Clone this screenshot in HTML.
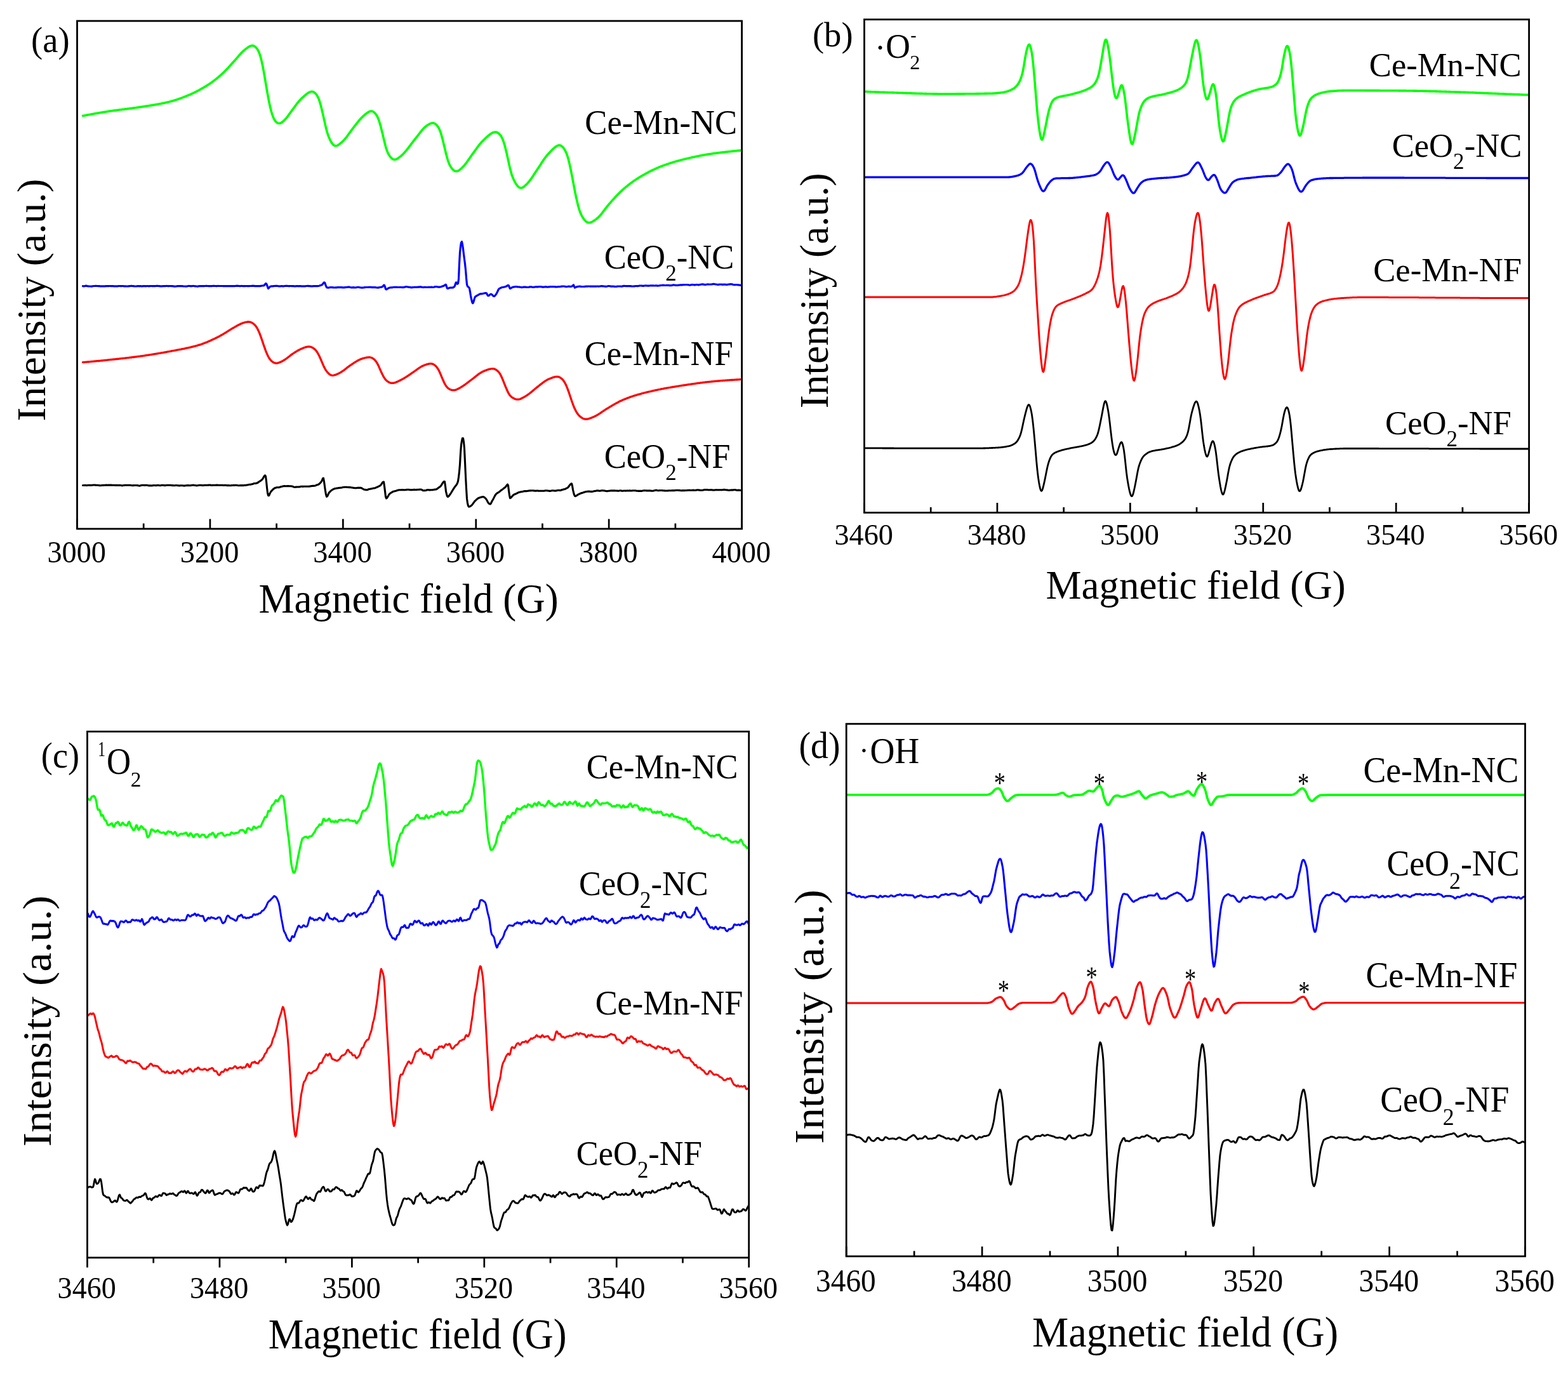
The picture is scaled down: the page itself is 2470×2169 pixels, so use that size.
<!DOCTYPE html>
<html lang="en"><head><meta charset="utf-8"><title>EPR spectra</title>
<style>html,body{margin:0;padding:0;background:#fff}body{width:2470px;height:2169px;overflow:hidden}</style>
</head><body>
<svg xmlns="http://www.w3.org/2000/svg" width="2470" height="2169" viewBox="0 0 2470 2169" style="display:block;font-family:'Liberation Serif', 'Times New Roman', Times, serif" fill="#000">
<rect width="2470" height="2169" fill="#fff"/>
<g><path d="M130.5,182.3 131.5,182.2 132.5,182.1 133.5,181.9 134.5,181.7 135.5,181.5 136.5,181.3 137.5,181.1 138.5,181.0 139.5,180.8 140.5,180.6 141.5,180.4 142.5,180.2 143.5,180.0 144.5,179.8 145.5,179.7 146.5,179.5 147.5,179.3 148.5,179.1 149.5,178.9 150.5,178.8 151.5,178.6 152.5,178.4 153.5,178.2 154.5,178.0 155.5,177.9 156.5,177.7 157.5,177.5 158.5,177.4 159.5,177.2 160.5,177.0 161.5,176.9 162.5,176.7 163.5,176.5 164.5,176.4 165.5,176.2 166.5,176.1 167.5,175.9 168.5,175.7 169.5,175.6 170.5,175.4 171.5,175.3 172.5,175.1 173.5,175.0 174.5,174.8 175.5,174.7 176.5,174.5 177.5,174.4 178.5,174.3 179.5,174.1 180.5,174.0 181.5,173.9 182.5,173.7 183.5,173.6 184.5,173.5 185.5,173.3 186.5,173.2 187.5,173.1 188.5,172.9 189.5,172.8 190.5,172.7 191.5,172.6 192.5,172.4 193.5,172.3 194.5,172.2 195.5,172.1 196.5,171.9 197.5,171.8 198.5,171.7 199.5,171.6 200.5,171.4 201.5,171.3 202.5,171.2 203.5,171.0 204.5,170.9 205.5,170.8 206.5,170.7 207.5,170.5 208.5,170.4 209.5,170.3 210.5,170.1 211.5,170.0 212.5,169.8 213.5,169.7 214.5,169.6 215.5,169.4 216.5,169.3 217.5,169.1 218.5,169.0 219.5,168.8 220.5,168.7 221.5,168.5 222.5,168.4 223.5,168.2 224.5,168.1 225.5,167.9 226.5,167.8 227.5,167.6 228.5,167.4 229.5,167.3 230.5,167.1 231.5,167.0 232.5,166.8 233.5,166.7 234.5,166.5 235.5,166.4 236.5,166.2 237.5,166.0 238.5,165.9 239.5,165.7 240.5,165.5 241.5,165.4 242.5,165.2 243.5,165.0 244.5,164.9 245.5,164.7 246.5,164.5 247.5,164.3 248.5,164.2 249.5,164.0 250.5,163.8 251.5,163.6 252.5,163.4 253.5,163.2 254.5,163.0 255.5,162.8 256.5,162.6 257.5,162.4 258.5,162.2 259.5,162.0 260.5,161.8 261.5,161.5 262.5,161.3 263.5,161.1 264.5,160.9 265.5,160.6 266.5,160.4 267.5,160.1 268.5,159.9 269.5,159.6 270.5,159.3 271.5,159.0 272.5,158.7 273.5,158.4 274.5,158.1 275.5,157.8 276.5,157.5 277.5,157.2 278.5,156.9 279.5,156.5 280.5,156.2 281.5,155.9 282.5,155.5 283.5,155.1 284.5,154.8 285.5,154.4 286.5,154.1 287.5,153.7 288.5,153.3 289.5,152.9 290.5,152.5 291.5,152.1 292.5,151.7 293.5,151.3 294.5,150.9 295.5,150.5 296.5,150.1 297.5,149.7 298.5,149.3 299.5,148.8 300.5,148.4 301.5,147.9 302.5,147.5 303.5,147.0 304.5,146.5 305.5,146.1 306.5,145.6 307.5,145.1 308.5,144.6 309.5,144.1 310.5,143.5 311.5,143.0 312.5,142.5 313.5,142.0 314.5,141.4 315.5,140.9 316.5,140.3 317.5,139.7 318.5,139.2 319.5,138.6 320.5,138.0 321.5,137.4 322.5,136.8 323.5,136.2 324.5,135.6 325.5,135.0 326.5,134.4 327.5,133.7 328.5,133.1 329.5,132.4 330.5,131.7 331.5,131.1 332.5,130.4 333.5,129.7 334.5,128.9 335.5,128.2 336.5,127.4 337.5,126.7 338.5,125.9 339.5,125.1 340.5,124.3 341.5,123.5 342.5,122.7 343.5,121.9 344.5,121.0 345.5,120.2 346.5,119.3 347.5,118.4 348.5,117.6 349.5,116.6 350.5,115.7 351.5,114.8 352.5,113.8 353.5,112.9 354.5,111.8 355.5,110.8 356.5,109.8 357.5,108.7 358.5,107.7 359.5,106.6 360.5,105.5 361.5,104.4 362.5,103.3 363.5,102.2 364.5,101.1 365.5,99.9 366.5,98.8 367.5,97.7 368.5,96.6 369.5,95.5 370.5,94.4 371.5,93.3 372.5,92.1 373.5,91.0 374.5,89.8 375.5,88.6 376.5,87.5 377.5,86.3 378.5,85.2 379.5,84.1 380.5,83.0 381.5,82.0 382.5,81.1 383.5,80.1 384.5,79.3 385.5,78.4 386.5,77.6 387.5,76.8 388.5,76.1 389.5,75.3 390.5,74.6 391.5,74.0 392.5,73.4 393.5,72.8 394.5,72.4 395.5,72.1 396.5,71.9 397.5,71.8 398.5,71.9 399.5,72.2 400.5,72.6 401.5,73.3 402.5,74.1 403.5,75.1 404.5,76.3 405.5,77.7 406.5,79.4 407.5,81.4 408.5,83.8 409.5,86.6 410.5,90.0 411.5,93.7 412.5,98.0 413.5,102.6 414.5,107.7 415.5,113.1 416.5,118.7 417.5,124.6 418.5,130.6 419.5,136.5 420.5,142.4 421.5,148.1 422.5,153.5 423.5,158.7 424.5,163.6 425.5,168.1 426.5,172.2 427.5,176.0 428.5,179.3 429.5,182.3 430.5,184.9 431.5,187.1 432.5,188.9 433.5,190.4 434.5,191.6 435.5,192.5 436.5,193.3 437.5,193.8 438.5,194.2 439.5,194.3 440.5,194.2 441.5,194.0 442.5,193.6 443.5,193.0 444.5,192.3 445.5,191.6 446.5,190.7 447.5,189.8 448.5,188.8 449.5,187.8 450.5,186.6 451.5,185.4 452.5,184.1 453.5,182.8 454.5,181.4 455.5,180.0 456.5,178.6 457.5,177.2 458.5,175.8 459.5,174.5 460.5,173.1 461.5,171.8 462.5,170.4 463.5,169.1 464.5,167.7 465.5,166.4 466.5,165.0 467.5,163.7 468.5,162.4 469.5,161.1 470.5,159.9 471.5,158.8 472.5,157.7 473.5,156.6 474.5,155.6 475.5,154.6 476.5,153.7 477.5,152.8 478.5,151.9 479.5,151.0 480.5,150.1 481.5,149.3 482.5,148.5 483.5,147.7 484.5,147.0 485.5,146.3 486.5,145.7 487.5,145.2 488.5,144.8 489.5,144.5 490.5,144.3 491.5,144.3 492.5,144.4 493.5,144.7 494.5,145.2 495.5,145.9 496.5,146.8 497.5,147.8 498.5,149.1 499.5,150.6 500.5,152.3 501.5,154.4 502.5,156.9 503.5,159.9 504.5,163.2 505.5,166.9 506.5,170.8 507.5,175.0 508.5,179.3 509.5,183.7 510.5,188.2 511.5,192.7 512.5,197.1 513.5,201.3 514.5,205.2 515.5,208.7 516.5,211.9 517.5,214.7 518.5,217.1 519.5,219.4 520.5,221.4 521.5,223.3 522.5,224.9 523.5,226.3 524.5,227.5 525.5,228.5 526.5,229.2 527.5,229.6 528.5,229.8 529.5,229.7 530.5,229.5 531.5,229.1 532.5,228.6 533.5,227.9 534.5,227.2 535.5,226.4 536.5,225.6 537.5,224.7 538.5,223.8 539.5,222.9 540.5,221.9 541.5,220.9 542.5,219.8 543.5,218.7 544.5,217.5 545.5,216.3 546.5,215.0 547.5,213.7 548.5,212.3 549.5,210.9 550.5,209.5 551.5,208.1 552.5,206.7 553.5,205.4 554.5,204.0 555.5,202.7 556.5,201.3 557.5,200.0 558.5,198.8 559.5,197.5 560.5,196.2 561.5,194.9 562.5,193.7 563.5,192.4 564.5,191.2 565.5,189.9 566.5,188.8 567.5,187.6 568.5,186.5 569.5,185.5 570.5,184.5 571.5,183.5 572.5,182.6 573.5,181.7 574.5,180.9 575.5,180.0 576.5,179.2 577.5,178.5 578.5,177.7 579.5,177.1 580.5,176.5 581.5,175.9 582.5,175.5 583.5,175.2 584.5,175.1 585.5,175.1 586.5,175.3 587.5,175.7 588.5,176.3 589.5,177.1 590.5,178.1 591.5,179.2 592.5,180.6 593.5,182.1 594.5,184.0 595.5,186.1 596.5,188.7 597.5,191.6 598.5,194.9 599.5,198.5 600.5,202.3 601.5,206.3 602.5,210.4 603.5,214.6 604.5,218.8 605.5,223.0 606.5,227.0 607.5,230.8 608.5,234.2 609.5,237.1 610.5,239.7 611.5,241.8 612.5,243.6 613.5,245.2 614.5,246.6 615.5,247.8 616.5,248.9 617.5,249.8 618.5,250.5 619.5,251.0 620.5,251.3 621.5,251.4 622.5,251.3 623.5,251.1 624.5,250.7 625.5,250.2 626.5,249.6 627.5,248.9 628.5,248.2 629.5,247.4 630.5,246.6 631.5,245.8 632.5,244.9 633.5,244.0 634.5,243.0 635.5,242.0 636.5,241.0 637.5,239.9 638.5,238.7 639.5,237.6 640.5,236.3 641.5,235.1 642.5,233.8 643.5,232.5 644.5,231.2 645.5,229.9 646.5,228.6 647.5,227.2 648.5,225.9 649.5,224.6 650.5,223.3 651.5,221.9 652.5,220.7 653.5,219.4 654.5,218.1 655.5,216.9 656.5,215.6 657.5,214.3 658.5,213.1 659.5,211.8 660.5,210.5 661.5,209.2 662.5,207.9 663.5,206.7 664.5,205.4 665.5,204.2 666.5,203.1 667.5,202.1 668.5,201.1 669.5,200.2 670.5,199.3 671.5,198.5 672.5,197.8 673.5,197.1 674.5,196.5 675.5,195.9 676.5,195.3 677.5,194.8 678.5,194.4 679.5,194.1 680.5,193.8 681.5,193.8 682.5,193.8 683.5,194.0 684.5,194.5 685.5,195.0 686.5,195.8 687.5,196.7 688.5,197.8 689.5,199.1 690.5,200.6 691.5,202.4 692.5,204.5 693.5,207.0 694.5,209.9 695.5,213.3 696.5,216.9 697.5,220.9 698.5,224.9 699.5,229.1 700.5,233.2 701.5,237.4 702.5,241.5 703.5,245.4 704.5,249.1 705.5,252.5 706.5,255.4 707.5,257.9 708.5,260.1 709.5,261.9 710.5,263.5 711.5,264.9 712.5,266.1 713.5,267.2 714.5,268.1 715.5,268.8 716.5,269.4 717.5,269.7 718.5,269.8 719.5,269.8 720.5,269.5 721.5,269.1 722.5,268.6 723.5,267.9 724.5,267.2 725.5,266.4 726.5,265.5 727.5,264.6 728.5,263.6 729.5,262.6 730.5,261.5 731.5,260.4 732.5,259.2 733.5,257.9 734.5,256.6 735.5,255.2 736.5,253.8 737.5,252.3 738.5,250.9 739.5,249.4 740.5,248.0 741.5,246.6 742.5,245.2 743.5,243.8 744.5,242.4 745.5,241.0 746.5,239.6 747.5,238.3 748.5,236.9 749.5,235.5 750.5,234.1 751.5,232.7 752.5,231.3 753.5,230.0 754.5,228.7 755.5,227.4 756.5,226.2 757.5,225.1 758.5,223.9 759.5,222.9 760.5,221.8 761.5,220.9 762.5,219.9 763.5,218.9 764.5,218.0 765.5,217.1 766.5,216.1 767.5,215.2 768.5,214.3 769.5,213.5 770.5,212.7 771.5,211.9 772.5,211.1 773.5,210.5 774.5,209.8 775.5,209.3 776.5,208.8 777.5,208.5 778.5,208.2 779.5,208.0 780.5,208.0 781.5,208.1 782.5,208.3 783.5,208.8 784.5,209.3 785.5,210.1 786.5,211.0 787.5,212.1 788.5,213.3 789.5,214.8 790.5,216.6 791.5,218.6 792.5,221.1 793.5,223.9 794.5,227.2 795.5,230.8 796.5,234.7 797.5,238.8 798.5,243.1 799.5,247.6 800.5,252.2 801.5,256.8 802.5,261.4 803.5,265.6 804.5,269.6 805.5,273.1 806.5,276.2 807.5,278.9 808.5,281.3 809.5,283.5 810.5,285.5 811.5,287.4 812.5,289.1 813.5,290.7 814.5,292.0 815.5,293.2 816.5,294.2 817.5,295.0 818.5,295.6 819.5,295.9 820.5,296.0 821.5,295.9 822.5,295.7 823.5,295.2 824.5,294.6 825.5,293.9 826.5,293.0 827.5,292.1 828.5,291.2 829.5,290.2 830.5,289.2 831.5,288.1 832.5,286.9 833.5,285.8 834.5,284.5 835.5,283.2 836.5,281.8 837.5,280.4 838.5,278.9 839.5,277.4 840.5,275.9 841.5,274.3 842.5,272.8 843.5,271.3 844.5,269.8 845.5,268.3 846.5,266.8 847.5,265.3 848.5,263.7 849.5,262.2 850.5,260.7 851.5,259.2 852.5,257.6 853.5,256.1 854.5,254.6 855.5,253.1 856.5,251.6 857.5,250.1 858.5,248.8 859.5,247.4 860.5,246.1 861.5,244.9 862.5,243.7 863.5,242.6 864.5,241.5 865.5,240.4 866.5,239.4 867.5,238.3 868.5,237.3 869.5,236.2 870.5,235.2 871.5,234.3 872.5,233.4 873.5,232.5 874.5,231.7 875.5,231.0 876.5,230.3 877.5,229.8 878.5,229.3 879.5,229.0 880.5,228.9 881.5,228.8 882.5,229.0 883.5,229.4 884.5,230.0 885.5,230.8 886.5,231.7 887.5,232.9 888.5,234.3 889.5,235.8 890.5,237.6 891.5,239.6 892.5,242.0 893.5,244.8 894.5,248.0 895.5,251.6 896.5,255.6 897.5,259.9 898.5,264.5 899.5,269.3 900.5,274.3 901.5,279.5 902.5,284.8 903.5,290.1 904.5,295.4 905.5,300.6 906.5,305.6 907.5,310.4 908.5,314.9 909.5,319.2 910.5,323.2 911.5,326.9 912.5,330.2 913.5,333.2 914.5,335.8 915.5,338.0 916.5,340.0 917.5,341.8 918.5,343.4 919.5,344.8 920.5,346.1 921.5,347.3 922.5,348.3 923.5,349.1 924.5,349.8 925.5,350.3 926.5,350.6 927.5,350.7 928.5,350.7 929.5,350.6 930.5,350.3 931.5,350.0 932.5,349.5 933.5,349.0 934.5,348.4 935.5,347.7 936.5,347.1 937.5,346.3 938.5,345.6 939.5,344.8 940.5,344.0 941.5,343.2 942.5,342.3 943.5,341.3 944.5,340.3 945.5,339.2 946.5,338.0 947.5,336.8 948.5,335.5 949.5,334.2 950.5,332.9 951.5,331.6 952.5,330.2 953.5,328.9 954.5,327.6 955.5,326.3 956.5,325.0 957.5,323.8 958.5,322.6 959.5,321.4 960.5,320.3 961.5,319.1 962.5,318.0 963.5,316.9 964.5,315.7 965.5,314.6 966.5,313.5 967.5,312.4 968.5,311.3 969.5,310.2 970.5,309.1 971.5,308.1 972.5,307.0 973.5,306.0 974.5,305.0 975.5,304.0 976.5,303.0 977.5,302.0 978.5,301.1 979.5,300.2 980.5,299.2 981.5,298.4 982.5,297.5 983.5,296.6 984.5,295.8 985.5,294.9 986.5,294.1 987.5,293.3 988.5,292.5 989.5,291.7 990.5,290.9 991.5,290.1 992.5,289.3 993.5,288.6 994.5,287.8 995.5,287.1 996.5,286.4 997.5,285.6 998.5,284.9 999.5,284.2 1000.5,283.6 1001.5,282.9 1002.5,282.2 1003.5,281.6 1004.5,281.0 1005.5,280.3 1006.5,279.7 1007.5,279.1 1008.5,278.5 1009.5,277.9 1010.5,277.3 1011.5,276.7 1012.5,276.2 1013.5,275.6 1014.5,275.0 1015.5,274.5 1016.5,273.9 1017.5,273.4 1018.5,272.8 1019.5,272.3 1020.5,271.7 1021.5,271.2 1022.5,270.7 1023.5,270.2 1024.5,269.7 1025.5,269.2 1026.5,268.7 1027.5,268.2 1028.5,267.7 1029.5,267.2 1030.5,266.8 1031.5,266.3 1032.5,265.8 1033.5,265.4 1034.5,264.9 1035.5,264.5 1036.5,264.1 1037.5,263.7 1038.5,263.2 1039.5,262.8 1040.5,262.4 1041.5,262.0 1042.5,261.6 1043.5,261.3 1044.5,260.9 1045.5,260.5 1046.5,260.2 1047.5,259.8 1048.5,259.4 1049.5,259.1 1050.5,258.8 1051.5,258.4 1052.5,258.1 1053.5,257.7 1054.5,257.4 1055.5,257.1 1056.5,256.8 1057.5,256.5 1058.5,256.1 1059.5,255.8 1060.5,255.5 1061.5,255.2 1062.5,254.9 1063.5,254.6 1064.5,254.3 1065.5,254.1 1066.5,253.8 1067.5,253.5 1068.5,253.2 1069.5,252.9 1070.5,252.7 1071.5,252.4 1072.5,252.1 1073.5,251.9 1074.5,251.6 1075.5,251.4 1076.5,251.1 1077.5,250.9 1078.5,250.6 1079.5,250.4 1080.5,250.1 1081.5,249.9 1082.5,249.6 1083.5,249.4 1084.5,249.2 1085.5,248.9 1086.5,248.7 1087.5,248.5 1088.5,248.3 1089.5,248.0 1090.5,247.8 1091.5,247.6 1092.5,247.4 1093.5,247.2 1094.5,246.9 1095.5,246.7 1096.5,246.5 1097.5,246.3 1098.5,246.1 1099.5,245.9 1100.5,245.7 1101.5,245.5 1102.5,245.3 1103.5,245.1 1104.5,244.9 1105.5,244.7 1106.5,244.5 1107.5,244.4 1108.5,244.2 1109.5,244.0 1110.5,243.8 1111.5,243.6 1112.5,243.5 1113.5,243.3 1114.5,243.1 1115.5,243.0 1116.5,242.8 1117.5,242.7 1118.5,242.5 1119.5,242.4 1120.5,242.2 1121.5,242.1 1122.5,241.9 1123.5,241.8 1124.5,241.6 1125.5,241.5 1126.5,241.4 1127.5,241.2 1128.5,241.1 1129.5,241.0 1130.5,240.9 1131.5,240.7 1132.5,240.6 1133.5,240.5 1134.5,240.4 1135.5,240.3 1136.5,240.1 1137.5,240.0 1138.5,239.9 1139.5,239.8 1140.5,239.7 1141.5,239.6 1142.5,239.4 1143.5,239.3 1144.5,239.2 1145.5,239.1 1146.5,239.0 1147.5,238.9 1148.5,238.8 1149.5,238.7 1150.5,238.6 1151.5,238.4 1152.5,238.3 1153.5,238.2 1154.5,238.1 1155.5,238.0 1156.5,237.9 1157.5,237.8 1158.5,237.7 1159.5,237.6 1160.5,237.5 1161.5,237.4 1162.5,237.3 1163.5,237.2 1164.5,237.1 1165.5,237.1 1166.5,237.0 1167.5,236.9 1168.0,236.9" fill="none" stroke="#00ff00" stroke-width="3.6" stroke-linejoin="round" stroke-linecap="round"/>
<path d="M130.5,450.7 131.5,450.8 132.5,450.8 133.5,450.6 134.5,450.3 135.5,450.2 136.5,450.3 137.5,450.6 138.5,450.8 139.5,450.9 140.5,451.0 141.5,451.0 142.5,451.0 143.5,451.1 144.5,451.1 145.5,450.9 146.5,450.7 147.5,450.5 148.5,450.5 149.5,450.5 150.5,450.4 151.5,450.4 152.5,450.5 153.5,450.5 154.5,450.6 155.5,450.7 156.5,450.7 157.5,450.8 158.5,450.9 159.5,450.9 160.5,450.9 161.5,450.8 162.5,450.8 163.5,450.8 164.5,450.8 165.5,450.8 166.5,450.7 167.5,450.6 168.5,450.6 169.5,450.6 170.5,450.6 171.5,450.6 172.5,450.5 173.5,450.5 174.5,450.6 175.5,450.6 176.5,450.7 177.5,450.7 178.5,450.7 179.5,450.8 180.5,450.8 181.5,450.8 182.5,450.8 183.5,450.8 184.5,450.9 185.5,450.8 186.5,450.6 187.5,450.5 188.5,450.5 189.5,450.6 190.5,450.7 191.5,450.6 192.5,450.5 193.5,450.5 194.5,450.7 195.5,450.8 196.5,450.8 197.5,450.8 198.5,450.9 199.5,451.0 200.5,451.0 201.5,450.9 202.5,450.8 203.5,450.7 204.5,450.6 205.5,450.5 206.5,450.4 207.5,450.4 208.5,450.5 209.5,450.6 210.5,450.7 211.5,450.8 212.5,451.0 213.5,451.0 214.5,451.0 215.5,450.8 216.5,450.7 217.5,450.7 218.5,450.7 219.5,450.8 220.5,450.7 221.5,450.7 222.5,450.8 223.5,450.8 224.5,450.8 225.5,450.7 226.5,450.7 227.5,450.7 228.5,450.7 229.5,450.8 230.5,450.7 231.5,450.5 232.5,450.5 233.5,450.7 234.5,450.8 235.5,450.7 236.5,450.6 237.5,450.5 238.5,450.5 239.5,450.6 240.5,450.6 241.5,450.7 242.5,450.7 243.5,450.7 244.5,450.6 245.5,450.5 246.5,450.4 247.5,450.4 248.5,450.4 249.5,450.5 250.5,450.6 251.5,450.7 252.5,450.8 253.5,450.8 254.5,450.8 255.5,450.8 256.5,450.7 257.5,450.7 258.5,450.7 259.5,450.7 260.5,450.6 261.5,450.5 262.5,450.4 263.5,450.5 264.5,450.6 265.5,450.7 266.5,450.6 267.5,450.5 268.5,450.5 269.5,450.6 270.5,450.7 271.5,450.7 272.5,450.8 273.5,450.9 274.5,451.1 275.5,451.2 276.5,451.2 277.5,451.0 278.5,450.8 279.5,450.7 280.5,450.7 281.5,450.7 282.5,450.7 283.5,450.6 284.5,450.6 285.5,450.6 286.5,450.6 287.5,450.7 288.5,450.9 289.5,451.0 290.5,451.0 291.5,451.0 292.5,451.1 293.5,451.1 294.5,451.0 295.5,450.7 296.5,450.5 297.5,450.4 298.5,450.5 299.5,450.6 300.5,450.7 301.5,450.8 302.5,450.6 303.5,450.5 304.5,450.4 305.5,450.5 306.5,450.7 307.5,450.8 308.5,450.9 309.5,451.0 310.5,451.1 311.5,451.1 312.5,450.9 313.5,450.7 314.5,450.6 315.5,450.6 316.5,450.7 317.5,450.7 318.5,450.7 319.5,450.7 320.5,450.6 321.5,450.6 322.5,450.5 323.5,450.5 324.5,450.4 325.5,450.4 326.5,450.5 327.5,450.5 328.5,450.6 329.5,450.7 330.5,450.7 331.5,450.7 332.5,450.7 333.5,450.6 334.5,450.5 335.5,450.4 336.5,450.4 337.5,450.4 338.5,450.5 339.5,450.5 340.5,450.6 341.5,450.6 342.5,450.5 343.5,450.4 344.5,450.5 345.5,450.5 346.5,450.5 347.5,450.5 348.5,450.5 349.5,450.5 350.5,450.5 351.5,450.6 352.5,450.6 353.5,450.6 354.5,450.6 355.5,450.6 356.5,450.5 357.5,450.6 358.5,450.6 359.5,450.7 360.5,450.7 361.5,450.7 362.5,450.6 363.5,450.6 364.5,450.6 365.5,450.6 366.5,450.6 367.5,450.6 368.5,450.6 369.5,450.6 370.5,450.5 371.5,450.4 372.5,450.3 373.5,450.2 374.5,450.3 375.5,450.4 376.5,450.5 377.5,450.6 378.5,450.6 379.5,450.5 380.5,450.4 381.5,450.5 382.5,450.6 383.5,450.7 384.5,450.7 385.5,450.6 386.5,450.6 387.5,450.5 388.5,450.5 389.5,450.6 390.5,450.6 391.5,450.6 392.5,450.6 393.5,450.5 394.5,450.5 395.5,450.5 396.5,450.4 397.5,450.3 398.5,450.2 399.5,450.3 400.5,450.4 401.5,450.6 402.5,450.7 403.5,450.7 404.5,450.7 405.5,450.6 406.5,450.7 407.5,450.7 408.5,450.7 409.5,450.6 410.5,450.4 411.5,450.3 412.5,450.1 413.5,450.0 414.5,449.9 415.5,449.8 416.5,449.3 417.5,447.9 418.5,446.5 419.5,446.7 420.5,448.9 421.5,451.8 422.5,454.5 423.5,453.8 424.5,452.5 425.5,451.4 426.5,451.0 427.5,450.9 428.5,450.8 429.5,450.8 430.5,450.7 431.5,450.6 432.5,450.5 433.5,450.4 434.5,450.4 435.5,450.4 436.5,450.4 437.5,450.5 438.5,450.7 439.5,450.9 440.5,450.9 441.5,450.9 442.5,450.7 443.5,450.7 444.5,450.7 445.5,450.8 446.5,450.8 447.5,450.7 448.5,450.5 449.5,450.4 450.5,450.4 451.5,450.4 452.5,450.4 453.5,450.5 454.5,450.6 455.5,450.6 456.5,450.6 457.5,450.5 458.5,450.5 459.5,450.6 460.5,450.5 461.5,450.6 462.5,450.7 463.5,450.8 464.5,450.8 465.5,450.8 466.5,450.7 467.5,450.6 468.5,450.6 469.5,450.7 470.5,450.8 471.5,450.7 472.5,450.7 473.5,450.7 474.5,450.8 475.5,450.8 476.5,450.8 477.5,450.8 478.5,450.8 479.5,450.9 480.5,450.8 481.5,450.7 482.5,450.5 483.5,450.5 484.5,450.4 485.5,450.4 486.5,450.6 487.5,450.7 488.5,450.7 489.5,450.8 490.5,450.8 491.5,450.9 492.5,450.8 493.5,450.7 494.5,450.6 495.5,450.6 496.5,450.6 497.5,450.7 498.5,450.7 499.5,450.7 500.5,450.6 501.5,450.5 502.5,450.3 503.5,450.0 504.5,449.6 505.5,449.3 506.5,449.0 507.5,448.5 508.5,447.4 509.5,445.9 510.5,444.9 511.5,445.2 512.5,447.7 513.5,450.4 514.5,452.6 515.5,452.9 516.5,453.1 517.5,453.1 518.5,453.0 519.5,452.8 520.5,452.6 521.5,452.6 522.5,452.6 523.5,452.7 524.5,452.8 525.5,452.9 526.5,453.0 527.5,453.0 528.5,452.9 529.5,452.9 530.5,452.8 531.5,452.7 532.5,452.7 533.5,452.7 534.5,452.7 535.5,452.7 536.5,452.6 537.5,452.6 538.5,452.7 539.5,452.8 540.5,452.8 541.5,452.9 542.5,452.8 543.5,452.7 544.5,452.6 545.5,452.5 546.5,452.4 547.5,452.3 548.5,452.2 549.5,452.1 550.5,452.2 551.5,452.5 552.5,452.7 553.5,452.9 554.5,452.9 555.5,452.8 556.5,452.7 557.5,452.8 558.5,452.9 559.5,453.0 560.5,452.9 561.5,452.7 562.5,452.5 563.5,452.4 564.5,452.4 565.5,452.5 566.5,452.7 567.5,452.9 568.5,453.0 569.5,453.1 570.5,453.1 571.5,453.1 572.5,453.0 573.5,452.8 574.5,452.7 575.5,452.6 576.5,452.5 577.5,452.5 578.5,452.5 579.5,452.5 580.5,452.4 581.5,452.3 582.5,452.3 583.5,452.3 584.5,452.4 585.5,452.6 586.5,452.6 587.5,452.6 588.5,452.6 589.5,452.5 590.5,452.6 591.5,452.7 592.5,452.9 593.5,453.0 594.5,453.1 595.5,453.1 596.5,452.9 597.5,452.8 598.5,452.5 599.5,452.4 600.5,452.3 601.5,452.0 602.5,451.5 603.5,450.6 604.5,449.1 605.5,449.3 606.5,451.8 607.5,455.2 608.5,455.9 609.5,455.5 610.5,454.8 611.5,454.1 612.5,453.6 613.5,453.3 614.5,453.0 615.5,452.9 616.5,452.9 617.5,452.8 618.5,452.7 619.5,452.5 620.5,452.4 621.5,452.4 622.5,452.3 623.5,452.3 624.5,452.3 625.5,452.4 626.5,452.5 627.5,452.5 628.5,452.5 629.5,452.5 630.5,452.4 631.5,452.5 632.5,452.5 633.5,452.7 634.5,452.7 635.5,452.6 636.5,452.4 637.5,452.2 638.5,451.9 639.5,451.7 640.5,451.7 641.5,451.9 642.5,452.0 643.5,452.2 644.5,452.3 645.5,452.4 646.5,452.6 647.5,452.8 648.5,452.8 649.5,452.7 650.5,452.6 651.5,452.5 652.5,452.4 653.5,452.4 654.5,452.4 655.5,452.4 656.5,452.4 657.5,452.3 658.5,452.2 659.5,452.2 660.5,452.1 661.5,451.9 662.5,451.9 663.5,452.1 664.5,452.3 665.5,452.5 666.5,452.6 667.5,452.5 668.5,452.4 669.5,452.3 670.5,452.4 671.5,452.5 672.5,452.5 673.5,452.5 674.5,452.4 675.5,452.3 676.5,452.4 677.5,452.3 678.5,452.3 679.5,452.2 680.5,452.3 681.5,452.5 682.5,452.5 683.5,452.3 684.5,451.9 685.5,451.6 686.5,451.5 687.5,451.6 688.5,451.8 689.5,452.0 690.5,452.1 691.5,452.2 692.5,452.1 693.5,452.0 694.5,451.8 695.5,451.5 696.5,451.1 697.5,450.7 698.5,450.4 699.5,450.0 700.5,449.2 701.5,448.4 702.5,448.4 703.5,451.4 704.5,454.3 705.5,454.5 706.5,454.1 707.5,453.7 708.5,453.3 709.5,453.1 710.5,453.0 711.5,453.1 712.5,453.1 713.5,453.0 714.5,452.5 715.5,451.8 716.5,450.2 717.5,446.8 718.5,444.8 719.5,445.8 720.5,447.2 721.5,446.4 722.5,439.8 723.5,416.4 724.5,397.9 725.5,388.1 726.5,382.1 727.5,380.6 728.5,385.3 729.5,392.0 730.5,400.4 731.5,408.1 732.5,415.8 733.5,425.1 734.5,437.7 735.5,448.0 736.5,451.0 737.5,451.9 738.5,452.5 739.5,454.3 740.5,459.6 741.5,466.1 742.5,470.9 743.5,475.1 744.5,477.7 745.5,476.9 746.5,473.5 747.5,469.8 748.5,467.6 749.5,466.8 750.5,466.2 751.5,465.6 752.5,465.0 753.5,464.5 754.5,463.9 755.5,463.3 756.5,462.9 757.5,462.8 758.5,462.8 759.5,462.7 760.5,462.5 761.5,462.2 762.5,462.0 763.5,461.8 764.5,461.7 765.5,461.6 766.5,462.0 767.5,463.9 768.5,465.8 769.5,466.0 770.5,465.3 771.5,464.3 772.5,463.6 773.5,463.3 774.5,463.7 775.5,464.7 776.5,465.7 777.5,466.5 778.5,466.7 779.5,466.0 780.5,464.8 781.5,463.3 782.5,461.8 783.5,459.8 784.5,457.5 785.5,455.6 786.5,454.7 787.5,454.1 788.5,453.6 789.5,453.1 790.5,452.8 791.5,452.5 792.5,452.4 793.5,452.2 794.5,452.0 795.5,451.8 796.5,451.4 797.5,451.0 798.5,450.5 799.5,449.7 800.5,449.3 801.5,450.1 802.5,452.6 803.5,454.4 804.5,454.1 805.5,453.5 806.5,452.8 807.5,452.4 808.5,452.1 809.5,452.0 810.5,451.8 811.5,451.7 812.5,451.5 813.5,451.6 814.5,451.8 815.5,451.9 816.5,452.0 817.5,452.0 818.5,452.1 819.5,452.3 820.5,452.5 821.5,452.6 822.5,452.6 823.5,452.5 824.5,452.2 825.5,452.1 826.5,452.1 827.5,452.1 828.5,452.3 829.5,452.4 830.5,452.5 831.5,452.5 832.5,452.4 833.5,452.2 834.5,451.9 835.5,451.8 836.5,451.8 837.5,452.0 838.5,452.2 839.5,452.4 840.5,452.4 841.5,452.2 842.5,452.0 843.5,451.9 844.5,451.8 845.5,451.9 846.5,451.9 847.5,451.8 848.5,451.7 849.5,451.7 850.5,451.6 851.5,451.6 852.5,451.7 853.5,451.9 854.5,452.1 855.5,452.2 856.5,452.1 857.5,452.0 858.5,451.8 859.5,451.7 860.5,451.8 861.5,452.0 862.5,452.1 863.5,452.0 864.5,451.9 865.5,451.8 866.5,451.7 867.5,451.7 868.5,451.7 869.5,451.7 870.5,451.7 871.5,451.7 872.5,451.7 873.5,451.7 874.5,451.8 875.5,451.9 876.5,452.0 877.5,451.9 878.5,451.7 879.5,451.7 880.5,451.7 881.5,451.7 882.5,451.5 883.5,451.3 884.5,451.2 885.5,451.1 886.5,451.0 887.5,451.0 888.5,451.0 889.5,451.2 890.5,451.4 891.5,451.6 892.5,451.6 893.5,451.5 894.5,451.3 895.5,451.2 896.5,451.2 897.5,451.3 898.5,451.4 899.5,451.3 900.5,451.1 901.5,450.7 902.5,449.5 903.5,448.8 904.5,451.2 905.5,453.2 906.5,452.6 907.5,452.1 908.5,451.8 909.5,451.7 910.5,451.4 911.5,451.2 912.5,451.0 913.5,451.1 914.5,451.3 915.5,451.4 916.5,451.5 917.5,451.5 918.5,451.5 919.5,451.5 920.5,451.4 921.5,451.3 922.5,451.2 923.5,451.2 924.5,451.2 925.5,451.1 926.5,451.0 927.5,451.0 928.5,451.0 929.5,451.1 930.5,451.1 931.5,451.1 932.5,451.1 933.5,451.1 934.5,451.2 935.5,451.2 936.5,451.2 937.5,451.2 938.5,451.2 939.5,451.1 940.5,451.0 941.5,451.0 942.5,451.1 943.5,451.1 944.5,451.0 945.5,450.9 946.5,450.7 947.5,450.7 948.5,450.7 949.5,450.8 950.5,450.9 951.5,451.0 952.5,451.1 953.5,451.2 954.5,451.3 955.5,451.2 956.5,451.0 957.5,450.7 958.5,450.5 959.5,450.5 960.5,450.7 961.5,450.9 962.5,451.1 963.5,451.1 964.5,451.1 965.5,451.1 966.5,451.1 967.5,451.3 968.5,451.4 969.5,451.5 970.5,451.4 971.5,451.3 972.5,451.1 973.5,451.0 974.5,451.0 975.5,451.0 976.5,451.0 977.5,451.0 978.5,451.1 979.5,451.1 980.5,450.9 981.5,450.6 982.5,450.4 983.5,450.4 984.5,450.5 985.5,450.6 986.5,450.6 987.5,450.7 988.5,450.7 989.5,450.7 990.5,450.6 991.5,450.5 992.5,450.6 993.5,450.7 994.5,450.8 995.5,451.0 996.5,451.0 997.5,451.0 998.5,450.9 999.5,450.8 1000.5,450.7 1001.5,450.5 1002.5,450.5 1003.5,450.6 1004.5,450.6 1005.5,450.5 1006.5,450.3 1007.5,450.1 1008.5,450.0 1009.5,450.0 1010.5,450.1 1011.5,450.2 1012.5,450.3 1013.5,450.3 1014.5,450.2 1015.5,450.0 1016.5,449.9 1017.5,449.9 1018.5,450.0 1019.5,450.1 1020.5,450.2 1021.5,450.2 1022.5,450.1 1023.5,450.0 1024.5,449.9 1025.5,449.9 1026.5,449.8 1027.5,449.8 1028.5,449.8 1029.5,449.9 1030.5,450.0 1031.5,450.0 1032.5,449.9 1033.5,449.9 1034.5,449.9 1035.5,450.1 1036.5,450.1 1037.5,450.0 1038.5,449.9 1039.5,449.7 1040.5,449.6 1041.5,449.5 1042.5,449.4 1043.5,449.3 1044.5,449.2 1045.5,449.3 1046.5,449.4 1047.5,449.5 1048.5,449.5 1049.5,449.4 1050.5,449.3 1051.5,449.3 1052.5,449.3 1053.5,449.4 1054.5,449.6 1055.5,449.7 1056.5,449.7 1057.5,449.6 1058.5,449.4 1059.5,449.2 1060.5,448.9 1061.5,448.9 1062.5,449.0 1063.5,449.2 1064.5,449.3 1065.5,449.4 1066.5,449.4 1067.5,449.4 1068.5,449.2 1069.5,449.1 1070.5,449.0 1071.5,448.9 1072.5,448.9 1073.5,448.9 1074.5,448.8 1075.5,448.7 1076.5,448.6 1077.5,448.6 1078.5,448.5 1079.5,448.5 1080.5,448.5 1081.5,448.5 1082.5,448.5 1083.5,448.6 1084.5,448.8 1085.5,449.0 1086.5,449.1 1087.5,449.0 1088.5,448.8 1089.5,448.6 1090.5,448.4 1091.5,448.5 1092.5,448.6 1093.5,448.8 1094.5,448.8 1095.5,448.7 1096.5,448.5 1097.5,448.4 1098.5,448.5 1099.5,448.7 1100.5,448.8 1101.5,448.6 1102.5,448.4 1103.5,448.2 1104.5,448.0 1105.5,447.9 1106.5,447.8 1107.5,447.9 1108.5,448.1 1109.5,448.3 1110.5,448.4 1111.5,448.4 1112.5,448.2 1113.5,448.0 1114.5,447.9 1115.5,447.9 1116.5,448.0 1117.5,448.0 1118.5,448.0 1119.5,448.0 1120.5,448.0 1121.5,447.8 1122.5,447.6 1123.5,447.4 1124.5,447.3 1125.5,447.5 1126.5,447.7 1127.5,447.9 1128.5,448.0 1129.5,448.2 1130.5,448.3 1131.5,448.3 1132.5,448.2 1133.5,448.1 1134.5,448.0 1135.5,448.0 1136.5,448.1 1137.5,448.2 1138.5,448.3 1139.5,448.2 1140.5,448.1 1141.5,448.1 1142.5,448.2 1143.5,448.3 1144.5,448.3 1145.5,448.3 1146.5,448.2 1147.5,448.0 1148.5,447.9 1149.5,447.8 1150.5,447.7 1151.5,447.7 1152.5,447.7 1153.5,447.9 1154.5,448.2 1155.5,448.5 1156.5,448.6 1157.5,448.6 1158.5,448.6 1159.5,448.5 1160.5,448.5 1161.5,448.6 1162.5,448.8 1163.5,448.9 1164.5,449.0 1165.5,449.1 1166.5,449.2 1167.5,449.4 1168.0,449.5" fill="none" stroke="#0000ff" stroke-width="3.2" stroke-linejoin="round" stroke-linecap="round"/>
<path d="M130.5,570.7 131.5,570.6 132.5,570.6 133.5,570.5 134.5,570.4 135.5,570.3 136.5,570.2 137.5,570.1 138.5,570.0 139.5,570.0 140.5,569.9 141.5,569.8 142.5,569.7 143.5,569.6 144.5,569.5 145.5,569.4 146.5,569.3 147.5,569.2 148.5,569.1 149.5,569.0 150.5,568.9 151.5,568.8 152.5,568.7 153.5,568.6 154.5,568.6 155.5,568.5 156.5,568.4 157.5,568.3 158.5,568.2 159.5,568.1 160.5,568.0 161.5,567.9 162.5,567.8 163.5,567.7 164.5,567.6 165.5,567.5 166.5,567.4 167.5,567.3 168.5,567.2 169.5,567.1 170.5,566.9 171.5,566.8 172.5,566.7 173.5,566.6 174.5,566.5 175.5,566.4 176.5,566.3 177.5,566.2 178.5,566.1 179.5,566.0 180.5,565.9 181.5,565.8 182.5,565.7 183.5,565.6 184.5,565.5 185.5,565.4 186.5,565.3 187.5,565.2 188.5,565.0 189.5,564.9 190.5,564.8 191.5,564.7 192.5,564.6 193.5,564.5 194.5,564.4 195.5,564.3 196.5,564.2 197.5,564.0 198.5,563.9 199.5,563.8 200.5,563.7 201.5,563.6 202.5,563.5 203.5,563.3 204.5,563.2 205.5,563.1 206.5,563.0 207.5,562.9 208.5,562.7 209.5,562.6 210.5,562.5 211.5,562.4 212.5,562.2 213.5,562.1 214.5,562.0 215.5,561.8 216.5,561.7 217.5,561.6 218.5,561.4 219.5,561.3 220.5,561.2 221.5,561.0 222.5,560.9 223.5,560.8 224.5,560.6 225.5,560.5 226.5,560.3 227.5,560.2 228.5,560.0 229.5,559.9 230.5,559.7 231.5,559.6 232.5,559.4 233.5,559.3 234.5,559.1 235.5,559.0 236.5,558.8 237.5,558.7 238.5,558.5 239.5,558.4 240.5,558.2 241.5,558.0 242.5,557.9 243.5,557.7 244.5,557.5 245.5,557.4 246.5,557.2 247.5,557.0 248.5,556.9 249.5,556.7 250.5,556.5 251.5,556.3 252.5,556.2 253.5,556.0 254.5,555.8 255.5,555.6 256.5,555.5 257.5,555.3 258.5,555.1 259.5,554.9 260.5,554.8 261.5,554.6 262.5,554.4 263.5,554.2 264.5,554.0 265.5,553.8 266.5,553.7 267.5,553.5 268.5,553.3 269.5,553.1 270.5,552.9 271.5,552.7 272.5,552.5 273.5,552.3 274.5,552.2 275.5,552.0 276.5,551.8 277.5,551.6 278.5,551.4 279.5,551.2 280.5,551.0 281.5,550.8 282.5,550.6 283.5,550.5 284.5,550.3 285.5,550.1 286.5,549.9 287.5,549.7 288.5,549.5 289.5,549.3 290.5,549.1 291.5,548.9 292.5,548.7 293.5,548.4 294.5,548.2 295.5,548.0 296.5,547.8 297.5,547.6 298.5,547.3 299.5,547.1 300.5,546.9 301.5,546.6 302.5,546.4 303.5,546.2 304.5,545.9 305.5,545.6 306.5,545.4 307.5,545.1 308.5,544.9 309.5,544.6 310.5,544.3 311.5,544.0 312.5,543.7 313.5,543.4 314.5,543.1 315.5,542.8 316.5,542.5 317.5,542.1 318.5,541.8 319.5,541.4 320.5,541.0 321.5,540.7 322.5,540.3 323.5,539.9 324.5,539.5 325.5,539.1 326.5,538.7 327.5,538.2 328.5,537.8 329.5,537.4 330.5,536.9 331.5,536.5 332.5,536.0 333.5,535.6 334.5,535.1 335.5,534.6 336.5,534.2 337.5,533.7 338.5,533.2 339.5,532.7 340.5,532.2 341.5,531.7 342.5,531.2 343.5,530.7 344.5,530.2 345.5,529.7 346.5,529.2 347.5,528.6 348.5,528.1 349.5,527.5 350.5,526.9 351.5,526.3 352.5,525.7 353.5,525.1 354.5,524.5 355.5,523.9 356.5,523.3 357.5,522.6 358.5,522.0 359.5,521.3 360.5,520.7 361.5,520.1 362.5,519.5 363.5,518.8 364.5,518.2 365.5,517.6 366.5,517.0 367.5,516.4 368.5,515.9 369.5,515.3 370.5,514.7 371.5,514.2 372.5,513.6 373.5,513.0 374.5,512.5 375.5,511.9 376.5,511.4 377.5,510.9 378.5,510.4 379.5,510.0 380.5,509.6 381.5,509.2 382.5,508.8 383.5,508.5 384.5,508.2 385.5,508.0 386.5,507.7 387.5,507.5 388.5,507.3 389.5,507.1 390.5,507.0 391.5,507.0 392.5,507.1 393.5,507.2 394.5,507.4 395.5,507.8 396.5,508.2 397.5,508.8 398.5,509.4 399.5,510.2 400.5,511.0 401.5,512.0 402.5,513.1 403.5,514.5 404.5,516.0 405.5,517.8 406.5,519.7 407.5,521.9 408.5,524.2 409.5,526.7 410.5,529.3 411.5,532.1 412.5,535.0 413.5,537.9 414.5,540.9 415.5,543.9 416.5,546.8 417.5,549.6 418.5,552.3 419.5,554.8 420.5,557.2 421.5,559.4 422.5,561.5 423.5,563.3 424.5,564.8 425.5,566.2 426.5,567.4 427.5,568.4 428.5,569.3 429.5,570.1 430.5,570.7 431.5,571.3 432.5,571.7 433.5,571.9 434.5,572.1 435.5,572.1 436.5,572.0 437.5,571.8 438.5,571.5 439.5,571.2 440.5,570.8 441.5,570.4 442.5,569.9 443.5,569.4 444.5,568.9 445.5,568.4 446.5,567.8 447.5,567.3 448.5,566.6 449.5,566.0 450.5,565.3 451.5,564.5 452.5,563.8 453.5,563.0 454.5,562.2 455.5,561.5 456.5,560.7 457.5,559.9 458.5,559.1 459.5,558.4 460.5,557.7 461.5,557.0 462.5,556.3 463.5,555.7 464.5,555.0 465.5,554.4 466.5,553.8 467.5,553.2 468.5,552.6 469.5,552.0 470.5,551.5 471.5,550.9 472.5,550.4 473.5,550.0 474.5,549.5 475.5,549.1 476.5,548.7 477.5,548.3 478.5,547.9 479.5,547.5 480.5,547.2 481.5,546.9 482.5,546.6 483.5,546.4 484.5,546.2 485.5,546.1 486.5,546.0 487.5,546.1 488.5,546.2 489.5,546.5 490.5,546.8 491.5,547.3 492.5,547.8 493.5,548.4 494.5,549.1 495.5,549.9 496.5,550.8 497.5,551.9 498.5,553.1 499.5,554.5 500.5,556.2 501.5,558.0 502.5,559.9 503.5,562.0 504.5,564.2 505.5,566.5 506.5,568.8 507.5,571.2 508.5,573.6 509.5,575.9 510.5,578.0 511.5,580.0 512.5,581.8 513.5,583.4 514.5,584.8 515.5,586.0 516.5,587.2 517.5,588.2 518.5,589.1 519.5,589.9 520.5,590.5 521.5,590.9 522.5,591.2 523.5,591.3 524.5,591.3 525.5,591.2 526.5,591.0 527.5,590.7 528.5,590.4 529.5,590.0 530.5,589.6 531.5,589.1 532.5,588.7 533.5,588.2 534.5,587.7 535.5,587.2 536.5,586.6 537.5,586.0 538.5,585.4 539.5,584.7 540.5,584.0 541.5,583.3 542.5,582.6 543.5,581.8 544.5,581.0 545.5,580.2 546.5,579.4 547.5,578.7 548.5,577.9 549.5,577.2 550.5,576.4 551.5,575.7 552.5,575.0 553.5,574.4 554.5,573.7 555.5,573.0 556.5,572.4 557.5,571.7 558.5,571.0 559.5,570.4 560.5,569.8 561.5,569.2 562.5,568.6 563.5,568.0 564.5,567.4 565.5,566.9 566.5,566.5 567.5,566.0 568.5,565.6 569.5,565.3 570.5,564.9 571.5,564.6 572.5,564.3 573.5,564.0 574.5,563.8 575.5,563.5 576.5,563.3 577.5,563.1 578.5,563.0 579.5,562.8 580.5,562.8 581.5,562.7 582.5,562.8 583.5,563.0 584.5,563.2 585.5,563.6 586.5,564.1 587.5,564.7 588.5,565.4 589.5,566.2 590.5,567.2 591.5,568.3 592.5,569.6 593.5,571.1 594.5,572.8 595.5,574.8 596.5,576.9 597.5,579.1 598.5,581.4 599.5,583.7 600.5,585.9 601.5,588.0 602.5,590.1 603.5,592.0 604.5,593.8 605.5,595.4 606.5,596.9 607.5,598.1 608.5,599.1 609.5,600.0 610.5,600.8 611.5,601.4 612.5,602.0 613.5,602.5 614.5,602.9 615.5,603.2 616.5,603.3 617.5,603.4 618.5,603.4 619.5,603.3 620.5,603.1 621.5,602.9 622.5,602.6 623.5,602.2 624.5,601.8 625.5,601.4 626.5,600.9 627.5,600.4 628.5,600.0 629.5,599.5 630.5,599.0 631.5,598.5 632.5,598.0 633.5,597.4 634.5,596.9 635.5,596.3 636.5,595.8 637.5,595.2 638.5,594.5 639.5,593.9 640.5,593.3 641.5,592.6 642.5,592.0 643.5,591.3 644.5,590.6 645.5,589.9 646.5,589.3 647.5,588.6 648.5,587.9 649.5,587.2 650.5,586.6 651.5,585.9 652.5,585.2 653.5,584.5 654.5,583.7 655.5,583.0 656.5,582.3 657.5,581.5 658.5,580.8 659.5,580.1 660.5,579.4 661.5,578.8 662.5,578.2 663.5,577.6 664.5,577.1 665.5,576.6 666.5,576.1 667.5,575.7 668.5,575.3 669.5,574.9 670.5,574.6 671.5,574.2 672.5,573.9 673.5,573.6 674.5,573.4 675.5,573.1 676.5,573.0 677.5,572.8 678.5,572.8 679.5,572.9 680.5,573.0 681.5,573.3 682.5,573.7 683.5,574.3 684.5,575.0 685.5,575.8 686.5,576.7 687.5,577.8 688.5,579.0 689.5,580.5 690.5,582.1 691.5,583.9 692.5,586.0 693.5,588.3 694.5,590.6 695.5,593.1 696.5,595.4 697.5,597.8 698.5,600.0 699.5,602.2 700.5,604.2 701.5,606.0 702.5,607.6 703.5,609.1 704.5,610.2 705.5,611.2 706.5,612.0 707.5,612.6 708.5,613.2 709.5,613.6 710.5,614.0 711.5,614.3 712.5,614.5 713.5,614.6 714.5,614.7 715.5,614.6 716.5,614.5 717.5,614.2 718.5,613.9 719.5,613.5 720.5,613.0 721.5,612.5 722.5,612.0 723.5,611.4 724.5,610.9 725.5,610.3 726.5,609.7 727.5,609.1 728.5,608.5 729.5,607.8 730.5,607.1 731.5,606.5 732.5,605.8 733.5,605.0 734.5,604.3 735.5,603.5 736.5,602.8 737.5,602.0 738.5,601.3 739.5,600.5 740.5,599.7 741.5,599.0 742.5,598.2 743.5,597.5 744.5,596.7 745.5,596.0 746.5,595.2 747.5,594.4 748.5,593.6 749.5,592.8 750.5,592.0 751.5,591.2 752.5,590.4 753.5,589.7 754.5,588.9 755.5,588.2 756.5,587.6 757.5,586.9 758.5,586.4 759.5,585.8 760.5,585.3 761.5,584.9 762.5,584.4 763.5,584.0 764.5,583.6 765.5,583.3 766.5,582.9 767.5,582.5 768.5,582.2 769.5,581.9 770.5,581.6 771.5,581.4 772.5,581.2 773.5,581.0 774.5,580.8 775.5,580.8 776.5,580.8 777.5,580.9 778.5,581.1 779.5,581.4 780.5,581.9 781.5,582.5 782.5,583.2 783.5,584.0 784.5,584.9 785.5,586.0 786.5,587.3 787.5,588.7 788.5,590.4 789.5,592.4 790.5,594.5 791.5,596.8 792.5,599.3 793.5,601.8 794.5,604.3 795.5,606.8 796.5,609.3 797.5,611.7 798.5,614.0 799.5,616.2 800.5,618.3 801.5,620.1 802.5,621.7 803.5,623.0 804.5,624.1 805.5,625.0 806.5,625.8 807.5,626.5 808.5,627.1 809.5,627.6 810.5,628.1 811.5,628.5 812.5,628.8 813.5,629.0 814.5,629.1 815.5,629.2 816.5,629.1 817.5,629.0 818.5,628.8 819.5,628.5 820.5,628.1 821.5,627.6 822.5,627.1 823.5,626.6 824.5,626.1 825.5,625.5 826.5,624.9 827.5,624.3 828.5,623.7 829.5,623.1 830.5,622.4 831.5,621.7 832.5,621.0 833.5,620.3 834.5,619.5 835.5,618.7 836.5,617.9 837.5,617.0 838.5,616.2 839.5,615.4 840.5,614.5 841.5,613.7 842.5,612.8 843.5,612.0 844.5,611.2 845.5,610.4 846.5,609.6 847.5,608.8 848.5,608.0 849.5,607.2 850.5,606.4 851.5,605.6 852.5,604.8 853.5,604.1 854.5,603.3 855.5,602.5 856.5,601.8 857.5,601.1 858.5,600.4 859.5,599.8 860.5,599.2 861.5,598.6 862.5,598.1 863.5,597.6 864.5,597.1 865.5,596.7 866.5,596.3 867.5,595.8 868.5,595.5 869.5,595.1 870.5,594.7 871.5,594.4 872.5,594.1 873.5,593.8 874.5,593.6 875.5,593.4 876.5,593.3 877.5,593.3 878.5,593.4 879.5,593.5 880.5,593.8 881.5,594.2 882.5,594.8 883.5,595.5 884.5,596.3 885.5,597.2 886.5,598.2 887.5,599.4 888.5,600.8 889.5,602.4 890.5,604.2 891.5,606.3 892.5,608.5 893.5,611.0 894.5,613.6 895.5,616.4 896.5,619.2 897.5,622.2 898.5,625.2 899.5,628.2 900.5,631.2 901.5,634.0 902.5,636.8 903.5,639.4 904.5,641.8 905.5,644.1 906.5,646.1 907.5,648.0 908.5,649.7 909.5,651.3 910.5,652.6 911.5,653.8 912.5,654.9 913.5,655.8 914.5,656.7 915.5,657.4 916.5,658.1 917.5,658.7 918.5,659.2 919.5,659.6 920.5,659.9 921.5,660.1 922.5,660.2 923.5,660.2 924.5,660.1 925.5,660.0 926.5,659.8 927.5,659.5 928.5,659.2 929.5,658.8 930.5,658.5 931.5,658.1 932.5,657.7 933.5,657.3 934.5,656.9 935.5,656.4 936.5,656.0 937.5,655.5 938.5,655.0 939.5,654.5 940.5,653.9 941.5,653.3 942.5,652.7 943.5,652.1 944.5,651.4 945.5,650.8 946.5,650.1 947.5,649.4 948.5,648.7 949.5,648.0 950.5,647.3 951.5,646.7 952.5,646.0 953.5,645.4 954.5,644.7 955.5,644.1 956.5,643.5 957.5,642.9 958.5,642.3 959.5,641.7 960.5,641.1 961.5,640.5 962.5,639.9 963.5,639.3 964.5,638.7 965.5,638.1 966.5,637.5 967.5,637.0 968.5,636.4 969.5,635.8 970.5,635.3 971.5,634.7 972.5,634.2 973.5,633.7 974.5,633.1 975.5,632.6 976.5,632.1 977.5,631.6 978.5,631.2 979.5,630.7 980.5,630.3 981.5,629.8 982.5,629.4 983.5,629.0 984.5,628.6 985.5,628.2 986.5,627.8 987.5,627.4 988.5,627.0 989.5,626.6 990.5,626.3 991.5,625.9 992.5,625.5 993.5,625.2 994.5,624.8 995.5,624.5 996.5,624.2 997.5,623.8 998.5,623.5 999.5,623.2 1000.5,622.9 1001.5,622.6 1002.5,622.3 1003.5,622.0 1004.5,621.7 1005.5,621.4 1006.5,621.1 1007.5,620.8 1008.5,620.6 1009.5,620.3 1010.5,620.0 1011.5,619.7 1012.5,619.5 1013.5,619.2 1014.5,619.0 1015.5,618.7 1016.5,618.5 1017.5,618.2 1018.5,618.0 1019.5,617.7 1020.5,617.5 1021.5,617.2 1022.5,617.0 1023.5,616.8 1024.5,616.5 1025.5,616.3 1026.5,616.1 1027.5,615.8 1028.5,615.6 1029.5,615.4 1030.5,615.2 1031.5,615.0 1032.5,614.7 1033.5,614.5 1034.5,614.3 1035.5,614.1 1036.5,613.9 1037.5,613.7 1038.5,613.5 1039.5,613.3 1040.5,613.1 1041.5,612.9 1042.5,612.7 1043.5,612.5 1044.5,612.3 1045.5,612.1 1046.5,611.9 1047.5,611.7 1048.5,611.6 1049.5,611.4 1050.5,611.2 1051.5,611.0 1052.5,610.8 1053.5,610.7 1054.5,610.5 1055.5,610.3 1056.5,610.1 1057.5,610.0 1058.5,609.8 1059.5,609.6 1060.5,609.5 1061.5,609.3 1062.5,609.1 1063.5,609.0 1064.5,608.8 1065.5,608.6 1066.5,608.5 1067.5,608.3 1068.5,608.2 1069.5,608.0 1070.5,607.8 1071.5,607.7 1072.5,607.5 1073.5,607.4 1074.5,607.2 1075.5,607.1 1076.5,606.9 1077.5,606.8 1078.5,606.6 1079.5,606.5 1080.5,606.3 1081.5,606.2 1082.5,606.0 1083.5,605.9 1084.5,605.7 1085.5,605.6 1086.5,605.4 1087.5,605.3 1088.5,605.1 1089.5,605.0 1090.5,604.9 1091.5,604.7 1092.5,604.6 1093.5,604.4 1094.5,604.3 1095.5,604.1 1096.5,604.0 1097.5,603.8 1098.5,603.7 1099.5,603.6 1100.5,603.4 1101.5,603.3 1102.5,603.2 1103.5,603.0 1104.5,602.9 1105.5,602.8 1106.5,602.6 1107.5,602.5 1108.5,602.4 1109.5,602.3 1110.5,602.1 1111.5,602.0 1112.5,601.9 1113.5,601.8 1114.5,601.7 1115.5,601.6 1116.5,601.5 1117.5,601.4 1118.5,601.3 1119.5,601.2 1120.5,601.1 1121.5,601.0 1122.5,600.9 1123.5,600.8 1124.5,600.7 1125.5,600.6 1126.5,600.5 1127.5,600.4 1128.5,600.3 1129.5,600.2 1130.5,600.1 1131.5,600.1 1132.5,600.0 1133.5,599.9 1134.5,599.8 1135.5,599.7 1136.5,599.7 1137.5,599.6 1138.5,599.5 1139.5,599.4 1140.5,599.4 1141.5,599.3 1142.5,599.2 1143.5,599.1 1144.5,599.1 1145.5,599.0 1146.5,598.9 1147.5,598.9 1148.5,598.8 1149.5,598.7 1150.5,598.7 1151.5,598.6 1152.5,598.5 1153.5,598.5 1154.5,598.4 1155.5,598.3 1156.5,598.3 1157.5,598.2 1158.5,598.1 1159.5,598.1 1160.5,598.0 1161.5,598.0 1162.5,597.9 1163.5,597.8 1164.5,597.8 1165.5,597.7 1166.5,597.7 1167.5,597.7 1168.0,597.6" fill="none" stroke="#ff0000" stroke-width="3.3" stroke-linejoin="round" stroke-linecap="round"/>
<path d="M130.5,764.5 131.5,764.5 132.5,764.5 133.5,764.4 134.5,764.4 135.5,764.5 136.5,764.6 137.5,764.5 138.5,764.4 139.5,764.3 140.5,764.3 141.5,764.4 142.5,764.4 143.5,764.4 144.5,764.3 145.5,764.2 146.5,764.0 147.5,764.0 148.5,764.0 149.5,764.0 150.5,764.1 151.5,764.2 152.5,764.2 153.5,764.2 154.5,764.3 155.5,764.5 156.5,764.6 157.5,764.7 158.5,764.7 159.5,764.6 160.5,764.4 161.5,764.4 162.5,764.4 163.5,764.4 164.5,764.3 165.5,764.2 166.5,764.1 167.5,764.1 168.5,764.1 169.5,764.2 170.5,764.1 171.5,764.1 172.5,764.1 173.5,764.1 174.5,764.1 175.5,764.1 176.5,764.3 177.5,764.3 178.5,764.2 179.5,764.2 180.5,764.3 181.5,764.4 182.5,764.4 183.5,764.4 184.5,764.4 185.5,764.4 186.5,764.5 187.5,764.4 188.5,764.4 189.5,764.4 190.5,764.6 191.5,764.8 192.5,764.9 193.5,764.8 194.5,764.6 195.5,764.4 196.5,764.3 197.5,764.3 198.5,764.3 199.5,764.2 200.5,764.2 201.5,764.3 202.5,764.3 203.5,764.3 204.5,764.2 205.5,764.2 206.5,764.4 207.5,764.6 208.5,764.7 209.5,764.6 210.5,764.6 211.5,764.5 212.5,764.5 213.5,764.5 214.5,764.5 215.5,764.5 216.5,764.6 217.5,764.8 218.5,765.0 219.5,765.2 220.5,765.1 221.5,764.8 222.5,764.5 223.5,764.3 224.5,764.2 225.5,764.2 226.5,764.3 227.5,764.4 228.5,764.4 229.5,764.3 230.5,764.2 231.5,764.3 232.5,764.5 233.5,764.8 234.5,764.9 235.5,764.9 236.5,764.9 237.5,764.9 238.5,765.0 239.5,764.9 240.5,764.8 241.5,764.6 242.5,764.5 243.5,764.5 244.5,764.6 245.5,764.7 246.5,764.6 247.5,764.5 248.5,764.4 249.5,764.4 250.5,764.5 251.5,764.7 252.5,764.7 253.5,764.6 254.5,764.3 255.5,764.2 256.5,764.3 257.5,764.4 258.5,764.6 259.5,764.6 260.5,764.6 261.5,764.5 262.5,764.3 263.5,764.2 264.5,764.2 265.5,764.2 266.5,764.2 267.5,764.2 268.5,764.3 269.5,764.4 270.5,764.5 271.5,764.6 272.5,764.6 273.5,764.7 274.5,764.8 275.5,764.7 276.5,764.5 277.5,764.5 278.5,764.5 279.5,764.7 280.5,764.8 281.5,764.9 282.5,765.0 283.5,764.9 284.5,764.8 285.5,764.7 286.5,764.7 287.5,764.7 288.5,764.9 289.5,765.1 290.5,765.1 291.5,765.0 292.5,764.8 293.5,764.7 294.5,764.6 295.5,764.6 296.5,764.6 297.5,764.6 298.5,764.7 299.5,764.7 300.5,764.6 301.5,764.5 302.5,764.3 303.5,764.2 304.5,764.1 305.5,764.2 306.5,764.4 307.5,764.6 308.5,764.8 309.5,764.9 310.5,764.8 311.5,764.7 312.5,764.5 313.5,764.3 314.5,764.2 315.5,764.2 316.5,764.3 317.5,764.4 318.5,764.5 319.5,764.6 320.5,764.5 321.5,764.4 322.5,764.3 323.5,764.3 324.5,764.3 325.5,764.3 326.5,764.3 327.5,764.2 328.5,764.1 329.5,764.0 330.5,764.0 331.5,764.1 332.5,764.2 333.5,764.4 334.5,764.4 335.5,764.3 336.5,764.2 337.5,764.2 338.5,764.2 339.5,764.2 340.5,764.1 341.5,764.0 342.5,764.1 343.5,764.2 344.5,764.2 345.5,764.3 346.5,764.3 347.5,764.3 348.5,764.2 349.5,764.2 350.5,764.3 351.5,764.4 352.5,764.5 353.5,764.4 354.5,764.3 355.5,764.3 356.5,764.5 357.5,764.6 358.5,764.6 359.5,764.6 360.5,764.6 361.5,764.7 362.5,764.7 363.5,764.7 364.5,764.6 365.5,764.5 366.5,764.5 367.5,764.4 368.5,764.4 369.5,764.4 370.5,764.2 371.5,764.2 372.5,764.2 373.5,764.4 374.5,764.6 375.5,764.7 376.5,764.7 377.5,764.7 378.5,764.6 379.5,764.6 380.5,764.6 381.5,764.6 382.5,764.6 383.5,764.6 384.5,764.5 385.5,764.4 386.5,764.4 387.5,764.3 388.5,764.1 389.5,763.9 390.5,763.7 391.5,763.5 392.5,763.3 393.5,763.2 394.5,763.1 395.5,763.0 396.5,762.8 397.5,762.5 398.5,762.2 399.5,761.8 400.5,761.6 401.5,761.4 402.5,761.4 403.5,761.2 404.5,761.0 405.5,760.5 406.5,760.0 407.5,759.2 408.5,758.5 409.5,757.9 410.5,757.3 411.5,756.6 412.5,755.8 413.5,754.7 414.5,753.0 415.5,751.1 416.5,749.6 417.5,748.8 418.5,750.2 419.5,757.8 420.5,767.9 421.5,776.4 422.5,780.4 423.5,780.7 424.5,778.9 425.5,776.5 426.5,774.8 427.5,773.6 428.5,772.5 429.5,771.4 430.5,770.5 431.5,769.6 432.5,769.0 433.5,768.5 434.5,768.2 435.5,767.9 436.5,767.8 437.5,767.8 438.5,767.8 439.5,767.7 440.5,767.4 441.5,767.1 442.5,766.8 443.5,766.5 444.5,766.3 445.5,766.0 446.5,765.8 447.5,765.6 448.5,765.6 449.5,765.7 450.5,765.8 451.5,765.7 452.5,765.6 453.5,765.6 454.5,765.6 455.5,765.7 456.5,765.7 457.5,765.7 458.5,765.7 459.5,765.9 460.5,766.1 461.5,766.5 462.5,766.9 463.5,767.2 464.5,767.3 465.5,767.2 466.5,767.1 467.5,767.0 468.5,767.0 469.5,767.0 470.5,767.0 471.5,766.9 472.5,766.7 473.5,766.4 474.5,766.3 475.5,766.3 476.5,766.4 477.5,766.4 478.5,766.3 479.5,766.2 480.5,766.2 481.5,766.2 482.5,766.2 483.5,766.2 484.5,766.3 485.5,766.2 486.5,766.2 487.5,766.1 488.5,766.0 489.5,765.7 490.5,765.6 491.5,765.5 492.5,765.4 493.5,765.4 494.5,765.3 495.5,765.2 496.5,765.0 497.5,764.6 498.5,764.1 499.5,763.8 500.5,763.5 501.5,763.2 502.5,762.6 503.5,761.7 504.5,760.6 505.5,759.5 506.5,758.3 507.5,756.1 508.5,753.7 509.5,753.2 510.5,758.5 511.5,766.0 512.5,773.1 513.5,778.9 514.5,782.3 515.5,781.7 516.5,779.9 517.5,777.7 518.5,775.8 519.5,774.8 520.5,773.8 521.5,772.9 522.5,772.1 523.5,771.5 524.5,770.9 525.5,770.4 526.5,769.9 527.5,769.6 528.5,769.5 529.5,769.3 530.5,769.1 531.5,768.9 532.5,768.7 533.5,768.6 534.5,768.5 535.5,768.4 536.5,768.3 537.5,768.2 538.5,768.0 539.5,767.8 540.5,767.6 541.5,767.4 542.5,767.2 543.5,767.2 544.5,767.2 545.5,767.3 546.5,767.4 547.5,767.5 548.5,767.5 549.5,767.6 550.5,767.6 551.5,767.6 552.5,767.7 553.5,767.9 554.5,768.1 555.5,768.3 556.5,768.4 557.5,768.5 558.5,768.7 559.5,768.8 560.5,768.8 561.5,768.7 562.5,768.5 563.5,768.4 564.5,768.3 565.5,768.4 566.5,768.4 567.5,768.4 568.5,768.4 569.5,768.8 570.5,769.3 571.5,770.0 572.5,770.6 573.5,771.0 574.5,771.3 575.5,771.4 576.5,771.5 577.5,771.7 578.5,771.6 579.5,771.2 580.5,770.8 581.5,770.4 582.5,770.2 583.5,770.1 584.5,769.9 585.5,769.7 586.5,769.5 587.5,769.3 588.5,769.1 589.5,768.9 590.5,768.7 591.5,768.4 592.5,767.9 593.5,767.5 594.5,767.1 595.5,766.6 596.5,766.1 597.5,765.6 598.5,765.1 599.5,764.4 600.5,763.1 601.5,761.5 602.5,760.0 603.5,759.0 604.5,759.0 605.5,765.8 606.5,773.7 607.5,782.2 608.5,785.1 609.5,784.4 610.5,782.9 611.5,781.2 612.5,779.4 613.5,778.1 614.5,777.3 615.5,776.6 616.5,775.9 617.5,775.3 618.5,774.7 619.5,774.2 620.5,773.9 621.5,773.7 622.5,773.5 623.5,773.3 624.5,772.9 625.5,772.6 626.5,772.3 627.5,772.0 628.5,771.8 629.5,771.7 630.5,771.7 631.5,771.7 632.5,771.6 633.5,771.6 634.5,771.6 635.5,771.8 636.5,771.8 637.5,771.8 638.5,771.7 639.5,771.5 640.5,771.4 641.5,771.3 642.5,771.3 643.5,771.3 644.5,771.4 645.5,771.5 646.5,771.6 647.5,771.7 648.5,771.6 649.5,771.6 650.5,771.5 651.5,771.4 652.5,771.4 653.5,771.4 654.5,771.5 655.5,771.5 656.5,771.4 657.5,771.3 658.5,771.3 659.5,771.2 660.5,771.1 661.5,771.0 662.5,771.0 663.5,771.1 664.5,771.5 665.5,772.2 666.5,772.6 667.5,772.7 668.5,772.6 669.5,772.6 670.5,772.5 671.5,772.2 672.5,771.8 673.5,771.6 674.5,771.6 675.5,771.8 676.5,771.9 677.5,771.9 678.5,771.8 679.5,771.7 680.5,771.7 681.5,771.6 682.5,771.5 683.5,771.3 684.5,771.1 685.5,771.0 686.5,770.9 687.5,770.7 688.5,770.1 689.5,769.3 690.5,768.4 691.5,767.7 692.5,767.1 693.5,766.4 694.5,765.3 695.5,763.8 696.5,762.1 697.5,760.5 698.5,759.2 699.5,758.4 700.5,758.6 701.5,765.5 702.5,774.0 703.5,778.4 704.5,781.7 705.5,782.6 706.5,781.9 707.5,780.8 708.5,779.4 709.5,778.0 710.5,776.5 711.5,774.8 712.5,773.1 713.5,771.5 714.5,769.9 715.5,768.4 716.5,766.9 717.5,765.6 718.5,764.4 719.5,762.9 720.5,761.1 721.5,758.1 722.5,751.6 723.5,742.8 724.5,731.3 725.5,713.7 726.5,700.6 727.5,694.4 728.5,690.2 729.5,690.3 730.5,695.9 731.5,706.2 732.5,727.7 733.5,749.7 734.5,768.9 735.5,785.4 736.5,792.6 737.5,796.7 738.5,798.3 739.5,798.1 740.5,797.6 741.5,797.0 742.5,796.3 743.5,795.4 744.5,794.1 745.5,792.7 746.5,791.3 747.5,789.9 748.5,788.9 749.5,788.0 750.5,787.0 751.5,786.1 752.5,785.3 753.5,784.7 754.5,784.3 755.5,783.9 756.5,783.6 757.5,783.3 758.5,783.0 759.5,782.7 760.5,782.6 761.5,782.6 762.5,783.1 763.5,783.8 764.5,784.7 765.5,785.8 766.5,787.1 767.5,789.0 768.5,791.0 769.5,792.5 770.5,793.4 771.5,794.0 772.5,794.0 773.5,792.6 774.5,790.5 775.5,788.6 776.5,787.0 777.5,785.1 778.5,783.1 779.5,781.1 780.5,779.4 781.5,778.2 782.5,777.3 783.5,776.6 784.5,776.0 785.5,775.4 786.5,774.7 787.5,773.9 788.5,773.0 789.5,772.2 790.5,771.6 791.5,770.9 792.5,770.1 793.5,769.3 794.5,768.5 795.5,767.8 796.5,766.9 797.5,765.5 798.5,764.0 799.5,763.0 800.5,764.6 801.5,773.0 802.5,780.1 803.5,784.6 804.5,784.2 805.5,783.3 806.5,782.1 807.5,780.9 808.5,779.9 809.5,779.2 810.5,778.6 811.5,778.2 812.5,777.9 813.5,777.4 814.5,776.8 815.5,776.3 816.5,775.8 817.5,775.5 818.5,775.2 819.5,774.9 820.5,774.7 821.5,774.6 822.5,774.5 823.5,774.3 824.5,774.0 825.5,773.8 826.5,773.6 827.5,773.6 828.5,773.6 829.5,773.6 830.5,773.4 831.5,773.2 832.5,773.1 833.5,773.0 834.5,772.9 835.5,772.9 836.5,772.8 837.5,772.8 838.5,772.7 839.5,772.8 840.5,772.9 841.5,773.0 842.5,773.1 843.5,773.2 844.5,773.1 845.5,773.0 846.5,773.0 847.5,773.1 848.5,773.2 849.5,773.2 850.5,773.2 851.5,773.2 852.5,773.2 853.5,773.2 854.5,773.2 855.5,773.3 856.5,773.2 857.5,773.1 858.5,772.9 859.5,772.8 860.5,772.7 861.5,772.7 862.5,772.9 863.5,773.1 864.5,773.3 865.5,773.4 866.5,773.4 867.5,773.3 868.5,773.1 869.5,772.8 870.5,772.7 871.5,772.7 872.5,772.9 873.5,773.0 874.5,773.1 875.5,773.0 876.5,772.9 877.5,772.6 878.5,772.4 879.5,772.3 880.5,772.3 881.5,772.4 882.5,772.4 883.5,772.2 884.5,771.8 885.5,771.5 886.5,771.2 887.5,770.9 888.5,770.8 889.5,770.5 890.5,770.2 891.5,769.6 892.5,769.0 893.5,768.6 894.5,768.0 895.5,766.9 896.5,765.5 897.5,764.1 898.5,763.0 899.5,762.1 900.5,761.8 901.5,765.2 902.5,771.5 903.5,775.7 904.5,779.2 905.5,781.4 906.5,781.6 907.5,781.1 908.5,780.4 909.5,779.7 910.5,779.1 911.5,778.6 912.5,778.1 913.5,777.6 914.5,777.2 915.5,776.8 916.5,776.5 917.5,776.2 918.5,775.9 919.5,775.5 920.5,775.2 921.5,774.9 922.5,774.6 923.5,774.4 924.5,774.2 925.5,774.2 926.5,774.1 927.5,774.1 928.5,774.1 929.5,774.3 930.5,774.4 931.5,774.4 932.5,774.4 933.5,774.3 934.5,774.1 935.5,773.8 936.5,773.6 937.5,773.4 938.5,773.2 939.5,773.0 940.5,772.9 941.5,772.8 942.5,772.9 943.5,773.1 944.5,773.2 945.5,773.1 946.5,772.9 947.5,772.7 948.5,772.6 949.5,772.7 950.5,772.8 951.5,772.9 952.5,773.0 953.5,773.2 954.5,773.4 955.5,773.6 956.5,773.6 957.5,773.5 958.5,773.3 959.5,773.2 960.5,773.1 961.5,773.0 962.5,772.9 963.5,772.9 964.5,772.9 965.5,772.9 966.5,772.9 967.5,772.9 968.5,772.9 969.5,773.0 970.5,773.0 971.5,773.0 972.5,773.1 973.5,773.2 974.5,773.2 975.5,773.0 976.5,772.8 977.5,772.8 978.5,772.9 979.5,773.2 980.5,773.2 981.5,773.2 982.5,773.0 983.5,773.0 984.5,773.0 985.5,773.1 986.5,773.0 987.5,773.0 988.5,772.9 989.5,773.0 990.5,773.0 991.5,772.9 992.5,772.9 993.5,773.0 994.5,773.0 995.5,773.0 996.5,772.8 997.5,772.7 998.5,772.7 999.5,772.8 1000.5,772.8 1001.5,772.9 1002.5,773.1 1003.5,773.2 1004.5,773.3 1005.5,773.4 1006.5,773.4 1007.5,773.4 1008.5,773.4 1009.5,773.4 1010.5,773.4 1011.5,773.2 1012.5,773.0 1013.5,772.8 1014.5,772.7 1015.5,772.6 1016.5,772.7 1017.5,772.8 1018.5,772.9 1019.5,772.9 1020.5,773.0 1021.5,772.9 1022.5,772.9 1023.5,772.9 1024.5,773.0 1025.5,773.1 1026.5,773.2 1027.5,773.3 1028.5,773.2 1029.5,773.0 1030.5,772.7 1031.5,772.5 1032.5,772.2 1033.5,772.1 1034.5,772.2 1035.5,772.5 1036.5,772.7 1037.5,772.7 1038.5,772.6 1039.5,772.5 1040.5,772.5 1041.5,772.5 1042.5,772.5 1043.5,772.6 1044.5,772.7 1045.5,772.8 1046.5,772.9 1047.5,773.0 1048.5,773.0 1049.5,773.0 1050.5,773.0 1051.5,773.0 1052.5,772.9 1053.5,772.8 1054.5,772.7 1055.5,772.7 1056.5,772.7 1057.5,772.7 1058.5,772.6 1059.5,772.6 1060.5,772.5 1061.5,772.6 1062.5,772.6 1063.5,772.5 1064.5,772.3 1065.5,772.2 1066.5,772.2 1067.5,772.2 1068.5,772.3 1069.5,772.4 1070.5,772.4 1071.5,772.5 1072.5,772.7 1073.5,772.7 1074.5,772.6 1075.5,772.6 1076.5,772.6 1077.5,772.6 1078.5,772.6 1079.5,772.5 1080.5,772.5 1081.5,772.5 1082.5,772.4 1083.5,772.3 1084.5,772.2 1085.5,772.1 1086.5,772.2 1087.5,772.2 1088.5,772.2 1089.5,772.3 1090.5,772.2 1091.5,772.1 1092.5,772.1 1093.5,772.2 1094.5,772.3 1095.5,772.2 1096.5,772.1 1097.5,771.9 1098.5,771.8 1099.5,771.8 1100.5,771.9 1101.5,772.0 1102.5,772.1 1103.5,772.2 1104.5,772.2 1105.5,772.2 1106.5,772.2 1107.5,772.0 1108.5,771.7 1109.5,771.5 1110.5,771.4 1111.5,771.5 1112.5,771.5 1113.5,771.4 1114.5,771.5 1115.5,771.7 1116.5,771.8 1117.5,771.8 1118.5,771.7 1119.5,771.6 1120.5,771.6 1121.5,771.7 1122.5,771.9 1123.5,772.0 1124.5,772.0 1125.5,772.0 1126.5,771.8 1127.5,771.7 1128.5,771.6 1129.5,771.7 1130.5,771.7 1131.5,771.8 1132.5,771.8 1133.5,771.8 1134.5,771.8 1135.5,771.8 1136.5,771.8 1137.5,771.8 1138.5,771.6 1139.5,771.4 1140.5,771.3 1141.5,771.4 1142.5,771.5 1143.5,771.7 1144.5,771.8 1145.5,771.9 1146.5,772.0 1147.5,772.2 1148.5,772.2 1149.5,772.1 1150.5,772.0 1151.5,772.0 1152.5,771.9 1153.5,771.9 1154.5,771.9 1155.5,771.7 1156.5,771.5 1157.5,771.5 1158.5,771.6 1159.5,771.9 1160.5,772.1 1161.5,772.2 1162.5,772.1 1163.5,772.0 1164.5,772.1 1165.5,772.2 1166.5,772.3 1167.5,772.5 1168.0,772.6" fill="none" stroke="#000000" stroke-width="3.1" stroke-linejoin="round" stroke-linecap="round"/>
<path d="M121.50,833.00V817.50M226.21,833.00V824.50M330.92,833.00V817.50M435.63,833.00V824.50M540.34,833.00V817.50M645.05,833.00V824.50M749.76,833.00V817.50M854.47,833.00V824.50M959.18,833.00V817.50M1063.89,833.00V824.50M1168.60,833.00V817.50" fill="none" stroke="#000" stroke-width="2.7" stroke-linecap="butt"/>
<rect x="121.50" y="33.00" width="1047.10" height="800.00" fill="none" stroke="#000" stroke-width="2.8"/></g>
<g><path d="M1362.5,144.3 1363.5,144.3 1364.5,144.3 1365.5,144.4 1366.5,144.4 1367.5,144.5 1368.5,144.5 1369.5,144.5 1370.5,144.6 1371.5,144.6 1372.5,144.7 1373.5,144.7 1374.5,144.7 1375.5,144.8 1376.5,144.8 1377.5,144.8 1378.5,144.9 1379.5,144.9 1380.5,145.0 1381.5,145.0 1382.5,145.0 1383.5,145.1 1384.5,145.1 1385.5,145.2 1386.5,145.2 1387.5,145.2 1388.5,145.3 1389.5,145.3 1390.5,145.3 1391.5,145.4 1392.5,145.4 1393.5,145.4 1394.5,145.5 1395.5,145.5 1396.5,145.6 1397.5,145.6 1398.5,145.6 1399.5,145.7 1400.5,145.7 1401.5,145.7 1402.5,145.8 1403.5,145.8 1404.5,145.8 1405.5,145.9 1406.5,145.9 1407.5,145.9 1408.5,146.0 1409.5,146.0 1410.5,146.0 1411.5,146.0 1412.5,146.1 1413.5,146.1 1414.5,146.1 1415.5,146.2 1416.5,146.2 1417.5,146.2 1418.5,146.3 1419.5,146.3 1420.5,146.3 1421.5,146.4 1422.5,146.4 1423.5,146.5 1424.5,146.5 1425.5,146.5 1426.5,146.6 1427.5,146.6 1428.5,146.6 1429.5,146.7 1430.5,146.7 1431.5,146.7 1432.5,146.8 1433.5,146.8 1434.5,146.8 1435.5,146.9 1436.5,146.9 1437.5,147.0 1438.5,147.0 1439.5,147.0 1440.5,147.1 1441.5,147.1 1442.5,147.1 1443.5,147.2 1444.5,147.2 1445.5,147.2 1446.5,147.3 1447.5,147.3 1448.5,147.3 1449.5,147.4 1450.5,147.4 1451.5,147.4 1452.5,147.4 1453.5,147.5 1454.5,147.5 1455.5,147.5 1456.5,147.6 1457.5,147.6 1458.5,147.6 1459.5,147.6 1460.5,147.7 1461.5,147.7 1462.5,147.7 1463.5,147.7 1464.5,147.8 1465.5,147.8 1466.5,147.8 1467.5,147.8 1468.5,147.8 1469.5,147.9 1470.5,147.9 1471.5,147.9 1472.5,147.9 1473.5,147.9 1474.5,147.9 1475.5,147.9 1476.5,148.0 1477.5,148.0 1478.5,148.0 1479.5,148.0 1480.5,148.0 1481.5,148.0 1482.5,148.0 1483.5,148.0 1484.5,148.0 1485.5,148.0 1486.5,148.0 1487.5,148.0 1488.5,148.0 1489.5,148.0 1490.5,148.0 1491.5,148.0 1492.5,148.0 1493.5,148.0 1494.5,148.0 1495.5,148.0 1496.5,148.0 1497.5,148.0 1498.5,148.0 1499.5,148.0 1500.5,148.0 1501.5,148.0 1502.5,148.0 1503.5,148.0 1504.5,148.0 1505.5,147.9 1506.5,147.9 1507.5,147.9 1508.5,147.9 1509.5,147.9 1510.5,147.9 1511.5,147.9 1512.5,147.9 1513.5,147.9 1514.5,147.9 1515.5,147.9 1516.5,147.9 1517.5,147.9 1518.5,147.9 1519.5,147.9 1520.5,147.8 1521.5,147.8 1522.5,147.8 1523.5,147.8 1524.5,147.8 1525.5,147.8 1526.5,147.8 1527.5,147.8 1528.5,147.8 1529.5,147.7 1530.5,147.7 1531.5,147.7 1532.5,147.7 1533.5,147.7 1534.5,147.7 1535.5,147.7 1536.5,147.7 1537.5,147.6 1538.5,147.6 1539.5,147.6 1540.5,147.6 1541.5,147.6 1542.5,147.6 1543.5,147.6 1544.5,147.5 1545.5,147.5 1546.5,147.5 1547.5,147.5 1548.5,147.5 1549.5,147.5 1550.5,147.4 1551.5,147.4 1552.5,147.4 1553.5,147.4 1554.5,147.4 1555.5,147.3 1556.5,147.3 1557.5,147.3 1558.5,147.3 1559.5,147.3 1560.5,147.2 1561.5,147.2 1562.5,147.2 1563.5,147.1 1564.5,147.1 1565.5,147.0 1566.5,147.0 1567.5,146.9 1568.5,146.8 1569.5,146.7 1570.5,146.6 1571.5,146.5 1572.5,146.4 1573.5,146.3 1574.5,146.2 1575.5,146.1 1576.5,146.0 1577.5,145.8 1578.5,145.7 1579.5,145.6 1580.5,145.4 1581.5,145.2 1582.5,145.0 1583.5,144.8 1584.5,144.6 1585.5,144.3 1586.5,144.0 1587.5,143.7 1588.5,143.3 1589.5,143.0 1590.5,142.6 1591.5,142.1 1592.5,141.7 1593.5,141.2 1594.5,140.7 1595.5,140.2 1596.5,139.6 1597.5,138.9 1598.5,138.1 1599.5,137.2 1600.5,136.2 1601.5,135.1 1602.5,133.9 1603.5,132.6 1604.5,131.1 1605.5,129.4 1606.5,127.4 1607.5,125.0 1608.5,122.2 1609.5,119.0 1610.5,115.4 1611.5,111.0 1612.5,105.7 1613.5,99.6 1614.5,93.3 1615.5,87.5 1616.5,82.5 1617.5,78.3 1618.5,74.8 1619.5,72.0 1620.5,70.4 1621.5,70.1 1622.5,71.6 1623.5,74.5 1624.5,78.8 1625.5,84.3 1626.5,91.5 1627.5,100.6 1628.5,111.1 1629.5,122.5 1630.5,134.5 1631.5,146.9 1632.5,159.6 1633.5,171.6 1634.5,182.2 1635.5,191.2 1636.5,199.0 1637.5,206.0 1638.5,212.0 1639.5,216.6 1640.5,219.4 1641.5,220.0 1642.5,218.5 1643.5,215.4 1644.5,211.2 1645.5,206.5 1646.5,201.8 1647.5,196.9 1648.5,191.8 1649.5,186.7 1650.5,181.8 1651.5,177.3 1652.5,173.4 1653.5,170.1 1654.5,167.1 1655.5,164.4 1656.5,162.0 1657.5,160.1 1658.5,158.6 1659.5,157.4 1660.5,156.5 1661.5,155.7 1662.5,155.0 1663.5,154.5 1664.5,154.0 1665.5,153.6 1666.5,153.3 1667.5,152.9 1668.5,152.6 1669.5,152.4 1670.5,152.1 1671.5,151.9 1672.5,151.7 1673.5,151.5 1674.5,151.3 1675.5,151.1 1676.5,150.9 1677.5,150.8 1678.5,150.6 1679.5,150.4 1680.5,150.2 1681.5,150.0 1682.5,149.8 1683.5,149.6 1684.5,149.4 1685.5,149.1 1686.5,148.9 1687.5,148.6 1688.5,148.4 1689.5,148.1 1690.5,147.9 1691.5,147.6 1692.5,147.3 1693.5,147.1 1694.5,146.8 1695.5,146.5 1696.5,146.3 1697.5,146.0 1698.5,145.7 1699.5,145.4 1700.5,145.1 1701.5,144.8 1702.5,144.5 1703.5,144.2 1704.5,143.8 1705.5,143.5 1706.5,143.1 1707.5,142.7 1708.5,142.3 1709.5,141.9 1710.5,141.5 1711.5,141.1 1712.5,140.7 1713.5,140.2 1714.5,139.7 1715.5,139.2 1716.5,138.7 1717.5,138.1 1718.5,137.4 1719.5,136.7 1720.5,135.9 1721.5,135.1 1722.5,134.1 1723.5,133.0 1724.5,131.7 1725.5,130.2 1726.5,128.4 1727.5,126.4 1728.5,124.1 1729.5,121.4 1730.5,118.1 1731.5,114.0 1732.5,109.1 1733.5,103.7 1734.5,98.1 1735.5,92.4 1736.5,86.4 1737.5,80.2 1738.5,74.1 1739.5,68.8 1740.5,64.7 1741.5,62.5 1742.5,62.5 1743.5,64.6 1744.5,68.5 1745.5,73.6 1746.5,79.6 1747.5,86.1 1748.5,93.5 1749.5,101.8 1750.5,110.6 1751.5,119.3 1752.5,127.6 1753.5,135.2 1754.5,141.9 1755.5,147.5 1756.5,151.4 1757.5,153.8 1758.5,154.7 1759.5,154.0 1760.5,151.9 1761.5,148.8 1762.5,145.5 1763.5,142.0 1764.5,138.6 1765.5,135.8 1766.5,134.2 1767.5,134.4 1768.5,136.4 1769.5,139.9 1770.5,144.7 1771.5,150.6 1772.5,157.8 1773.5,166.2 1774.5,175.2 1775.5,183.9 1776.5,191.9 1777.5,199.3 1778.5,206.4 1779.5,213.1 1780.5,219.0 1781.5,223.4 1782.5,226.2 1783.5,226.9 1784.5,225.5 1785.5,222.6 1786.5,218.5 1787.5,213.9 1788.5,209.1 1789.5,204.0 1790.5,198.7 1791.5,193.0 1792.5,187.5 1793.5,182.3 1794.5,178.0 1795.5,174.3 1796.5,171.3 1797.5,168.6 1798.5,166.2 1799.5,164.1 1800.5,162.3 1801.5,160.7 1802.5,159.4 1803.5,158.3 1804.5,157.3 1805.5,156.5 1806.5,155.7 1807.5,155.1 1808.5,154.5 1809.5,154.0 1810.5,153.6 1811.5,153.2 1812.5,152.9 1813.5,152.6 1814.5,152.3 1815.5,152.0 1816.5,151.8 1817.5,151.5 1818.5,151.3 1819.5,151.1 1820.5,150.9 1821.5,150.7 1822.5,150.5 1823.5,150.3 1824.5,150.1 1825.5,150.0 1826.5,149.8 1827.5,149.6 1828.5,149.4 1829.5,149.2 1830.5,149.0 1831.5,148.8 1832.5,148.6 1833.5,148.4 1834.5,148.1 1835.5,147.9 1836.5,147.6 1837.5,147.3 1838.5,147.1 1839.5,146.8 1840.5,146.6 1841.5,146.3 1842.5,146.1 1843.5,145.8 1844.5,145.5 1845.5,145.2 1846.5,144.9 1847.5,144.6 1848.5,144.3 1849.5,143.9 1850.5,143.6 1851.5,143.2 1852.5,142.8 1853.5,142.4 1854.5,142.0 1855.5,141.5 1856.5,141.0 1857.5,140.5 1858.5,139.9 1859.5,139.3 1860.5,138.6 1861.5,137.9 1862.5,137.1 1863.5,136.2 1864.5,135.2 1865.5,134.1 1866.5,132.9 1867.5,131.4 1868.5,129.6 1869.5,127.2 1870.5,124.2 1871.5,120.5 1872.5,116.1 1873.5,111.0 1874.5,105.4 1875.5,99.8 1876.5,94.5 1877.5,89.4 1878.5,84.4 1879.5,79.5 1880.5,74.7 1881.5,70.3 1882.5,66.7 1883.5,64.2 1884.5,63.1 1885.5,63.8 1886.5,66.2 1887.5,70.1 1888.5,75.3 1889.5,81.2 1890.5,87.9 1891.5,95.6 1892.5,104.7 1893.5,114.7 1894.5,124.6 1895.5,133.1 1896.5,139.9 1897.5,145.4 1898.5,149.9 1899.5,153.5 1900.5,155.9 1901.5,156.7 1902.5,155.9 1903.5,153.8 1904.5,150.9 1905.5,147.6 1906.5,144.2 1907.5,140.6 1908.5,137.2 1909.5,134.3 1910.5,132.7 1911.5,132.8 1912.5,134.8 1913.5,138.4 1914.5,143.2 1915.5,149.5 1916.5,157.5 1917.5,167.4 1918.5,178.1 1919.5,188.2 1920.5,196.6 1921.5,203.6 1922.5,209.5 1923.5,214.5 1924.5,218.7 1925.5,221.5 1926.5,222.8 1927.5,222.2 1928.5,219.8 1929.5,216.1 1930.5,211.5 1931.5,206.6 1932.5,201.6 1933.5,196.3 1934.5,190.6 1935.5,184.9 1936.5,179.6 1937.5,174.9 1938.5,171.1 1939.5,168.2 1940.5,165.7 1941.5,163.5 1942.5,161.7 1943.5,160.0 1944.5,158.6 1945.5,157.4 1946.5,156.4 1947.5,155.5 1948.5,154.7 1949.5,154.0 1950.5,153.3 1951.5,152.7 1952.5,152.1 1953.5,151.6 1954.5,151.1 1955.5,150.6 1956.5,150.2 1957.5,149.7 1958.5,149.3 1959.5,148.8 1960.5,148.4 1961.5,147.9 1962.5,147.5 1963.5,147.1 1964.5,146.7 1965.5,146.3 1966.5,145.9 1967.5,145.5 1968.5,145.1 1969.5,144.7 1970.5,144.4 1971.5,144.0 1972.5,143.7 1973.5,143.4 1974.5,143.0 1975.5,142.7 1976.5,142.4 1977.5,142.1 1978.5,141.8 1979.5,141.5 1980.5,141.3 1981.5,141.0 1982.5,140.8 1983.5,140.5 1984.5,140.3 1985.5,140.1 1986.5,139.9 1987.5,139.7 1988.5,139.5 1989.5,139.4 1990.5,139.2 1991.5,139.1 1992.5,139.0 1993.5,138.8 1994.5,138.7 1995.5,138.5 1996.5,138.4 1997.5,138.2 1998.5,138.0 1999.5,137.8 2000.5,137.6 2001.5,137.3 2002.5,137.0 2003.5,136.7 2004.5,136.3 2005.5,135.9 2006.5,135.4 2007.5,134.7 2008.5,134.0 2009.5,133.2 2010.5,132.3 2011.5,131.2 2012.5,129.9 2013.5,128.1 2014.5,125.9 2015.5,123.2 2016.5,120.1 2017.5,116.5 2018.5,112.2 2019.5,107.0 2020.5,100.9 2021.5,94.6 2022.5,88.8 2023.5,83.8 2024.5,79.6 2025.5,76.1 2026.5,73.5 2027.5,72.3 2028.5,72.8 2029.5,74.8 2030.5,78.1 2031.5,82.6 2032.5,88.5 2033.5,96.3 2034.5,105.9 2035.5,116.8 2036.5,128.5 2037.5,140.9 2038.5,153.7 2039.5,166.2 2040.5,177.4 2041.5,186.6 2042.5,194.1 2043.5,200.3 2044.5,205.7 2045.5,209.9 2046.5,212.6 2047.5,213.7 2048.5,213.0 2049.5,210.9 2050.5,207.8 2051.5,204.0 2052.5,199.9 2053.5,195.4 2054.5,190.5 2055.5,185.3 2056.5,180.0 2057.5,175.2 2058.5,171.0 2059.5,167.6 2060.5,164.5 2061.5,161.9 2062.5,159.5 2063.5,157.6 2064.5,156.1 2065.5,154.8 2066.5,153.8 2067.5,152.9 2068.5,152.1 2069.5,151.3 2070.5,150.6 2071.5,150.0 2072.5,149.5 2073.5,149.0 2074.5,148.6 2075.5,148.2 2076.5,147.8 2077.5,147.5 2078.5,147.2 2079.5,146.9 2080.5,146.6 2081.5,146.3 2082.5,146.1 2083.5,145.8 2084.5,145.6 2085.5,145.4 2086.5,145.1 2087.5,144.9 2088.5,144.8 2089.5,144.6 2090.5,144.4 2091.5,144.3 2092.5,144.1 2093.5,144.0 2094.5,143.9 2095.5,143.8 2096.5,143.7 2097.5,143.6 2098.5,143.5 2099.5,143.5 2100.5,143.4 2101.5,143.3 2102.5,143.2 2103.5,143.2 2104.5,143.1 2105.5,143.0 2106.5,143.0 2107.5,142.9 2108.5,142.9 2109.5,142.8 2110.5,142.8 2111.5,142.7 2112.5,142.7 2113.5,142.6 2114.5,142.6 2115.5,142.6 2116.5,142.6 2117.5,142.5 2118.5,142.5 2119.5,142.5 2120.5,142.5 2121.5,142.5 2122.5,142.5 2123.5,142.5 2124.5,142.5 2125.5,142.5 2126.5,142.5 2127.5,142.5 2128.5,142.5 2129.5,142.5 2130.5,142.5 2131.5,142.5 2132.5,142.5 2133.5,142.5 2134.5,142.5 2135.5,142.5 2136.5,142.5 2137.5,142.5 2138.5,142.5 2139.5,142.5 2140.5,142.5 2141.5,142.5 2142.5,142.5 2143.5,142.5 2144.5,142.5 2145.5,142.5 2146.5,142.5 2147.5,142.5 2148.5,142.5 2149.5,142.5 2150.5,142.6 2151.5,142.6 2152.5,142.6 2153.5,142.6 2154.5,142.6 2155.5,142.6 2156.5,142.6 2157.5,142.6 2158.5,142.6 2159.5,142.6 2160.5,142.6 2161.5,142.6 2162.5,142.6 2163.5,142.6 2164.5,142.6 2165.5,142.6 2166.5,142.6 2167.5,142.6 2168.5,142.6 2169.5,142.6 2170.5,142.6 2171.5,142.6 2172.5,142.6 2173.5,142.7 2174.5,142.7 2175.5,142.7 2176.5,142.7 2177.5,142.7 2178.5,142.7 2179.5,142.7 2180.5,142.7 2181.5,142.7 2182.5,142.7 2183.5,142.7 2184.5,142.7 2185.5,142.7 2186.5,142.7 2187.5,142.7 2188.5,142.7 2189.5,142.8 2190.5,142.8 2191.5,142.8 2192.5,142.8 2193.5,142.8 2194.5,142.8 2195.5,142.8 2196.5,142.8 2197.5,142.8 2198.5,142.8 2199.5,142.8 2200.5,142.8 2201.5,142.8 2202.5,142.8 2203.5,142.9 2204.5,142.9 2205.5,142.9 2206.5,142.9 2207.5,142.9 2208.5,142.9 2209.5,142.9 2210.5,142.9 2211.5,142.9 2212.5,142.9 2213.5,142.9 2214.5,142.9 2215.5,143.0 2216.5,143.0 2217.5,143.0 2218.5,143.0 2219.5,143.0 2220.5,143.0 2221.5,143.0 2222.5,143.0 2223.5,143.0 2224.5,143.0 2225.5,143.0 2226.5,143.1 2227.5,143.1 2228.5,143.1 2229.5,143.1 2230.5,143.1 2231.5,143.1 2232.5,143.2 2233.5,143.2 2234.5,143.2 2235.5,143.2 2236.5,143.2 2237.5,143.2 2238.5,143.3 2239.5,143.3 2240.5,143.3 2241.5,143.3 2242.5,143.4 2243.5,143.4 2244.5,143.4 2245.5,143.4 2246.5,143.4 2247.5,143.5 2248.5,143.5 2249.5,143.5 2250.5,143.6 2251.5,143.6 2252.5,143.6 2253.5,143.6 2254.5,143.7 2255.5,143.7 2256.5,143.7 2257.5,143.8 2258.5,143.8 2259.5,143.8 2260.5,143.8 2261.5,143.9 2262.5,143.9 2263.5,143.9 2264.5,144.0 2265.5,144.0 2266.5,144.0 2267.5,144.1 2268.5,144.1 2269.5,144.1 2270.5,144.2 2271.5,144.2 2272.5,144.2 2273.5,144.3 2274.5,144.3 2275.5,144.3 2276.5,144.4 2277.5,144.4 2278.5,144.4 2279.5,144.5 2280.5,144.5 2281.5,144.5 2282.5,144.6 2283.5,144.6 2284.5,144.6 2285.5,144.7 2286.5,144.7 2287.5,144.7 2288.5,144.8 2289.5,144.8 2290.5,144.8 2291.5,144.9 2292.5,144.9 2293.5,144.9 2294.5,145.0 2295.5,145.0 2296.5,145.0 2297.5,145.0 2298.5,145.1 2299.5,145.1 2300.5,145.1 2301.5,145.2 2302.5,145.2 2303.5,145.3 2304.5,145.3 2305.5,145.3 2306.5,145.4 2307.5,145.4 2308.5,145.4 2309.5,145.5 2310.5,145.5 2311.5,145.5 2312.5,145.6 2313.5,145.6 2314.5,145.7 2315.5,145.7 2316.5,145.7 2317.5,145.8 2318.5,145.8 2319.5,145.9 2320.5,145.9 2321.5,145.9 2322.5,146.0 2323.5,146.0 2324.5,146.1 2325.5,146.1 2326.5,146.1 2327.5,146.2 2328.5,146.2 2329.5,146.3 2330.5,146.3 2331.5,146.4 2332.5,146.4 2333.5,146.4 2334.5,146.5 2335.5,146.5 2336.5,146.6 2337.5,146.6 2338.5,146.7 2339.5,146.7 2340.5,146.7 2341.5,146.8 2342.5,146.8 2343.5,146.9 2344.5,146.9 2345.5,147.0 2346.5,147.0 2347.5,147.0 2348.5,147.1 2349.5,147.1 2350.5,147.2 2351.5,147.2 2352.5,147.3 2353.5,147.3 2354.5,147.3 2355.5,147.4 2356.5,147.4 2357.5,147.5 2358.5,147.5 2359.5,147.6 2360.5,147.6 2361.5,147.6 2362.5,147.7 2363.5,147.7 2364.5,147.8 2365.5,147.8 2366.5,147.9 2367.5,147.9 2368.5,147.9 2369.5,148.0 2370.5,148.0 2371.5,148.1 2372.5,148.1 2373.5,148.2 2374.5,148.2 2375.5,148.2 2376.5,148.3 2377.5,148.3 2378.5,148.4 2379.5,148.4 2380.5,148.4 2381.5,148.5 2382.5,148.5 2383.5,148.6 2384.5,148.6 2385.5,148.6 2386.5,148.7 2387.5,148.7 2388.5,148.8 2389.5,148.8 2390.5,148.8 2391.5,148.9 2392.5,148.9 2393.5,148.9 2394.5,149.0 2395.5,149.0 2396.5,149.1 2397.5,149.1 2398.5,149.1 2399.5,149.2 2400.5,149.2 2401.5,149.3 2402.5,149.3 2403.5,149.3 2404.5,149.4 2405.5,149.4 2406.5,149.4 2407.5,149.5 2408.0,149.5" fill="none" stroke="#00ff00" stroke-width="3.6" stroke-linejoin="round" stroke-linecap="round"/>
<path d="M1362.5,279.2 1363.5,279.2 1364.5,279.2 1365.5,279.2 1366.5,279.2 1367.5,279.2 1368.5,279.2 1369.5,279.2 1370.5,279.2 1371.5,279.2 1372.5,279.2 1373.5,279.2 1374.5,279.2 1375.5,279.2 1376.5,279.2 1377.5,279.2 1378.5,279.2 1379.5,279.2 1380.5,279.2 1381.5,279.2 1382.5,279.2 1383.5,279.2 1384.5,279.2 1385.5,279.2 1386.5,279.2 1387.5,279.2 1388.5,279.2 1389.5,279.2 1390.5,279.2 1391.5,279.2 1392.5,279.2 1393.5,279.2 1394.5,279.2 1395.5,279.2 1396.5,279.2 1397.5,279.2 1398.5,279.2 1399.5,279.2 1400.5,279.2 1401.5,279.2 1402.5,279.2 1403.5,279.2 1404.5,279.2 1405.5,279.2 1406.5,279.2 1407.5,279.2 1408.5,279.2 1409.5,279.2 1410.5,279.2 1411.5,279.2 1412.5,279.2 1413.5,279.2 1414.5,279.2 1415.5,279.2 1416.5,279.2 1417.5,279.2 1418.5,279.2 1419.5,279.2 1420.5,279.2 1421.5,279.2 1422.5,279.2 1423.5,279.2 1424.5,279.2 1425.5,279.2 1426.5,279.2 1427.5,279.2 1428.5,279.2 1429.5,279.2 1430.5,279.2 1431.5,279.2 1432.5,279.2 1433.5,279.2 1434.5,279.2 1435.5,279.2 1436.5,279.2 1437.5,279.2 1438.5,279.2 1439.5,279.2 1440.5,279.2 1441.5,279.2 1442.5,279.2 1443.5,279.2 1444.5,279.2 1445.5,279.2 1446.5,279.2 1447.5,279.2 1448.5,279.2 1449.5,279.2 1450.5,279.2 1451.5,279.2 1452.5,279.2 1453.5,279.2 1454.5,279.2 1455.5,279.2 1456.5,279.2 1457.5,279.2 1458.5,279.2 1459.5,279.2 1460.5,279.2 1461.5,279.2 1462.5,279.2 1463.5,279.2 1464.5,279.2 1465.5,279.2 1466.5,279.2 1467.5,279.2 1468.5,279.2 1469.5,279.2 1470.5,279.2 1471.5,279.2 1472.5,279.2 1473.5,279.2 1474.5,279.2 1475.5,279.2 1476.5,279.2 1477.5,279.2 1478.5,279.2 1479.5,279.2 1480.5,279.2 1481.5,279.2 1482.5,279.2 1483.5,279.2 1484.5,279.2 1485.5,279.2 1486.5,279.2 1487.5,279.2 1488.5,279.2 1489.5,279.2 1490.5,279.2 1491.5,279.2 1492.5,279.2 1493.5,279.2 1494.5,279.2 1495.5,279.2 1496.5,279.2 1497.5,279.2 1498.5,279.2 1499.5,279.2 1500.5,279.2 1501.5,279.2 1502.5,279.2 1503.5,279.2 1504.5,279.2 1505.5,279.2 1506.5,279.2 1507.5,279.2 1508.5,279.2 1509.5,279.2 1510.5,279.2 1511.5,279.2 1512.5,279.2 1513.5,279.2 1514.5,279.2 1515.5,279.2 1516.5,279.2 1517.5,279.2 1518.5,279.2 1519.5,279.2 1520.5,279.2 1521.5,279.2 1522.5,279.2 1523.5,279.2 1524.5,279.2 1525.5,279.2 1526.5,279.2 1527.5,279.2 1528.5,279.2 1529.5,279.2 1530.5,279.2 1531.5,279.2 1532.5,279.2 1533.5,279.2 1534.5,279.2 1535.5,279.2 1536.5,279.2 1537.5,279.2 1538.5,279.2 1539.5,279.2 1540.5,279.2 1541.5,279.2 1542.5,279.2 1543.5,279.2 1544.5,279.2 1545.5,279.2 1546.5,279.2 1547.5,279.2 1548.5,279.2 1549.5,279.2 1550.5,279.2 1551.5,279.2 1552.5,279.2 1553.5,279.2 1554.5,279.2 1555.5,279.2 1556.5,279.2 1557.5,279.2 1558.5,279.2 1559.5,279.2 1560.5,279.2 1561.5,279.2 1562.5,279.2 1563.5,279.2 1564.5,279.2 1565.5,279.2 1566.5,279.2 1567.5,279.2 1568.5,279.2 1569.5,279.2 1570.5,279.2 1571.5,279.2 1572.5,279.2 1573.5,279.2 1574.5,279.2 1575.5,279.2 1576.5,279.2 1577.5,279.2 1578.5,279.2 1579.5,279.2 1580.5,279.2 1581.5,279.2 1582.5,279.2 1583.5,279.2 1584.5,279.2 1585.5,279.2 1586.5,279.2 1587.5,279.2 1588.5,279.1 1589.5,279.0 1590.5,278.9 1591.5,278.8 1592.5,278.7 1593.5,278.6 1594.5,278.4 1595.5,278.2 1596.5,278.0 1597.5,277.9 1598.5,277.6 1599.5,277.4 1600.5,277.2 1601.5,277.0 1602.5,276.7 1603.5,276.4 1604.5,276.1 1605.5,275.6 1606.5,275.2 1607.5,274.6 1608.5,274.0 1609.5,273.3 1610.5,272.4 1611.5,271.4 1612.5,270.1 1613.5,268.7 1614.5,267.2 1615.5,265.7 1616.5,264.3 1617.5,263.0 1618.5,261.8 1619.5,260.6 1620.5,259.5 1621.5,258.6 1622.5,258.0 1623.5,257.9 1624.5,258.4 1625.5,259.3 1626.5,260.6 1627.5,262.2 1628.5,264.1 1629.5,266.5 1630.5,269.5 1631.5,273.0 1632.5,276.8 1633.5,280.4 1634.5,283.7 1635.5,286.6 1636.5,289.3 1637.5,291.8 1638.5,294.2 1639.5,296.4 1640.5,298.3 1641.5,299.8 1642.5,300.8 1643.5,301.2 1644.5,300.9 1645.5,299.9 1646.5,298.3 1647.5,296.5 1648.5,294.5 1649.5,292.7 1650.5,291.1 1651.5,289.7 1652.5,288.4 1653.5,287.1 1654.5,286.0 1655.5,285.0 1656.5,284.1 1657.5,283.4 1658.5,282.7 1659.5,282.1 1660.5,281.6 1661.5,281.3 1662.5,281.1 1663.5,281.0 1664.5,280.9 1665.5,280.9 1666.5,280.8 1667.5,280.8 1668.5,280.8 1669.5,280.8 1670.5,280.8 1671.5,280.7 1672.5,280.7 1673.5,280.7 1674.5,280.7 1675.5,280.7 1676.5,280.7 1677.5,280.7 1678.5,280.6 1679.5,280.6 1680.5,280.6 1681.5,280.6 1682.5,280.6 1683.5,280.5 1684.5,280.5 1685.5,280.5 1686.5,280.4 1687.5,280.4 1688.5,280.3 1689.5,280.3 1690.5,280.2 1691.5,280.1 1692.5,280.0 1693.5,279.9 1694.5,279.8 1695.5,279.7 1696.5,279.6 1697.5,279.5 1698.5,279.4 1699.5,279.3 1700.5,279.2 1701.5,279.1 1702.5,279.0 1703.5,278.8 1704.5,278.7 1705.5,278.6 1706.5,278.4 1707.5,278.3 1708.5,278.2 1709.5,278.1 1710.5,277.9 1711.5,277.8 1712.5,277.7 1713.5,277.6 1714.5,277.4 1715.5,277.3 1716.5,277.2 1717.5,277.0 1718.5,276.9 1719.5,276.7 1720.5,276.5 1721.5,276.3 1722.5,276.1 1723.5,275.9 1724.5,275.6 1725.5,275.3 1726.5,274.9 1727.5,274.3 1728.5,273.7 1729.5,273.0 1730.5,272.2 1731.5,271.3 1732.5,270.3 1733.5,269.1 1734.5,267.6 1735.5,265.9 1736.5,264.1 1737.5,262.5 1738.5,261.0 1739.5,259.6 1740.5,258.3 1741.5,257.2 1742.5,256.2 1743.5,255.6 1744.5,255.5 1745.5,255.9 1746.5,256.9 1747.5,258.4 1748.5,260.2 1749.5,262.1 1750.5,264.2 1751.5,266.5 1752.5,269.1 1753.5,271.7 1754.5,274.2 1755.5,276.4 1756.5,278.2 1757.5,279.8 1758.5,281.2 1759.5,282.2 1760.5,282.8 1761.5,282.9 1762.5,282.2 1763.5,281.1 1764.5,279.8 1765.5,278.6 1766.5,277.5 1767.5,276.6 1768.5,276.1 1769.5,276.2 1770.5,277.0 1771.5,278.5 1772.5,280.4 1773.5,282.5 1774.5,284.8 1775.5,287.2 1776.5,289.8 1777.5,292.3 1778.5,294.7 1779.5,296.9 1780.5,298.7 1781.5,300.3 1782.5,301.8 1783.5,303.0 1784.5,303.9 1785.5,304.2 1786.5,303.9 1787.5,303.0 1788.5,301.5 1789.5,299.8 1790.5,298.1 1791.5,296.4 1792.5,294.9 1793.5,293.3 1794.5,291.8 1795.5,290.4 1796.5,289.2 1797.5,288.1 1798.5,287.2 1799.5,286.4 1800.5,285.7 1801.5,285.1 1802.5,284.5 1803.5,284.1 1804.5,283.7 1805.5,283.4 1806.5,283.2 1807.5,282.9 1808.5,282.7 1809.5,282.6 1810.5,282.4 1811.5,282.2 1812.5,282.1 1813.5,281.9 1814.5,281.8 1815.5,281.7 1816.5,281.6 1817.5,281.5 1818.5,281.4 1819.5,281.3 1820.5,281.2 1821.5,281.1 1822.5,281.0 1823.5,280.9 1824.5,280.8 1825.5,280.7 1826.5,280.7 1827.5,280.6 1828.5,280.5 1829.5,280.5 1830.5,280.4 1831.5,280.4 1832.5,280.3 1833.5,280.2 1834.5,280.2 1835.5,280.1 1836.5,280.1 1837.5,280.0 1838.5,280.0 1839.5,279.9 1840.5,279.8 1841.5,279.8 1842.5,279.7 1843.5,279.6 1844.5,279.5 1845.5,279.4 1846.5,279.3 1847.5,279.2 1848.5,279.1 1849.5,279.0 1850.5,278.9 1851.5,278.8 1852.5,278.7 1853.5,278.5 1854.5,278.4 1855.5,278.3 1856.5,278.1 1857.5,277.9 1858.5,277.8 1859.5,277.6 1860.5,277.4 1861.5,277.2 1862.5,276.9 1863.5,276.7 1864.5,276.4 1865.5,276.1 1866.5,275.8 1867.5,275.5 1868.5,275.2 1869.5,274.8 1870.5,274.4 1871.5,273.8 1872.5,273.0 1873.5,271.9 1874.5,270.6 1875.5,269.2 1876.5,267.6 1877.5,266.1 1878.5,264.7 1879.5,263.4 1880.5,262.1 1881.5,260.8 1882.5,259.5 1883.5,258.3 1884.5,257.2 1885.5,256.4 1886.5,256.0 1887.5,256.0 1888.5,256.6 1889.5,257.8 1890.5,259.4 1891.5,261.4 1892.5,263.5 1893.5,265.6 1894.5,267.9 1895.5,270.4 1896.5,273.0 1897.5,275.6 1898.5,277.9 1899.5,279.8 1900.5,281.4 1901.5,282.6 1902.5,283.4 1903.5,283.6 1904.5,283.2 1905.5,282.1 1906.5,280.7 1907.5,279.3 1908.5,278.1 1909.5,277.1 1910.5,276.2 1911.5,275.7 1912.5,275.5 1913.5,276.0 1914.5,277.3 1915.5,279.1 1916.5,281.3 1917.5,283.7 1918.5,286.3 1919.5,289.2 1920.5,292.1 1921.5,294.8 1922.5,297.1 1923.5,298.9 1924.5,300.3 1925.5,301.5 1926.5,302.5 1927.5,303.2 1928.5,303.7 1929.5,303.9 1930.5,303.6 1931.5,302.7 1932.5,301.4 1933.5,299.8 1934.5,298.1 1935.5,296.4 1936.5,294.8 1937.5,293.2 1938.5,291.6 1939.5,290.1 1940.5,288.8 1941.5,287.6 1942.5,286.7 1943.5,285.9 1944.5,285.3 1945.5,284.7 1946.5,284.2 1947.5,283.7 1948.5,283.3 1949.5,282.9 1950.5,282.7 1951.5,282.4 1952.5,282.2 1953.5,282.0 1954.5,281.8 1955.5,281.7 1956.5,281.5 1957.5,281.4 1958.5,281.3 1959.5,281.2 1960.5,281.0 1961.5,280.9 1962.5,280.8 1963.5,280.7 1964.5,280.6 1965.5,280.5 1966.5,280.5 1967.5,280.4 1968.5,280.3 1969.5,280.2 1970.5,280.1 1971.5,279.9 1972.5,279.8 1973.5,279.7 1974.5,279.6 1975.5,279.5 1976.5,279.4 1977.5,279.3 1978.5,279.2 1979.5,279.0 1980.5,278.9 1981.5,278.8 1982.5,278.7 1983.5,278.6 1984.5,278.5 1985.5,278.4 1986.5,278.3 1987.5,278.2 1988.5,278.1 1989.5,278.0 1990.5,277.9 1991.5,277.8 1992.5,277.8 1993.5,277.7 1994.5,277.6 1995.5,277.5 1996.5,277.5 1997.5,277.4 1998.5,277.4 1999.5,277.3 2000.5,277.3 2001.5,277.3 2002.5,277.2 2003.5,277.2 2004.5,277.2 2005.5,277.1 2006.5,277.1 2007.5,277.0 2008.5,277.0 2009.5,276.9 2010.5,276.7 2011.5,276.5 2012.5,276.1 2013.5,275.5 2014.5,274.7 2015.5,273.7 2016.5,272.7 2017.5,271.6 2018.5,270.4 2019.5,269.0 2020.5,267.6 2021.5,266.0 2022.5,264.5 2023.5,263.1 2024.5,261.8 2025.5,260.7 2026.5,259.6 2027.5,258.8 2028.5,258.4 2029.5,258.5 2030.5,259.1 2031.5,260.1 2032.5,261.6 2033.5,263.3 2034.5,265.4 2035.5,267.9 2036.5,271.2 2037.5,275.0 2038.5,279.0 2039.5,282.8 2040.5,286.2 2041.5,289.0 2042.5,291.4 2043.5,293.7 2044.5,295.9 2045.5,297.8 2046.5,299.5 2047.5,300.8 2048.5,301.7 2049.5,302.0 2050.5,301.8 2051.5,301.0 2052.5,299.7 2053.5,298.1 2054.5,296.3 2055.5,294.6 2056.5,293.0 2057.5,291.5 2058.5,290.3 2059.5,289.0 2060.5,287.9 2061.5,286.8 2062.5,285.9 2063.5,285.1 2064.5,284.5 2065.5,284.0 2066.5,283.7 2067.5,283.4 2068.5,283.1 2069.5,282.8 2070.5,282.6 2071.5,282.4 2072.5,282.2 2073.5,282.1 2074.5,281.9 2075.5,281.8 2076.5,281.7 2077.5,281.6 2078.5,281.5 2079.5,281.4 2080.5,281.3 2081.5,281.2 2082.5,281.2 2083.5,281.1 2084.5,281.0 2085.5,280.9 2086.5,280.9 2087.5,280.8 2088.5,280.8 2089.5,280.7 2090.5,280.7 2091.5,280.6 2092.5,280.6 2093.5,280.6 2094.5,280.5 2095.5,280.5 2096.5,280.5 2097.5,280.5 2098.5,280.5 2099.5,280.5 2100.5,280.4 2101.5,280.4 2102.5,280.4 2103.5,280.4 2104.5,280.4 2105.5,280.4 2106.5,280.4 2107.5,280.4 2108.5,280.3 2109.5,280.3 2110.5,280.3 2111.5,280.3 2112.5,280.3 2113.5,280.3 2114.5,280.3 2115.5,280.3 2116.5,280.3 2117.5,280.2 2118.5,280.2 2119.5,280.2 2120.5,280.2 2121.5,280.2 2122.5,280.2 2123.5,280.2 2124.5,280.2 2125.5,280.2 2126.5,280.2 2127.5,280.2 2128.5,280.2 2129.5,280.1 2130.5,280.1 2131.5,280.1 2132.5,280.1 2133.5,280.1 2134.5,280.1 2135.5,280.1 2136.5,280.1 2137.5,280.1 2138.5,280.1 2139.5,280.1 2140.5,280.1 2141.5,280.1 2142.5,280.1 2143.5,280.1 2144.5,280.1 2145.5,280.1 2146.5,280.0 2147.5,280.0 2148.5,280.0 2149.5,280.0 2150.5,280.0 2151.5,280.0 2152.5,280.0 2153.5,280.0 2154.5,280.0 2155.5,280.0 2156.5,280.0 2157.5,280.0 2158.5,280.0 2159.5,280.0 2160.5,280.0 2161.5,280.0 2162.5,280.0 2163.5,280.0 2164.5,280.0 2165.5,280.0 2166.5,280.0 2167.5,280.0 2168.5,280.0 2169.5,280.0 2170.5,280.0 2171.5,280.0 2172.5,280.0 2173.5,280.0 2174.5,280.0 2175.5,280.0 2176.5,280.0 2177.5,280.0 2178.5,280.0 2179.5,280.0 2180.5,280.0 2181.5,280.0 2182.5,280.0 2183.5,280.0 2184.5,280.0 2185.5,280.0 2186.5,280.0 2187.5,280.0 2188.5,280.0 2189.5,280.0 2190.5,280.0 2191.5,280.0 2192.5,280.0 2193.5,280.0 2194.5,280.0 2195.5,280.0 2196.5,280.0 2197.5,280.0 2198.5,280.0 2199.5,280.0 2200.5,280.0 2201.5,280.0 2202.5,280.0 2203.5,280.0 2204.5,280.0 2205.5,280.0 2206.5,280.0 2207.5,280.0 2208.5,280.0 2209.5,280.0 2210.5,280.0 2211.5,280.0 2212.5,280.1 2213.5,280.1 2214.5,280.1 2215.5,280.1 2216.5,280.1 2217.5,280.1 2218.5,280.1 2219.5,280.1 2220.5,280.1 2221.5,280.1 2222.5,280.1 2223.5,280.1 2224.5,280.1 2225.5,280.1 2226.5,280.1 2227.5,280.1 2228.5,280.1 2229.5,280.1 2230.5,280.1 2231.5,280.1 2232.5,280.1 2233.5,280.1 2234.5,280.1 2235.5,280.1 2236.5,280.1 2237.5,280.1 2238.5,280.1 2239.5,280.1 2240.5,280.1 2241.5,280.1 2242.5,280.1 2243.5,280.1 2244.5,280.1 2245.5,280.1 2246.5,280.1 2247.5,280.1 2248.5,280.2 2249.5,280.2 2250.5,280.2 2251.5,280.2 2252.5,280.2 2253.5,280.2 2254.5,280.2 2255.5,280.2 2256.5,280.2 2257.5,280.2 2258.5,280.2 2259.5,280.2 2260.5,280.2 2261.5,280.2 2262.5,280.2 2263.5,280.2 2264.5,280.2 2265.5,280.2 2266.5,280.2 2267.5,280.2 2268.5,280.2 2269.5,280.2 2270.5,280.2 2271.5,280.2 2272.5,280.2 2273.5,280.2 2274.5,280.2 2275.5,280.2 2276.5,280.2 2277.5,280.3 2278.5,280.3 2279.5,280.3 2280.5,280.3 2281.5,280.3 2282.5,280.3 2283.5,280.3 2284.5,280.3 2285.5,280.3 2286.5,280.3 2287.5,280.3 2288.5,280.3 2289.5,280.3 2290.5,280.3 2291.5,280.3 2292.5,280.3 2293.5,280.3 2294.5,280.3 2295.5,280.3 2296.5,280.3 2297.5,280.3 2298.5,280.3 2299.5,280.3 2300.5,280.3 2301.5,280.3 2302.5,280.3 2303.5,280.3 2304.5,280.3 2305.5,280.4 2306.5,280.4 2307.5,280.4 2308.5,280.4 2309.5,280.4 2310.5,280.4 2311.5,280.4 2312.5,280.4 2313.5,280.4 2314.5,280.4 2315.5,280.4 2316.5,280.4 2317.5,280.4 2318.5,280.4 2319.5,280.4 2320.5,280.4 2321.5,280.4 2322.5,280.4 2323.5,280.4 2324.5,280.4 2325.5,280.4 2326.5,280.4 2327.5,280.4 2328.5,280.4 2329.5,280.4 2330.5,280.4 2331.5,280.4 2332.5,280.4 2333.5,280.4 2334.5,280.4 2335.5,280.4 2336.5,280.4 2337.5,280.4 2338.5,280.4 2339.5,280.4 2340.5,280.4 2341.5,280.5 2342.5,280.5 2343.5,280.5 2344.5,280.5 2345.5,280.5 2346.5,280.5 2347.5,280.5 2348.5,280.5 2349.5,280.5 2350.5,280.5 2351.5,280.5 2352.5,280.5 2353.5,280.5 2354.5,280.5 2355.5,280.5 2356.5,280.5 2357.5,280.5 2358.5,280.5 2359.5,280.5 2360.5,280.5 2361.5,280.5 2362.5,280.5 2363.5,280.5 2364.5,280.5 2365.5,280.5 2366.5,280.5 2367.5,280.5 2368.5,280.5 2369.5,280.5 2370.5,280.5 2371.5,280.5 2372.5,280.5 2373.5,280.5 2374.5,280.5 2375.5,280.5 2376.5,280.5 2377.5,280.5 2378.5,280.5 2379.5,280.5 2380.5,280.5 2381.5,280.5 2382.5,280.5 2383.5,280.5 2384.5,280.5 2385.5,280.5 2386.5,280.5 2387.5,280.5 2388.5,280.5 2389.5,280.5 2390.5,280.5 2391.5,280.5 2392.5,280.5 2393.5,280.5 2394.5,280.5 2395.5,280.5 2396.5,280.5 2397.5,280.5 2398.5,280.5 2399.5,280.5 2400.5,280.5 2401.5,280.5 2402.5,280.5 2403.5,280.5 2404.5,280.5 2405.5,280.5 2406.5,280.5 2407.5,280.5 2408.0,280.5" fill="none" stroke="#0000ff" stroke-width="3.3" stroke-linejoin="round" stroke-linecap="round"/>
<path d="M1362.5,468.0 1363.5,468.0 1364.5,468.0 1365.5,468.0 1366.5,468.0 1367.5,468.0 1368.5,468.0 1369.5,468.0 1370.5,468.0 1371.5,468.0 1372.5,468.0 1373.5,468.0 1374.5,468.0 1375.5,468.0 1376.5,468.0 1377.5,468.0 1378.5,468.0 1379.5,468.0 1380.5,468.0 1381.5,468.0 1382.5,468.0 1383.5,468.0 1384.5,468.0 1385.5,468.0 1386.5,468.0 1387.5,468.0 1388.5,468.0 1389.5,468.0 1390.5,468.0 1391.5,468.0 1392.5,468.0 1393.5,468.0 1394.5,468.0 1395.5,468.0 1396.5,468.0 1397.5,468.0 1398.5,468.0 1399.5,468.0 1400.5,468.0 1401.5,468.0 1402.5,468.0 1403.5,468.0 1404.5,468.0 1405.5,468.0 1406.5,468.0 1407.5,468.0 1408.5,468.0 1409.5,468.0 1410.5,468.0 1411.5,468.0 1412.5,468.0 1413.5,468.0 1414.5,468.0 1415.5,468.0 1416.5,468.0 1417.5,468.0 1418.5,468.0 1419.5,468.0 1420.5,468.0 1421.5,468.0 1422.5,468.0 1423.5,468.0 1424.5,468.0 1425.5,468.0 1426.5,468.0 1427.5,468.0 1428.5,468.0 1429.5,468.0 1430.5,468.0 1431.5,468.0 1432.5,468.0 1433.5,468.0 1434.5,468.0 1435.5,468.0 1436.5,468.0 1437.5,468.0 1438.5,468.0 1439.5,468.0 1440.5,468.0 1441.5,468.0 1442.5,468.0 1443.5,468.0 1444.5,468.0 1445.5,468.0 1446.5,468.0 1447.5,468.0 1448.5,468.0 1449.5,468.0 1450.5,468.0 1451.5,468.0 1452.5,468.0 1453.5,468.0 1454.5,468.0 1455.5,468.0 1456.5,468.0 1457.5,468.0 1458.5,468.0 1459.5,468.0 1460.5,468.0 1461.5,468.0 1462.5,468.0 1463.5,468.0 1464.5,468.0 1465.5,468.0 1466.5,468.0 1467.5,468.0 1468.5,468.0 1469.5,468.0 1470.5,468.0 1471.5,468.0 1472.5,468.0 1473.5,468.0 1474.5,468.0 1475.5,468.0 1476.5,468.0 1477.5,468.0 1478.5,468.0 1479.5,468.0 1480.5,468.0 1481.5,468.0 1482.5,468.0 1483.5,468.0 1484.5,468.0 1485.5,468.0 1486.5,468.0 1487.5,468.0 1488.5,468.0 1489.5,468.0 1490.5,468.0 1491.5,468.0 1492.5,468.0 1493.5,468.0 1494.5,468.0 1495.5,468.0 1496.5,468.0 1497.5,468.0 1498.5,468.0 1499.5,468.0 1500.5,468.0 1501.5,468.0 1502.5,468.0 1503.5,468.0 1504.5,468.0 1505.5,468.0 1506.5,468.0 1507.5,468.0 1508.5,468.0 1509.5,468.0 1510.5,468.0 1511.5,468.0 1512.5,468.0 1513.5,468.0 1514.5,468.0 1515.5,468.0 1516.5,468.0 1517.5,468.0 1518.5,468.0 1519.5,468.0 1520.5,468.0 1521.5,468.0 1522.5,468.0 1523.5,468.0 1524.5,468.0 1525.5,468.0 1526.5,468.0 1527.5,468.0 1528.5,468.0 1529.5,468.0 1530.5,468.0 1531.5,468.0 1532.5,468.0 1533.5,468.0 1534.5,468.0 1535.5,468.0 1536.5,468.0 1537.5,468.0 1538.5,468.0 1539.5,468.0 1540.5,468.0 1541.5,468.0 1542.5,468.0 1543.5,468.0 1544.5,468.0 1545.5,468.0 1546.5,468.0 1547.5,468.0 1548.5,468.0 1549.5,468.0 1550.5,468.0 1551.5,468.0 1552.5,468.0 1553.5,468.0 1554.5,468.0 1555.5,468.0 1556.5,468.0 1557.5,468.0 1558.5,468.0 1559.5,468.0 1560.5,468.0 1561.5,468.0 1562.5,467.9 1563.5,467.9 1564.5,467.8 1565.5,467.7 1566.5,467.6 1567.5,467.5 1568.5,467.4 1569.5,467.3 1570.5,467.1 1571.5,467.0 1572.5,466.8 1573.5,466.7 1574.5,466.5 1575.5,466.3 1576.5,466.2 1577.5,466.0 1578.5,465.8 1579.5,465.6 1580.5,465.4 1581.5,465.2 1582.5,464.9 1583.5,464.7 1584.5,464.4 1585.5,464.1 1586.5,463.8 1587.5,463.5 1588.5,463.1 1589.5,462.7 1590.5,462.3 1591.5,461.8 1592.5,461.3 1593.5,460.8 1594.5,460.2 1595.5,459.6 1596.5,458.9 1597.5,458.1 1598.5,457.1 1599.5,456.0 1600.5,454.8 1601.5,453.4 1602.5,451.9 1603.5,450.2 1604.5,448.2 1605.5,445.7 1606.5,442.9 1607.5,439.5 1608.5,435.9 1609.5,431.8 1610.5,427.2 1611.5,422.1 1612.5,416.3 1613.5,409.9 1614.5,403.1 1615.5,395.7 1616.5,387.8 1617.5,379.8 1618.5,372.2 1619.5,365.1 1620.5,358.5 1621.5,352.8 1622.5,348.5 1623.5,346.5 1624.5,347.3 1625.5,350.9 1626.5,357.3 1627.5,366.8 1628.5,380.6 1629.5,399.6 1630.5,421.5 1631.5,442.3 1632.5,460.5 1633.5,476.9 1634.5,492.5 1635.5,508.1 1636.5,523.5 1637.5,538.0 1638.5,550.9 1639.5,562.2 1640.5,572.0 1641.5,579.8 1642.5,584.7 1643.5,585.9 1644.5,583.3 1645.5,577.6 1646.5,570.3 1647.5,562.3 1648.5,554.0 1649.5,545.2 1650.5,536.4 1651.5,528.1 1652.5,520.7 1653.5,514.3 1654.5,508.5 1655.5,503.4 1656.5,499.1 1657.5,495.5 1658.5,492.5 1659.5,489.9 1660.5,487.7 1661.5,485.8 1662.5,484.2 1663.5,483.0 1664.5,482.0 1665.5,481.2 1666.5,480.5 1667.5,479.9 1668.5,479.3 1669.5,478.9 1670.5,478.4 1671.5,477.9 1672.5,477.5 1673.5,477.1 1674.5,476.6 1675.5,476.2 1676.5,475.8 1677.5,475.4 1678.5,475.0 1679.5,474.7 1680.5,474.3 1681.5,473.9 1682.5,473.6 1683.5,473.2 1684.5,472.9 1685.5,472.6 1686.5,472.2 1687.5,471.9 1688.5,471.5 1689.5,471.1 1690.5,470.8 1691.5,470.4 1692.5,470.0 1693.5,469.6 1694.5,469.2 1695.5,468.8 1696.5,468.4 1697.5,468.0 1698.5,467.6 1699.5,467.2 1700.5,466.8 1701.5,466.4 1702.5,466.0 1703.5,465.5 1704.5,465.1 1705.5,464.7 1706.5,464.2 1707.5,463.7 1708.5,463.2 1709.5,462.8 1710.5,462.2 1711.5,461.7 1712.5,461.2 1713.5,460.7 1714.5,460.2 1715.5,459.6 1716.5,459.0 1717.5,458.3 1718.5,457.5 1719.5,456.6 1720.5,455.6 1721.5,454.3 1722.5,452.8 1723.5,451.1 1724.5,449.2 1725.5,447.1 1726.5,444.8 1727.5,442.3 1728.5,439.6 1729.5,436.5 1730.5,433.0 1731.5,429.0 1732.5,424.3 1733.5,418.9 1734.5,412.5 1735.5,405.3 1736.5,397.3 1737.5,388.6 1738.5,379.4 1739.5,370.1 1740.5,360.8 1741.5,351.6 1742.5,343.4 1743.5,337.5 1744.5,335.3 1745.5,337.5 1746.5,343.6 1747.5,352.9 1748.5,364.9 1749.5,379.9 1750.5,397.2 1751.5,414.3 1752.5,429.0 1753.5,441.0 1754.5,450.8 1755.5,459.0 1756.5,466.1 1757.5,472.3 1758.5,477.7 1759.5,481.8 1760.5,483.9 1761.5,483.6 1762.5,480.7 1763.5,476.1 1764.5,470.7 1765.5,465.1 1766.5,459.4 1767.5,454.3 1768.5,451.0 1769.5,450.5 1770.5,453.3 1771.5,459.0 1772.5,466.7 1773.5,476.0 1774.5,486.9 1775.5,499.2 1776.5,512.0 1777.5,524.6 1778.5,536.8 1779.5,548.7 1780.5,559.9 1781.5,570.2 1782.5,579.4 1783.5,587.4 1784.5,594.1 1785.5,598.4 1786.5,599.7 1787.5,597.6 1788.5,593.0 1789.5,586.7 1790.5,579.3 1791.5,570.8 1792.5,561.3 1793.5,551.0 1794.5,541.0 1795.5,531.9 1796.5,524.2 1797.5,517.7 1798.5,511.9 1799.5,506.8 1800.5,502.3 1801.5,498.5 1802.5,495.4 1803.5,492.8 1804.5,490.6 1805.5,488.7 1806.5,487.0 1807.5,485.5 1808.5,484.2 1809.5,483.1 1810.5,482.1 1811.5,481.3 1812.5,480.5 1813.5,479.8 1814.5,479.1 1815.5,478.5 1816.5,477.9 1817.5,477.4 1818.5,476.9 1819.5,476.4 1820.5,475.9 1821.5,475.5 1822.5,475.0 1823.5,474.6 1824.5,474.2 1825.5,473.8 1826.5,473.4 1827.5,473.0 1828.5,472.7 1829.5,472.4 1830.5,472.0 1831.5,471.7 1832.5,471.4 1833.5,471.1 1834.5,470.7 1835.5,470.4 1836.5,470.1 1837.5,469.7 1838.5,469.3 1839.5,468.9 1840.5,468.5 1841.5,468.1 1842.5,467.7 1843.5,467.3 1844.5,466.9 1845.5,466.5 1846.5,466.1 1847.5,465.6 1848.5,465.2 1849.5,464.7 1850.5,464.2 1851.5,463.7 1852.5,463.2 1853.5,462.6 1854.5,462.0 1855.5,461.4 1856.5,460.7 1857.5,460.0 1858.5,459.2 1859.5,458.3 1860.5,457.3 1861.5,456.2 1862.5,455.1 1863.5,453.8 1864.5,452.4 1865.5,450.8 1866.5,449.1 1867.5,447.2 1868.5,444.9 1869.5,442.1 1870.5,439.0 1871.5,435.5 1872.5,431.5 1873.5,426.7 1874.5,420.6 1875.5,413.0 1876.5,404.1 1877.5,394.3 1878.5,383.7 1879.5,373.1 1880.5,363.6 1881.5,356.0 1882.5,349.8 1883.5,344.6 1884.5,340.3 1885.5,337.1 1886.5,335.4 1887.5,335.6 1888.5,338.3 1889.5,343.5 1890.5,350.7 1891.5,359.5 1892.5,370.1 1893.5,382.5 1894.5,396.3 1895.5,410.5 1896.5,424.3 1897.5,437.4 1898.5,449.2 1899.5,460.1 1900.5,470.1 1901.5,478.8 1902.5,485.5 1903.5,489.2 1904.5,489.5 1905.5,486.8 1906.5,482.0 1907.5,476.1 1908.5,469.8 1909.5,463.4 1910.5,457.1 1911.5,451.8 1912.5,448.6 1913.5,448.5 1914.5,451.5 1915.5,457.1 1916.5,464.9 1917.5,474.8 1918.5,487.2 1919.5,501.7 1920.5,516.8 1921.5,531.4 1922.5,545.2 1923.5,558.1 1924.5,569.3 1925.5,578.8 1926.5,586.4 1927.5,592.3 1928.5,596.1 1929.5,597.1 1930.5,595.3 1931.5,591.3 1932.5,585.8 1933.5,579.2 1934.5,571.4 1935.5,562.5 1936.5,552.9 1937.5,543.4 1938.5,534.8 1939.5,527.3 1940.5,520.7 1941.5,514.9 1942.5,509.6 1943.5,505.1 1944.5,501.3 1945.5,498.1 1946.5,495.3 1947.5,492.8 1948.5,490.5 1949.5,488.5 1950.5,486.6 1951.5,485.1 1952.5,483.7 1953.5,482.6 1954.5,481.7 1955.5,480.8 1956.5,480.0 1957.5,479.3 1958.5,478.6 1959.5,478.0 1960.5,477.4 1961.5,476.8 1962.5,476.3 1963.5,475.8 1964.5,475.4 1965.5,474.9 1966.5,474.5 1967.5,474.0 1968.5,473.6 1969.5,473.2 1970.5,472.7 1971.5,472.3 1972.5,471.8 1973.5,471.4 1974.5,471.0 1975.5,470.6 1976.5,470.2 1977.5,469.8 1978.5,469.5 1979.5,469.1 1980.5,468.7 1981.5,468.4 1982.5,468.0 1983.5,467.7 1984.5,467.3 1985.5,467.0 1986.5,466.6 1987.5,466.3 1988.5,465.9 1989.5,465.5 1990.5,465.2 1991.5,464.8 1992.5,464.5 1993.5,464.2 1994.5,463.9 1995.5,463.6 1996.5,463.3 1997.5,463.0 1998.5,462.8 1999.5,462.4 2000.5,462.1 2001.5,461.7 2002.5,461.3 2003.5,460.9 2004.5,460.3 2005.5,459.7 2006.5,459.0 2007.5,458.0 2008.5,456.7 2009.5,455.2 2010.5,453.4 2011.5,451.4 2012.5,449.0 2013.5,446.2 2014.5,442.8 2015.5,438.9 2016.5,434.5 2017.5,429.8 2018.5,424.6 2019.5,418.8 2020.5,412.3 2021.5,405.2 2022.5,397.4 2023.5,389.0 2024.5,380.4 2025.5,372.4 2026.5,365.3 2027.5,359.1 2028.5,354.1 2029.5,351.1 2030.5,350.7 2031.5,353.5 2032.5,359.1 2033.5,366.9 2034.5,376.6 2035.5,388.3 2036.5,401.9 2037.5,416.9 2038.5,432.9 2039.5,449.6 2040.5,466.6 2041.5,483.9 2042.5,501.2 2043.5,517.7 2044.5,532.9 2045.5,546.6 2046.5,559.0 2047.5,569.8 2048.5,578.2 2049.5,583.0 2050.5,584.0 2051.5,581.6 2052.5,576.9 2053.5,570.7 2054.5,563.8 2055.5,556.1 2056.5,547.7 2057.5,538.8 2058.5,530.2 2059.5,522.6 2060.5,516.2 2061.5,510.6 2062.5,505.7 2063.5,501.3 2064.5,497.5 2065.5,494.2 2066.5,491.5 2067.5,489.2 2068.5,487.1 2069.5,485.3 2070.5,483.7 2071.5,482.3 2072.5,481.1 2073.5,480.1 2074.5,479.3 2075.5,478.5 2076.5,477.9 2077.5,477.3 2078.5,476.7 2079.5,476.2 2080.5,475.7 2081.5,475.3 2082.5,474.9 2083.5,474.5 2084.5,474.2 2085.5,473.9 2086.5,473.6 2087.5,473.4 2088.5,473.1 2089.5,472.9 2090.5,472.7 2091.5,472.4 2092.5,472.2 2093.5,472.0 2094.5,471.8 2095.5,471.7 2096.5,471.5 2097.5,471.3 2098.5,471.2 2099.5,471.0 2100.5,470.9 2101.5,470.7 2102.5,470.6 2103.5,470.5 2104.5,470.4 2105.5,470.3 2106.5,470.2 2107.5,470.1 2108.5,470.0 2109.5,469.9 2110.5,469.8 2111.5,469.8 2112.5,469.7 2113.5,469.6 2114.5,469.6 2115.5,469.5 2116.5,469.4 2117.5,469.3 2118.5,469.3 2119.5,469.2 2120.5,469.2 2121.5,469.1 2122.5,469.0 2123.5,469.0 2124.5,468.9 2125.5,468.9 2126.5,468.8 2127.5,468.8 2128.5,468.7 2129.5,468.7 2130.5,468.6 2131.5,468.6 2132.5,468.5 2133.5,468.5 2134.5,468.5 2135.5,468.4 2136.5,468.4 2137.5,468.4 2138.5,468.3 2139.5,468.3 2140.5,468.3 2141.5,468.3 2142.5,468.3 2143.5,468.3 2144.5,468.3 2145.5,468.3 2146.5,468.3 2147.5,468.3 2148.5,468.3 2149.5,468.3 2150.5,468.3 2151.5,468.3 2152.5,468.3 2153.5,468.3 2154.5,468.3 2155.5,468.3 2156.5,468.3 2157.5,468.3 2158.5,468.3 2159.5,468.3 2160.5,468.3 2161.5,468.3 2162.5,468.3 2163.5,468.3 2164.5,468.3 2165.5,468.3 2166.5,468.3 2167.5,468.3 2168.5,468.3 2169.5,468.3 2170.5,468.3 2171.5,468.3 2172.5,468.3 2173.5,468.3 2174.5,468.3 2175.5,468.3 2176.5,468.3 2177.5,468.3 2178.5,468.3 2179.5,468.3 2180.5,468.3 2181.5,468.3 2182.5,468.3 2183.5,468.3 2184.5,468.3 2185.5,468.3 2186.5,468.3 2187.5,468.4 2188.5,468.4 2189.5,468.4 2190.5,468.4 2191.5,468.4 2192.5,468.4 2193.5,468.4 2194.5,468.4 2195.5,468.4 2196.5,468.4 2197.5,468.4 2198.5,468.4 2199.5,468.4 2200.5,468.4 2201.5,468.4 2202.5,468.4 2203.5,468.4 2204.5,468.4 2205.5,468.4 2206.5,468.5 2207.5,468.5 2208.5,468.5 2209.5,468.5 2210.5,468.5 2211.5,468.5 2212.5,468.5 2213.5,468.5 2214.5,468.5 2215.5,468.5 2216.5,468.5 2217.5,468.5 2218.5,468.5 2219.5,468.5 2220.5,468.5 2221.5,468.6 2222.5,468.6 2223.5,468.6 2224.5,468.6 2225.5,468.6 2226.5,468.6 2227.5,468.6 2228.5,468.6 2229.5,468.6 2230.5,468.6 2231.5,468.6 2232.5,468.6 2233.5,468.6 2234.5,468.6 2235.5,468.7 2236.5,468.7 2237.5,468.7 2238.5,468.7 2239.5,468.7 2240.5,468.7 2241.5,468.7 2242.5,468.7 2243.5,468.7 2244.5,468.7 2245.5,468.7 2246.5,468.7 2247.5,468.7 2248.5,468.8 2249.5,468.8 2250.5,468.8 2251.5,468.8 2252.5,468.8 2253.5,468.8 2254.5,468.8 2255.5,468.8 2256.5,468.8 2257.5,468.8 2258.5,468.8 2259.5,468.8 2260.5,468.8 2261.5,468.9 2262.5,468.9 2263.5,468.9 2264.5,468.9 2265.5,468.9 2266.5,468.9 2267.5,468.9 2268.5,468.9 2269.5,468.9 2270.5,468.9 2271.5,468.9 2272.5,468.9 2273.5,469.0 2274.5,469.0 2275.5,469.0 2276.5,469.0 2277.5,469.0 2278.5,469.0 2279.5,469.0 2280.5,469.0 2281.5,469.0 2282.5,469.0 2283.5,469.0 2284.5,469.0 2285.5,469.0 2286.5,469.1 2287.5,469.1 2288.5,469.1 2289.5,469.1 2290.5,469.1 2291.5,469.1 2292.5,469.1 2293.5,469.1 2294.5,469.1 2295.5,469.1 2296.5,469.1 2297.5,469.1 2298.5,469.1 2299.5,469.1 2300.5,469.2 2301.5,469.2 2302.5,469.2 2303.5,469.2 2304.5,469.2 2305.5,469.2 2306.5,469.2 2307.5,469.2 2308.5,469.2 2309.5,469.2 2310.5,469.2 2311.5,469.2 2312.5,469.2 2313.5,469.2 2314.5,469.3 2315.5,469.3 2316.5,469.3 2317.5,469.3 2318.5,469.3 2319.5,469.3 2320.5,469.3 2321.5,469.3 2322.5,469.3 2323.5,469.3 2324.5,469.3 2325.5,469.3 2326.5,469.3 2327.5,469.3 2328.5,469.3 2329.5,469.3 2330.5,469.3 2331.5,469.4 2332.5,469.4 2333.5,469.4 2334.5,469.4 2335.5,469.4 2336.5,469.4 2337.5,469.4 2338.5,469.4 2339.5,469.4 2340.5,469.4 2341.5,469.4 2342.5,469.4 2343.5,469.4 2344.5,469.4 2345.5,469.4 2346.5,469.4 2347.5,469.4 2348.5,469.4 2349.5,469.4 2350.5,469.4 2351.5,469.4 2352.5,469.4 2353.5,469.4 2354.5,469.5 2355.5,469.5 2356.5,469.5 2357.5,469.5 2358.5,469.5 2359.5,469.5 2360.5,469.5 2361.5,469.5 2362.5,469.5 2363.5,469.5 2364.5,469.5 2365.5,469.5 2366.5,469.5 2367.5,469.5 2368.5,469.5 2369.5,469.5 2370.5,469.5 2371.5,469.5 2372.5,469.5 2373.5,469.5 2374.5,469.5 2375.5,469.5 2376.5,469.5 2377.5,469.5 2378.5,469.5 2379.5,469.5 2380.5,469.5 2381.5,469.5 2382.5,469.5 2383.5,469.5 2384.5,469.5 2385.5,469.5 2386.5,469.5 2387.5,469.5 2388.5,469.5 2389.5,469.5 2390.5,469.5 2391.5,469.5 2392.5,469.5 2393.5,469.5 2394.5,469.5 2395.5,469.5 2396.5,469.5 2397.5,469.5 2398.5,469.5 2399.5,469.5 2400.5,469.5 2401.5,469.5 2402.5,469.5 2403.5,469.5 2404.5,469.5 2405.5,469.5 2406.5,469.5 2407.5,469.5 2408.0,469.5" fill="none" stroke="#ff0000" stroke-width="3.0" stroke-linejoin="round" stroke-linecap="round"/>
<path d="M1362.5,705.8 1363.5,705.8 1364.5,705.8 1365.5,705.8 1366.5,705.8 1367.5,705.8 1368.5,705.8 1369.5,705.8 1370.5,705.8 1371.5,705.8 1372.5,705.8 1373.5,705.8 1374.5,705.8 1375.5,705.9 1376.5,705.9 1377.5,705.9 1378.5,705.9 1379.5,705.9 1380.5,705.9 1381.5,705.9 1382.5,705.9 1383.5,705.9 1384.5,705.9 1385.5,705.9 1386.5,705.9 1387.5,705.9 1388.5,705.9 1389.5,705.9 1390.5,706.0 1391.5,706.0 1392.5,706.0 1393.5,706.0 1394.5,706.0 1395.5,706.0 1396.5,706.0 1397.5,706.0 1398.5,706.0 1399.5,706.0 1400.5,706.0 1401.5,706.0 1402.5,706.0 1403.5,706.0 1404.5,706.0 1405.5,706.0 1406.5,706.0 1407.5,706.0 1408.5,706.1 1409.5,706.1 1410.5,706.1 1411.5,706.1 1412.5,706.1 1413.5,706.1 1414.5,706.1 1415.5,706.1 1416.5,706.1 1417.5,706.1 1418.5,706.1 1419.5,706.1 1420.5,706.1 1421.5,706.1 1422.5,706.1 1423.5,706.1 1424.5,706.1 1425.5,706.1 1426.5,706.1 1427.5,706.1 1428.5,706.1 1429.5,706.1 1430.5,706.1 1431.5,706.1 1432.5,706.1 1433.5,706.1 1434.5,706.2 1435.5,706.2 1436.5,706.2 1437.5,706.2 1438.5,706.2 1439.5,706.2 1440.5,706.2 1441.5,706.2 1442.5,706.2 1443.5,706.2 1444.5,706.2 1445.5,706.2 1446.5,706.2 1447.5,706.2 1448.5,706.2 1449.5,706.2 1450.5,706.2 1451.5,706.2 1452.5,706.2 1453.5,706.2 1454.5,706.2 1455.5,706.2 1456.5,706.2 1457.5,706.2 1458.5,706.2 1459.5,706.2 1460.5,706.2 1461.5,706.2 1462.5,706.2 1463.5,706.2 1464.5,706.2 1465.5,706.2 1466.5,706.2 1467.5,706.2 1468.5,706.2 1469.5,706.2 1470.5,706.2 1471.5,706.2 1472.5,706.2 1473.5,706.2 1474.5,706.2 1475.5,706.2 1476.5,706.2 1477.5,706.2 1478.5,706.2 1479.5,706.2 1480.5,706.2 1481.5,706.2 1482.5,706.2 1483.5,706.2 1484.5,706.2 1485.5,706.2 1486.5,706.2 1487.5,706.2 1488.5,706.2 1489.5,706.2 1490.5,706.2 1491.5,706.2 1492.5,706.2 1493.5,706.2 1494.5,706.2 1495.5,706.2 1496.5,706.2 1497.5,706.2 1498.5,706.2 1499.5,706.2 1500.5,706.2 1501.5,706.2 1502.5,706.2 1503.5,706.2 1504.5,706.2 1505.5,706.2 1506.5,706.2 1507.5,706.2 1508.5,706.2 1509.5,706.2 1510.5,706.2 1511.5,706.2 1512.5,706.2 1513.5,706.2 1514.5,706.2 1515.5,706.2 1516.5,706.2 1517.5,706.2 1518.5,706.2 1519.5,706.2 1520.5,706.2 1521.5,706.2 1522.5,706.2 1523.5,706.2 1524.5,706.2 1525.5,706.2 1526.5,706.2 1527.5,706.2 1528.5,706.2 1529.5,706.2 1530.5,706.2 1531.5,706.2 1532.5,706.2 1533.5,706.2 1534.5,706.2 1535.5,706.2 1536.5,706.2 1537.5,706.2 1538.5,706.2 1539.5,706.2 1540.5,706.2 1541.5,706.2 1542.5,706.2 1543.5,706.2 1544.5,706.2 1545.5,706.1 1546.5,706.1 1547.5,706.1 1548.5,706.1 1549.5,706.0 1550.5,706.0 1551.5,706.0 1552.5,705.9 1553.5,705.9 1554.5,705.9 1555.5,705.8 1556.5,705.8 1557.5,705.8 1558.5,705.7 1559.5,705.7 1560.5,705.6 1561.5,705.6 1562.5,705.5 1563.5,705.5 1564.5,705.4 1565.5,705.4 1566.5,705.3 1567.5,705.3 1568.5,705.2 1569.5,705.2 1570.5,705.1 1571.5,705.1 1572.5,705.0 1573.5,704.9 1574.5,704.9 1575.5,704.8 1576.5,704.7 1577.5,704.6 1578.5,704.5 1579.5,704.4 1580.5,704.2 1581.5,704.1 1582.5,703.9 1583.5,703.8 1584.5,703.6 1585.5,703.4 1586.5,703.2 1587.5,703.0 1588.5,702.8 1589.5,702.6 1590.5,702.3 1591.5,702.1 1592.5,701.7 1593.5,701.3 1594.5,700.9 1595.5,700.4 1596.5,699.8 1597.5,699.2 1598.5,698.6 1599.5,697.8 1600.5,696.9 1601.5,695.9 1602.5,694.6 1603.5,693.1 1604.5,691.3 1605.5,689.4 1606.5,687.1 1607.5,684.5 1608.5,681.2 1609.5,677.2 1610.5,672.6 1611.5,667.8 1612.5,663.1 1613.5,658.7 1614.5,654.6 1615.5,650.6 1616.5,646.8 1617.5,643.2 1618.5,640.3 1619.5,638.3 1620.5,637.4 1621.5,638.0 1622.5,640.2 1623.5,643.6 1624.5,648.0 1625.5,653.6 1626.5,660.7 1627.5,669.3 1628.5,679.2 1629.5,689.9 1630.5,701.0 1631.5,712.6 1632.5,724.3 1633.5,735.2 1634.5,744.7 1635.5,752.6 1636.5,759.2 1637.5,764.8 1638.5,769.4 1639.5,772.3 1640.5,773.4 1641.5,772.5 1642.5,769.9 1643.5,766.2 1644.5,761.9 1645.5,757.4 1646.5,752.6 1647.5,747.6 1648.5,742.5 1649.5,737.6 1650.5,733.3 1651.5,729.6 1652.5,726.5 1653.5,723.8 1654.5,721.4 1655.5,719.4 1656.5,717.7 1657.5,716.5 1658.5,715.5 1659.5,714.7 1660.5,714.0 1661.5,713.4 1662.5,712.8 1663.5,712.4 1664.5,711.9 1665.5,711.5 1666.5,711.1 1667.5,710.8 1668.5,710.4 1669.5,710.1 1670.5,709.8 1671.5,709.5 1672.5,709.2 1673.5,708.9 1674.5,708.6 1675.5,708.4 1676.5,708.1 1677.5,707.9 1678.5,707.7 1679.5,707.5 1680.5,707.2 1681.5,707.0 1682.5,706.8 1683.5,706.6 1684.5,706.4 1685.5,706.1 1686.5,705.9 1687.5,705.7 1688.5,705.5 1689.5,705.3 1690.5,705.1 1691.5,705.0 1692.5,704.8 1693.5,704.6 1694.5,704.5 1695.5,704.3 1696.5,704.1 1697.5,703.9 1698.5,703.8 1699.5,703.6 1700.5,703.4 1701.5,703.2 1702.5,703.0 1703.5,702.8 1704.5,702.6 1705.5,702.4 1706.5,702.2 1707.5,701.9 1708.5,701.7 1709.5,701.4 1710.5,701.1 1711.5,700.8 1712.5,700.5 1713.5,700.1 1714.5,699.8 1715.5,699.4 1716.5,698.9 1717.5,698.5 1718.5,697.9 1719.5,697.4 1720.5,696.7 1721.5,696.0 1722.5,695.0 1723.5,694.0 1724.5,692.7 1725.5,691.2 1726.5,689.4 1727.5,687.5 1728.5,685.2 1729.5,682.3 1730.5,678.7 1731.5,674.4 1732.5,669.7 1733.5,664.8 1734.5,659.8 1735.5,654.8 1736.5,649.5 1737.5,644.1 1738.5,639.0 1739.5,634.9 1740.5,632.3 1741.5,631.7 1742.5,633.2 1743.5,636.4 1744.5,640.9 1745.5,646.2 1746.5,652.5 1747.5,659.9 1748.5,668.4 1749.5,677.3 1750.5,685.9 1751.5,693.7 1752.5,700.6 1753.5,706.4 1754.5,711.0 1755.5,714.1 1756.5,716.1 1757.5,716.8 1758.5,716.3 1759.5,714.3 1760.5,711.2 1761.5,707.9 1762.5,704.7 1763.5,701.7 1764.5,699.1 1765.5,697.1 1766.5,696.4 1767.5,697.2 1768.5,699.9 1769.5,704.1 1770.5,709.8 1771.5,717.2 1772.5,726.2 1773.5,735.8 1774.5,744.8 1775.5,752.3 1776.5,758.7 1777.5,764.4 1778.5,769.6 1779.5,774.1 1780.5,777.8 1781.5,780.4 1782.5,781.6 1783.5,781.3 1784.5,779.4 1785.5,776.0 1786.5,771.8 1787.5,767.2 1788.5,762.3 1789.5,757.0 1790.5,751.4 1791.5,745.9 1792.5,740.8 1793.5,736.5 1794.5,733.0 1795.5,730.1 1796.5,727.5 1797.5,725.1 1798.5,723.1 1799.5,721.3 1800.5,719.8 1801.5,718.6 1802.5,717.6 1803.5,716.6 1804.5,715.8 1805.5,715.0 1806.5,714.3 1807.5,713.6 1808.5,713.0 1809.5,712.5 1810.5,712.0 1811.5,711.6 1812.5,711.3 1813.5,711.0 1814.5,710.7 1815.5,710.4 1816.5,710.2 1817.5,710.0 1818.5,709.8 1819.5,709.6 1820.5,709.4 1821.5,709.2 1822.5,709.1 1823.5,708.9 1824.5,708.8 1825.5,708.6 1826.5,708.5 1827.5,708.3 1828.5,708.2 1829.5,708.0 1830.5,707.9 1831.5,707.7 1832.5,707.5 1833.5,707.3 1834.5,707.1 1835.5,706.9 1836.5,706.7 1837.5,706.4 1838.5,706.2 1839.5,706.0 1840.5,705.8 1841.5,705.5 1842.5,705.3 1843.5,705.0 1844.5,704.8 1845.5,704.5 1846.5,704.2 1847.5,703.9 1848.5,703.6 1849.5,703.3 1850.5,703.0 1851.5,702.6 1852.5,702.3 1853.5,701.9 1854.5,701.4 1855.5,701.0 1856.5,700.5 1857.5,700.0 1858.5,699.4 1859.5,698.7 1860.5,698.0 1861.5,697.2 1862.5,696.4 1863.5,695.4 1864.5,694.4 1865.5,693.3 1866.5,692.0 1867.5,690.4 1868.5,688.5 1869.5,686.2 1870.5,683.4 1871.5,679.9 1872.5,675.4 1873.5,670.1 1874.5,664.4 1875.5,658.8 1876.5,653.8 1877.5,649.5 1878.5,645.8 1879.5,642.3 1880.5,639.2 1881.5,636.4 1882.5,634.2 1883.5,632.7 1884.5,632.2 1885.5,632.9 1886.5,635.0 1887.5,638.3 1888.5,642.6 1889.5,647.6 1890.5,653.5 1891.5,660.7 1892.5,669.2 1893.5,678.6 1894.5,687.6 1895.5,695.6 1896.5,702.1 1897.5,707.6 1898.5,712.3 1899.5,716.0 1900.5,718.5 1901.5,719.2 1902.5,718.1 1903.5,715.4 1904.5,711.8 1905.5,708.0 1906.5,704.3 1907.5,700.8 1908.5,697.7 1909.5,695.5 1910.5,694.7 1911.5,695.7 1912.5,698.3 1913.5,702.2 1914.5,707.2 1915.5,713.6 1916.5,721.5 1917.5,730.4 1918.5,739.3 1919.5,747.3 1920.5,754.3 1921.5,760.6 1922.5,766.4 1923.5,771.5 1924.5,775.5 1925.5,778.1 1926.5,779.0 1927.5,778.0 1928.5,775.3 1929.5,771.5 1930.5,767.1 1931.5,762.3 1932.5,757.2 1933.5,751.7 1934.5,746.0 1935.5,740.7 1936.5,736.0 1937.5,732.3 1938.5,729.2 1939.5,726.7 1940.5,724.4 1941.5,722.3 1942.5,720.6 1943.5,719.1 1944.5,717.9 1945.5,716.9 1946.5,716.0 1947.5,715.2 1948.5,714.5 1949.5,713.8 1950.5,713.2 1951.5,712.7 1952.5,712.2 1953.5,711.7 1954.5,711.3 1955.5,710.9 1956.5,710.6 1957.5,710.2 1958.5,709.9 1959.5,709.6 1960.5,709.3 1961.5,709.0 1962.5,708.7 1963.5,708.5 1964.5,708.2 1965.5,708.0 1966.5,707.7 1967.5,707.5 1968.5,707.3 1969.5,707.1 1970.5,706.8 1971.5,706.6 1972.5,706.4 1973.5,706.3 1974.5,706.1 1975.5,705.9 1976.5,705.7 1977.5,705.5 1978.5,705.4 1979.5,705.2 1980.5,705.0 1981.5,704.8 1982.5,704.7 1983.5,704.5 1984.5,704.3 1985.5,704.2 1986.5,704.1 1987.5,704.0 1988.5,703.8 1989.5,703.7 1990.5,703.6 1991.5,703.5 1992.5,703.4 1993.5,703.3 1994.5,703.2 1995.5,703.1 1996.5,703.0 1997.5,702.9 1998.5,702.7 1999.5,702.6 2000.5,702.4 2001.5,702.2 2002.5,702.0 2003.5,701.7 2004.5,701.4 2005.5,700.9 2006.5,700.4 2007.5,699.7 2008.5,698.9 2009.5,698.0 2010.5,697.0 2011.5,695.8 2012.5,694.2 2013.5,692.2 2014.5,689.6 2015.5,686.5 2016.5,682.9 2017.5,678.9 2018.5,674.4 2019.5,669.3 2020.5,663.6 2021.5,657.9 2022.5,652.9 2023.5,648.9 2024.5,645.7 2025.5,643.3 2026.5,641.9 2027.5,641.7 2028.5,643.1 2029.5,645.8 2030.5,649.7 2031.5,655.1 2032.5,662.2 2033.5,671.6 2034.5,682.5 2035.5,694.0 2036.5,705.3 2037.5,716.4 2038.5,727.2 2039.5,737.0 2040.5,745.4 2041.5,752.3 2042.5,758.3 2043.5,763.5 2044.5,767.9 2045.5,771.3 2046.5,773.3 2047.5,773.7 2048.5,772.5 2049.5,770.1 2050.5,766.7 2051.5,762.8 2052.5,758.5 2053.5,753.5 2054.5,748.1 2055.5,742.4 2056.5,737.1 2057.5,732.6 2058.5,729.0 2059.5,726.0 2060.5,723.5 2061.5,721.3 2062.5,719.4 2063.5,717.9 2064.5,716.7 2065.5,715.7 2066.5,715.0 2067.5,714.3 2068.5,713.7 2069.5,713.2 2070.5,712.7 2071.5,712.2 2072.5,711.8 2073.5,711.5 2074.5,711.2 2075.5,710.9 2076.5,710.6 2077.5,710.4 2078.5,710.1 2079.5,709.9 2080.5,709.7 2081.5,709.5 2082.5,709.3 2083.5,709.1 2084.5,708.9 2085.5,708.7 2086.5,708.6 2087.5,708.4 2088.5,708.3 2089.5,708.1 2090.5,708.0 2091.5,707.9 2092.5,707.8 2093.5,707.7 2094.5,707.6 2095.5,707.5 2096.5,707.5 2097.5,707.4 2098.5,707.3 2099.5,707.3 2100.5,707.2 2101.5,707.2 2102.5,707.1 2103.5,707.0 2104.5,707.0 2105.5,706.9 2106.5,706.9 2107.5,706.8 2108.5,706.8 2109.5,706.8 2110.5,706.7 2111.5,706.7 2112.5,706.6 2113.5,706.6 2114.5,706.6 2115.5,706.6 2116.5,706.5 2117.5,706.5 2118.5,706.5 2119.5,706.5 2120.5,706.5 2121.5,706.5 2122.5,706.5 2123.5,706.5 2124.5,706.5 2125.5,706.5 2126.5,706.5 2127.5,706.5 2128.5,706.5 2129.5,706.5 2130.5,706.5 2131.5,706.5 2132.5,706.5 2133.5,706.5 2134.5,706.5 2135.5,706.5 2136.5,706.5 2137.5,706.5 2138.5,706.5 2139.5,706.5 2140.5,706.5 2141.5,706.5 2142.5,706.5 2143.5,706.5 2144.5,706.5 2145.5,706.5 2146.5,706.5 2147.5,706.5 2148.5,706.5 2149.5,706.5 2150.5,706.5 2151.5,706.5 2152.5,706.5 2153.5,706.5 2154.5,706.5 2155.5,706.5 2156.5,706.5 2157.5,706.5 2158.5,706.5 2159.5,706.5 2160.5,706.5 2161.5,706.5 2162.5,706.5 2163.5,706.5 2164.5,706.5 2165.5,706.5 2166.5,706.5 2167.5,706.5 2168.5,706.5 2169.5,706.5 2170.5,706.5 2171.5,706.5 2172.5,706.6 2173.5,706.6 2174.5,706.6 2175.5,706.6 2176.5,706.6 2177.5,706.6 2178.5,706.6 2179.5,706.6 2180.5,706.6 2181.5,706.6 2182.5,706.6 2183.5,706.6 2184.5,706.6 2185.5,706.6 2186.5,706.6 2187.5,706.6 2188.5,706.6 2189.5,706.6 2190.5,706.6 2191.5,706.6 2192.5,706.6 2193.5,706.6 2194.5,706.6 2195.5,706.6 2196.5,706.6 2197.5,706.6 2198.5,706.6 2199.5,706.6 2200.5,706.6 2201.5,706.6 2202.5,706.6 2203.5,706.6 2204.5,706.6 2205.5,706.6 2206.5,706.6 2207.5,706.6 2208.5,706.6 2209.5,706.6 2210.5,706.6 2211.5,706.6 2212.5,706.6 2213.5,706.6 2214.5,706.6 2215.5,706.6 2216.5,706.7 2217.5,706.7 2218.5,706.7 2219.5,706.7 2220.5,706.7 2221.5,706.7 2222.5,706.7 2223.5,706.7 2224.5,706.7 2225.5,706.7 2226.5,706.7 2227.5,706.7 2228.5,706.7 2229.5,706.7 2230.5,706.7 2231.5,706.7 2232.5,706.7 2233.5,706.7 2234.5,706.7 2235.5,706.7 2236.5,706.7 2237.5,706.7 2238.5,706.7 2239.5,706.7 2240.5,706.7 2241.5,706.7 2242.5,706.7 2243.5,706.7 2244.5,706.7 2245.5,706.7 2246.5,706.7 2247.5,706.7 2248.5,706.7 2249.5,706.7 2250.5,706.7 2251.5,706.8 2252.5,706.8 2253.5,706.8 2254.5,706.8 2255.5,706.8 2256.5,706.8 2257.5,706.8 2258.5,706.8 2259.5,706.8 2260.5,706.8 2261.5,706.8 2262.5,706.8 2263.5,706.8 2264.5,706.8 2265.5,706.8 2266.5,706.8 2267.5,706.8 2268.5,706.8 2269.5,706.8 2270.5,706.8 2271.5,706.8 2272.5,706.8 2273.5,706.8 2274.5,706.8 2275.5,706.8 2276.5,706.8 2277.5,706.8 2278.5,706.8 2279.5,706.8 2280.5,706.8 2281.5,706.8 2282.5,706.8 2283.5,706.8 2284.5,706.8 2285.5,706.8 2286.5,706.8 2287.5,706.9 2288.5,706.9 2289.5,706.9 2290.5,706.9 2291.5,706.9 2292.5,706.9 2293.5,706.9 2294.5,706.9 2295.5,706.9 2296.5,706.9 2297.5,706.9 2298.5,706.9 2299.5,706.9 2300.5,706.9 2301.5,706.9 2302.5,706.9 2303.5,706.9 2304.5,706.9 2305.5,706.9 2306.5,706.9 2307.5,706.9 2308.5,706.9 2309.5,706.9 2310.5,706.9 2311.5,706.9 2312.5,706.9 2313.5,706.9 2314.5,706.9 2315.5,706.9 2316.5,706.9 2317.5,706.9 2318.5,706.9 2319.5,706.9 2320.5,706.9 2321.5,706.9 2322.5,706.9 2323.5,706.9 2324.5,706.9 2325.5,706.9 2326.5,706.9 2327.5,706.9 2328.5,706.9 2329.5,706.9 2330.5,706.9 2331.5,707.0 2332.5,707.0 2333.5,707.0 2334.5,707.0 2335.5,707.0 2336.5,707.0 2337.5,707.0 2338.5,707.0 2339.5,707.0 2340.5,707.0 2341.5,707.0 2342.5,707.0 2343.5,707.0 2344.5,707.0 2345.5,707.0 2346.5,707.0 2347.5,707.0 2348.5,707.0 2349.5,707.0 2350.5,707.0 2351.5,707.0 2352.5,707.0 2353.5,707.0 2354.5,707.0 2355.5,707.0 2356.5,707.0 2357.5,707.0 2358.5,707.0 2359.5,707.0 2360.5,707.0 2361.5,707.0 2362.5,707.0 2363.5,707.0 2364.5,707.0 2365.5,707.0 2366.5,707.0 2367.5,707.0 2368.5,707.0 2369.5,707.0 2370.5,707.0 2371.5,707.0 2372.5,707.0 2373.5,707.0 2374.5,707.0 2375.5,707.0 2376.5,707.0 2377.5,707.0 2378.5,707.0 2379.5,707.0 2380.5,707.0 2381.5,707.0 2382.5,707.0 2383.5,707.0 2384.5,707.0 2385.5,707.0 2386.5,707.0 2387.5,707.0 2388.5,707.0 2389.5,707.0 2390.5,707.0 2391.5,707.0 2392.5,707.0 2393.5,707.0 2394.5,707.0 2395.5,707.0 2396.5,707.0 2397.5,707.0 2398.5,707.0 2399.5,707.0 2400.5,707.0 2401.5,707.0 2402.5,707.0 2403.5,707.0 2404.5,707.0 2405.5,707.0 2406.5,707.0 2407.5,707.0 2408.0,707.0" fill="none" stroke="#000000" stroke-width="2.8" stroke-linejoin="round" stroke-linecap="round"/>
<path d="M1361.50,807.50V792.00M1466.21,807.50V799.00M1570.92,807.50V792.00M1675.63,807.50V799.00M1780.34,807.50V792.00M1885.05,807.50V799.00M1989.76,807.50V792.00M2094.47,807.50V799.00M2199.18,807.50V792.00M2303.89,807.50V799.00M2408.60,807.50V792.00" fill="none" stroke="#000" stroke-width="2.7" stroke-linecap="butt"/>
<rect x="1361.50" y="30.70" width="1047.10" height="776.80" fill="none" stroke="#000" stroke-width="2.8"/></g>
<g><path d="M138.5,1257.9 139.5,1258.9 140.5,1259.6 141.5,1260.2 142.5,1259.5 143.5,1256.9 144.5,1254.9 145.5,1254.7 146.5,1254.4 147.5,1253.7 148.5,1254.1 149.5,1255.7 150.5,1257.8 151.5,1261.5 152.5,1267.6 153.5,1273.2 154.5,1275.5 155.5,1275.2 156.5,1275.2 157.5,1277.3 158.5,1281.6 159.5,1284.9 160.5,1284.8 161.5,1283.7 162.5,1285.1 163.5,1288.1 164.5,1290.6 165.5,1291.7 166.5,1292.1 167.5,1293.9 168.5,1296.8 169.5,1299.0 170.5,1299.9 171.5,1299.8 172.5,1299.0 173.5,1298.3 174.5,1297.9 175.5,1297.0 176.5,1297.0 177.5,1299.3 178.5,1301.8 179.5,1302.3 180.5,1300.6 181.5,1298.0 182.5,1296.3 183.5,1296.3 184.5,1295.7 185.5,1294.5 186.5,1295.0 187.5,1297.2 188.5,1299.4 189.5,1300.2 190.5,1299.7 191.5,1298.1 192.5,1296.2 193.5,1295.8 194.5,1297.2 195.5,1298.7 196.5,1299.3 197.5,1299.6 198.5,1300.1 199.5,1300.5 200.5,1299.8 201.5,1297.5 202.5,1294.9 203.5,1294.3 204.5,1296.3 205.5,1299.6 206.5,1302.0 207.5,1303.3 208.5,1304.9 209.5,1306.9 210.5,1307.8 211.5,1307.2 212.5,1305.6 213.5,1302.9 214.5,1300.2 215.5,1299.9 216.5,1302.8 217.5,1306.1 218.5,1307.1 219.5,1305.8 220.5,1303.9 221.5,1302.1 222.5,1301.2 223.5,1302.0 224.5,1303.1 225.5,1304.4 226.5,1305.9 227.5,1306.4 228.5,1306.3 229.5,1307.6 230.5,1311.3 231.5,1316.0 232.5,1319.0 233.5,1318.6 234.5,1317.2 235.5,1315.8 236.5,1312.7 237.5,1308.7 238.5,1306.5 239.5,1306.4 240.5,1307.3 241.5,1307.9 242.5,1308.2 243.5,1309.4 244.5,1310.3 245.5,1310.0 246.5,1309.2 247.5,1308.4 248.5,1307.8 249.5,1308.5 250.5,1310.0 251.5,1310.7 252.5,1310.9 253.5,1311.4 254.5,1311.9 255.5,1311.8 256.5,1311.3 257.5,1311.2 258.5,1311.5 259.5,1312.5 260.5,1314.0 261.5,1314.0 262.5,1312.3 263.5,1310.6 264.5,1309.6 265.5,1309.5 266.5,1310.3 267.5,1310.7 268.5,1310.3 269.5,1310.4 270.5,1311.8 271.5,1313.3 272.5,1313.7 273.5,1312.8 274.5,1311.4 275.5,1310.4 276.5,1310.9 277.5,1313.3 278.5,1315.8 279.5,1316.6 280.5,1316.2 281.5,1315.6 282.5,1314.9 283.5,1313.9 284.5,1313.3 285.5,1313.2 286.5,1313.5 287.5,1313.8 288.5,1313.3 289.5,1312.9 290.5,1313.0 291.5,1312.4 292.5,1311.5 293.5,1311.7 294.5,1313.4 295.5,1315.4 296.5,1316.6 297.5,1316.2 298.5,1314.6 299.5,1312.8 300.5,1312.5 301.5,1313.6 302.5,1315.2 303.5,1317.1 304.5,1318.6 305.5,1318.4 306.5,1316.5 307.5,1314.8 308.5,1314.1 309.5,1314.1 310.5,1313.8 311.5,1314.0 312.5,1315.3 313.5,1317.3 314.5,1318.3 315.5,1317.8 316.5,1316.6 317.5,1315.3 318.5,1314.6 319.5,1314.9 320.5,1315.1 321.5,1315.0 322.5,1316.3 323.5,1318.4 324.5,1319.3 325.5,1318.9 326.5,1318.4 327.5,1317.8 328.5,1316.5 329.5,1314.8 330.5,1314.0 331.5,1314.5 332.5,1314.5 333.5,1313.2 334.5,1311.8 335.5,1311.9 336.5,1313.2 337.5,1315.2 338.5,1317.7 339.5,1319.2 340.5,1318.4 341.5,1316.7 342.5,1314.9 343.5,1313.6 344.5,1313.1 345.5,1313.1 346.5,1312.8 347.5,1312.3 348.5,1311.9 349.5,1311.8 350.5,1312.7 351.5,1314.4 352.5,1315.9 353.5,1316.6 354.5,1316.6 355.5,1316.1 356.5,1315.3 357.5,1314.7 358.5,1314.7 359.5,1314.8 360.5,1314.9 361.5,1315.1 362.5,1314.4 363.5,1312.5 364.5,1311.2 365.5,1311.5 366.5,1312.3 367.5,1312.9 368.5,1313.3 369.5,1313.0 370.5,1312.1 371.5,1311.9 372.5,1312.3 373.5,1312.0 374.5,1311.5 375.5,1311.4 376.5,1310.3 377.5,1308.6 378.5,1307.7 379.5,1307.5 380.5,1307.3 381.5,1307.2 382.5,1307.5 383.5,1308.1 384.5,1309.2 385.5,1311.1 386.5,1312.1 387.5,1311.1 388.5,1308.3 389.5,1305.6 390.5,1304.3 391.5,1304.4 392.5,1305.1 393.5,1306.0 394.5,1306.8 395.5,1307.2 396.5,1307.2 397.5,1306.5 398.5,1304.4 399.5,1302.2 400.5,1302.1 401.5,1303.6 402.5,1304.5 403.5,1304.4 404.5,1304.1 405.5,1303.6 406.5,1302.7 407.5,1301.8 408.5,1301.8 409.5,1302.3 410.5,1302.0 411.5,1300.2 412.5,1297.6 413.5,1295.4 414.5,1293.6 415.5,1291.3 416.5,1288.9 417.5,1287.2 418.5,1286.9 419.5,1287.2 420.5,1285.5 421.5,1281.3 422.5,1277.7 423.5,1277.1 424.5,1277.7 425.5,1277.2 426.5,1274.5 427.5,1270.9 428.5,1268.8 429.5,1267.9 430.5,1267.0 431.5,1265.8 432.5,1264.3 433.5,1262.2 434.5,1260.4 435.5,1260.7 436.5,1262.2 437.5,1262.4 438.5,1260.5 439.5,1258.5 440.5,1257.0 441.5,1255.2 442.5,1253.5 443.5,1253.1 444.5,1253.7 445.5,1254.2 446.5,1255.8 447.5,1261.6 448.5,1269.7 449.5,1278.1 450.5,1286.6 451.5,1295.9 452.5,1304.7 453.5,1312.4 454.5,1319.4 455.5,1327.2 456.5,1337.5 457.5,1348.7 458.5,1358.2 459.5,1364.5 460.5,1368.8 461.5,1372.9 462.5,1374.7 463.5,1374.8 464.5,1373.4 465.5,1370.6 466.5,1366.5 467.5,1361.4 468.5,1355.6 469.5,1350.0 470.5,1345.2 471.5,1340.7 472.5,1335.9 473.5,1331.3 474.5,1327.5 475.5,1323.3 476.5,1320.6 477.5,1320.2 478.5,1319.6 479.5,1318.7 480.5,1318.3 481.5,1318.2 482.5,1318.0 483.5,1318.6 484.5,1319.9 485.5,1319.9 486.5,1318.5 487.5,1317.6 488.5,1317.3 489.5,1317.3 490.5,1317.1 491.5,1316.3 492.5,1314.9 493.5,1313.3 494.5,1312.0 495.5,1310.7 496.5,1308.7 497.5,1306.3 498.5,1304.7 499.5,1303.9 500.5,1302.9 501.5,1301.7 502.5,1300.0 503.5,1298.5 504.5,1298.8 505.5,1299.5 506.5,1298.7 507.5,1296.3 508.5,1292.7 509.5,1289.9 510.5,1289.9 511.5,1291.7 512.5,1293.1 513.5,1292.9 514.5,1292.2 515.5,1292.2 516.5,1291.7 517.5,1290.1 518.5,1289.4 519.5,1290.7 520.5,1292.9 521.5,1294.5 522.5,1294.6 523.5,1293.6 524.5,1293.3 525.5,1294.3 526.5,1295.1 527.5,1294.1 528.5,1292.9 529.5,1293.6 530.5,1294.8 531.5,1295.0 532.5,1293.6 533.5,1292.0 534.5,1291.5 535.5,1291.4 536.5,1291.2 537.5,1291.3 538.5,1291.8 539.5,1292.4 540.5,1292.7 541.5,1292.5 542.5,1292.5 543.5,1292.3 544.5,1291.6 545.5,1291.1 546.5,1291.2 547.5,1291.0 548.5,1290.7 549.5,1291.3 550.5,1292.4 551.5,1292.8 552.5,1292.7 553.5,1292.7 554.5,1292.9 555.5,1293.3 556.5,1293.4 557.5,1293.0 558.5,1292.6 559.5,1293.3 560.5,1295.2 561.5,1296.9 562.5,1296.3 563.5,1294.5 564.5,1293.1 565.5,1292.1 566.5,1290.6 567.5,1288.8 568.5,1286.1 569.5,1282.6 570.5,1279.5 571.5,1277.7 572.5,1276.9 573.5,1276.8 574.5,1277.2 575.5,1276.8 576.5,1275.3 577.5,1274.0 578.5,1272.9 579.5,1271.0 580.5,1268.4 581.5,1265.4 582.5,1262.1 583.5,1259.0 584.5,1256.1 585.5,1252.2 586.5,1246.7 587.5,1240.8 588.5,1235.9 589.5,1232.3 590.5,1229.3 591.5,1226.0 592.5,1222.0 593.5,1218.2 594.5,1214.1 595.5,1209.3 596.5,1205.2 597.5,1203.1 598.5,1202.4 599.5,1203.3 600.5,1206.6 601.5,1211.2 602.5,1216.0 603.5,1221.7 604.5,1229.7 605.5,1239.8 606.5,1250.3 607.5,1261.1 608.5,1273.9 609.5,1287.7 610.5,1301.2 611.5,1314.3 612.5,1326.7 613.5,1336.2 614.5,1343.2 615.5,1349.7 616.5,1356.9 617.5,1362.2 618.5,1364.0 619.5,1362.0 620.5,1358.3 621.5,1354.1 622.5,1349.4 623.5,1342.8 624.5,1335.6 625.5,1329.9 626.5,1326.5 627.5,1324.4 628.5,1321.8 629.5,1318.1 630.5,1314.6 631.5,1312.8 632.5,1312.6 633.5,1311.7 634.5,1308.7 635.5,1305.6 636.5,1303.9 637.5,1302.3 638.5,1300.9 639.5,1300.4 640.5,1300.3 641.5,1300.0 642.5,1299.2 643.5,1298.0 644.5,1296.6 645.5,1294.9 646.5,1293.5 647.5,1293.0 648.5,1292.6 649.5,1291.8 650.5,1291.3 651.5,1291.1 652.5,1290.9 653.5,1289.6 654.5,1287.2 655.5,1285.1 656.5,1284.1 657.5,1283.6 658.5,1283.9 659.5,1285.7 660.5,1287.9 661.5,1288.9 662.5,1289.0 663.5,1288.9 664.5,1288.6 665.5,1288.4 666.5,1288.6 667.5,1289.6 668.5,1289.7 669.5,1287.7 670.5,1285.1 671.5,1284.1 672.5,1285.3 673.5,1287.3 674.5,1288.6 675.5,1288.5 676.5,1287.6 677.5,1286.5 678.5,1285.5 679.5,1285.1 680.5,1285.7 681.5,1286.5 682.5,1286.7 683.5,1286.3 684.5,1284.8 685.5,1282.7 686.5,1282.0 687.5,1282.7 688.5,1282.5 689.5,1281.0 690.5,1280.1 691.5,1280.9 692.5,1282.1 693.5,1282.2 694.5,1281.0 695.5,1279.2 696.5,1278.0 697.5,1278.8 698.5,1280.9 699.5,1282.3 700.5,1282.7 701.5,1282.9 702.5,1283.4 703.5,1284.1 704.5,1283.7 705.5,1281.7 706.5,1279.7 707.5,1279.0 708.5,1279.5 709.5,1279.8 710.5,1279.2 711.5,1278.4 712.5,1278.6 713.5,1279.6 714.5,1280.3 715.5,1279.7 716.5,1278.7 717.5,1278.5 718.5,1279.2 719.5,1279.8 720.5,1280.0 721.5,1279.8 722.5,1279.4 723.5,1279.0 724.5,1278.0 725.5,1277.0 726.5,1277.4 727.5,1278.1 728.5,1277.5 729.5,1275.8 730.5,1273.3 731.5,1270.6 732.5,1268.4 733.5,1267.1 734.5,1266.6 735.5,1266.4 736.5,1265.6 737.5,1264.2 738.5,1262.6 739.5,1261.4 740.5,1260.2 741.5,1258.3 742.5,1255.3 743.5,1251.4 744.5,1246.8 745.5,1242.1 746.5,1237.6 747.5,1232.7 748.5,1227.0 749.5,1218.2 750.5,1208.5 751.5,1201.7 752.5,1198.7 753.5,1197.9 754.5,1198.5 755.5,1199.2 756.5,1200.9 757.5,1204.5 758.5,1208.4 759.5,1214.0 760.5,1222.0 761.5,1232.1 762.5,1243.3 763.5,1257.0 764.5,1271.2 765.5,1284.6 766.5,1296.4 767.5,1307.6 768.5,1317.4 769.5,1324.1 770.5,1328.4 771.5,1332.9 772.5,1337.1 773.5,1338.8 774.5,1338.7 775.5,1338.5 776.5,1337.6 777.5,1335.6 778.5,1333.3 779.5,1331.7 780.5,1329.9 781.5,1326.3 782.5,1321.4 783.5,1317.4 784.5,1314.0 785.5,1311.1 786.5,1309.7 787.5,1308.6 788.5,1305.8 789.5,1302.3 790.5,1298.5 791.5,1295.4 792.5,1294.7 793.5,1296.0 794.5,1296.7 795.5,1295.3 796.5,1292.4 797.5,1289.8 798.5,1287.5 799.5,1285.6 800.5,1285.2 801.5,1286.8 802.5,1288.1 803.5,1287.4 804.5,1285.6 805.5,1284.0 806.5,1282.1 807.5,1280.6 808.5,1280.4 809.5,1281.1 810.5,1281.7 811.5,1280.7 812.5,1278.1 813.5,1275.1 814.5,1273.3 815.5,1273.7 816.5,1274.6 817.5,1274.7 818.5,1274.7 819.5,1275.1 820.5,1274.8 821.5,1273.5 822.5,1272.1 823.5,1271.5 824.5,1271.2 825.5,1270.2 826.5,1269.3 827.5,1270.2 828.5,1271.6 829.5,1271.5 830.5,1269.4 831.5,1267.1 832.5,1266.9 833.5,1267.9 834.5,1268.1 835.5,1268.3 836.5,1269.7 837.5,1270.9 838.5,1270.5 839.5,1269.0 840.5,1267.4 841.5,1265.9 842.5,1265.3 843.5,1266.0 844.5,1267.7 845.5,1268.9 846.5,1267.6 847.5,1264.7 848.5,1263.5 849.5,1264.2 850.5,1265.8 851.5,1267.1 852.5,1268.1 853.5,1268.2 854.5,1267.8 855.5,1268.1 856.5,1269.2 857.5,1270.1 858.5,1269.9 859.5,1268.7 860.5,1267.4 861.5,1266.3 862.5,1264.3 863.5,1262.2 864.5,1261.6 865.5,1263.2 866.5,1265.4 867.5,1266.3 868.5,1265.9 869.5,1265.9 870.5,1267.3 871.5,1269.0 872.5,1269.6 873.5,1269.5 874.5,1270.0 875.5,1270.0 876.5,1269.0 877.5,1268.1 878.5,1267.4 879.5,1266.3 880.5,1265.6 881.5,1265.9 882.5,1267.0 883.5,1267.8 884.5,1267.8 885.5,1267.6 886.5,1267.0 887.5,1265.3 888.5,1263.4 889.5,1263.0 890.5,1264.1 891.5,1265.7 892.5,1267.2 893.5,1268.0 894.5,1267.5 895.5,1265.8 896.5,1263.8 897.5,1263.0 898.5,1264.0 899.5,1265.4 900.5,1265.7 901.5,1266.0 902.5,1266.4 903.5,1265.6 904.5,1264.1 905.5,1262.9 906.5,1262.3 907.5,1263.6 908.5,1266.8 909.5,1269.2 910.5,1268.3 911.5,1265.9 912.5,1265.6 913.5,1267.5 914.5,1269.1 915.5,1269.6 916.5,1269.6 917.5,1269.7 918.5,1270.0 919.5,1270.1 920.5,1270.0 921.5,1269.0 922.5,1267.2 923.5,1265.3 924.5,1263.9 925.5,1264.0 926.5,1265.4 927.5,1267.0 928.5,1268.8 929.5,1269.9 930.5,1269.4 931.5,1268.3 932.5,1267.5 933.5,1266.9 934.5,1266.1 935.5,1265.2 936.5,1263.6 937.5,1261.5 938.5,1260.1 939.5,1260.4 940.5,1261.6 941.5,1263.1 942.5,1264.7 943.5,1265.8 944.5,1266.6 945.5,1267.6 946.5,1267.5 947.5,1266.1 948.5,1265.1 949.5,1265.1 950.5,1265.5 951.5,1265.5 952.5,1265.4 953.5,1265.3 954.5,1265.0 955.5,1264.5 956.5,1264.1 957.5,1264.6 958.5,1265.7 959.5,1266.6 960.5,1266.8 961.5,1266.7 962.5,1267.9 963.5,1269.7 964.5,1270.5 965.5,1270.3 966.5,1269.9 967.5,1269.6 968.5,1269.9 969.5,1270.4 970.5,1269.7 971.5,1268.2 972.5,1267.9 973.5,1268.8 974.5,1268.8 975.5,1268.3 976.5,1269.2 977.5,1271.0 978.5,1272.1 979.5,1272.0 980.5,1270.4 981.5,1268.6 982.5,1268.8 983.5,1270.6 984.5,1271.8 985.5,1271.6 986.5,1270.8 987.5,1270.9 988.5,1271.2 989.5,1269.8 990.5,1267.9 991.5,1266.9 992.5,1265.9 993.5,1265.6 994.5,1267.8 995.5,1270.5 996.5,1271.3 997.5,1270.3 998.5,1268.9 999.5,1268.2 1000.5,1268.5 1001.5,1268.5 1002.5,1268.3 1003.5,1268.8 1004.5,1269.4 1005.5,1270.5 1006.5,1273.1 1007.5,1275.4 1008.5,1275.7 1009.5,1274.5 1010.5,1273.0 1011.5,1273.1 1012.5,1275.3 1013.5,1276.9 1014.5,1275.6 1015.5,1273.4 1016.5,1272.8 1017.5,1273.4 1018.5,1273.9 1019.5,1274.4 1020.5,1275.3 1021.5,1275.6 1022.5,1275.0 1023.5,1274.3 1024.5,1274.5 1025.5,1275.7 1026.5,1277.5 1027.5,1279.4 1028.5,1280.2 1029.5,1279.7 1030.5,1278.9 1031.5,1278.8 1032.5,1279.8 1033.5,1280.7 1034.5,1279.8 1035.5,1278.2 1036.5,1278.5 1037.5,1279.8 1038.5,1279.8 1039.5,1278.9 1040.5,1278.3 1041.5,1278.5 1042.5,1280.1 1043.5,1282.3 1044.5,1283.7 1045.5,1284.2 1046.5,1284.2 1047.5,1283.8 1048.5,1283.1 1049.5,1282.7 1050.5,1282.8 1051.5,1283.1 1052.5,1283.7 1053.5,1284.9 1054.5,1285.8 1055.5,1285.4 1056.5,1283.9 1057.5,1282.4 1058.5,1281.9 1059.5,1282.7 1060.5,1284.5 1061.5,1286.1 1062.5,1286.4 1063.5,1286.0 1064.5,1286.3 1065.5,1287.2 1066.5,1287.1 1067.5,1286.7 1068.5,1287.3 1069.5,1288.2 1070.5,1288.6 1071.5,1288.6 1072.5,1288.9 1073.5,1289.1 1074.5,1289.4 1075.5,1290.3 1076.5,1291.1 1077.5,1291.1 1078.5,1290.4 1079.5,1289.3 1080.5,1289.3 1081.5,1290.8 1082.5,1292.9 1083.5,1294.7 1084.5,1295.3 1085.5,1294.3 1086.5,1293.7 1087.5,1295.5 1088.5,1298.4 1089.5,1300.2 1090.5,1300.7 1091.5,1301.1 1092.5,1302.4 1093.5,1304.4 1094.5,1305.9 1095.5,1306.1 1096.5,1305.1 1097.5,1303.8 1098.5,1303.5 1099.5,1304.2 1100.5,1304.9 1101.5,1305.0 1102.5,1305.0 1103.5,1305.6 1104.5,1307.1 1105.5,1308.1 1106.5,1308.8 1107.5,1310.4 1108.5,1312.1 1109.5,1312.1 1110.5,1311.0 1111.5,1310.7 1112.5,1311.2 1113.5,1311.8 1114.5,1312.8 1115.5,1314.1 1116.5,1315.0 1117.5,1315.5 1118.5,1316.2 1119.5,1316.8 1120.5,1316.6 1121.5,1316.1 1122.5,1316.1 1123.5,1316.8 1124.5,1317.3 1125.5,1316.9 1126.5,1316.4 1127.5,1315.8 1128.5,1315.0 1129.5,1315.0 1130.5,1315.7 1131.5,1315.3 1132.5,1314.7 1133.5,1315.4 1134.5,1317.1 1135.5,1318.8 1136.5,1319.9 1137.5,1320.6 1138.5,1321.1 1139.5,1321.9 1140.5,1322.2 1141.5,1321.2 1142.5,1319.7 1143.5,1319.6 1144.5,1320.3 1145.5,1320.8 1146.5,1322.2 1147.5,1323.9 1148.5,1324.1 1149.5,1323.8 1150.5,1325.0 1151.5,1326.3 1152.5,1326.7 1153.5,1326.7 1154.5,1326.4 1155.5,1325.9 1156.5,1325.8 1157.5,1325.7 1158.5,1325.1 1159.5,1325.1 1160.5,1326.1 1161.5,1327.3 1162.5,1327.3 1163.5,1326.4 1164.5,1325.6 1165.5,1324.4 1166.5,1322.7 1167.5,1322.5 1168.5,1324.4 1169.5,1326.8 1170.5,1329.1 1171.5,1330.6 1172.5,1331.4 1173.5,1331.9 1174.5,1332.9 1175.5,1334.3 1176.5,1335.7 1177.5,1336.0 1178.5,1335.0 1179.0,1334.0" fill="none" stroke="#00ff00" stroke-width="3.3" stroke-linejoin="round" stroke-linecap="round"/>
<path d="M138.5,1439.1 139.5,1442.3 140.5,1444.1 141.5,1444.3 142.5,1443.1 143.5,1440.9 144.5,1438.3 145.5,1436.0 146.5,1435.1 147.5,1436.3 148.5,1438.3 149.5,1440.1 150.5,1442.3 151.5,1444.3 152.5,1445.2 153.5,1444.9 154.5,1444.4 155.5,1444.0 156.5,1443.9 157.5,1444.5 158.5,1445.6 159.5,1447.7 160.5,1450.5 161.5,1453.2 162.5,1454.9 163.5,1455.2 164.5,1455.0 165.5,1455.4 166.5,1455.7 167.5,1455.7 168.5,1456.2 169.5,1456.6 170.5,1455.7 171.5,1453.7 172.5,1451.7 173.5,1450.3 174.5,1450.1 175.5,1450.8 176.5,1450.9 177.5,1450.5 178.5,1450.6 179.5,1451.0 180.5,1451.4 181.5,1452.4 182.5,1454.3 183.5,1457.2 184.5,1459.6 185.5,1461.0 186.5,1460.3 187.5,1457.8 188.5,1454.5 189.5,1452.1 190.5,1451.1 191.5,1451.3 192.5,1451.4 193.5,1452.0 194.5,1452.8 195.5,1452.7 196.5,1451.4 197.5,1450.3 198.5,1450.0 199.5,1450.9 200.5,1452.3 201.5,1453.0 202.5,1452.5 203.5,1452.1 204.5,1452.4 205.5,1452.4 206.5,1451.1 207.5,1449.3 208.5,1448.6 209.5,1449.0 210.5,1449.4 211.5,1449.7 212.5,1450.2 213.5,1449.8 214.5,1449.0 215.5,1449.3 216.5,1450.2 217.5,1450.2 218.5,1449.5 219.5,1450.2 220.5,1451.7 221.5,1451.7 222.5,1449.4 223.5,1447.6 224.5,1449.1 225.5,1452.8 226.5,1455.9 227.5,1456.8 228.5,1455.7 229.5,1454.5 230.5,1453.9 231.5,1453.3 232.5,1452.6 233.5,1452.2 234.5,1451.0 235.5,1448.9 236.5,1447.1 237.5,1446.4 238.5,1445.7 239.5,1444.8 240.5,1444.9 241.5,1446.3 242.5,1447.8 243.5,1448.1 244.5,1447.7 245.5,1446.5 246.5,1444.8 247.5,1444.7 248.5,1446.2 249.5,1447.9 250.5,1449.2 251.5,1449.7 252.5,1449.2 253.5,1448.4 254.5,1448.3 255.5,1449.8 256.5,1451.6 257.5,1452.3 258.5,1452.4 259.5,1452.2 260.5,1451.8 261.5,1451.8 262.5,1451.6 263.5,1450.4 264.5,1448.3 265.5,1446.6 266.5,1446.5 267.5,1447.6 268.5,1448.6 269.5,1448.7 270.5,1448.6 271.5,1449.1 272.5,1449.8 273.5,1449.9 274.5,1449.3 275.5,1448.3 276.5,1448.4 277.5,1449.3 278.5,1449.4 279.5,1448.5 280.5,1448.3 281.5,1449.1 282.5,1450.2 283.5,1450.3 284.5,1449.9 285.5,1449.6 286.5,1449.5 287.5,1449.5 288.5,1449.6 289.5,1449.6 290.5,1449.7 291.5,1449.6 292.5,1448.8 293.5,1446.8 294.5,1443.8 295.5,1441.4 296.5,1441.0 297.5,1442.0 298.5,1443.1 299.5,1443.7 300.5,1443.4 301.5,1442.4 302.5,1441.3 303.5,1441.2 304.5,1441.3 305.5,1440.4 306.5,1439.1 307.5,1439.2 308.5,1441.0 309.5,1442.6 310.5,1441.9 311.5,1440.4 312.5,1440.4 313.5,1441.6 314.5,1442.5 315.5,1442.7 316.5,1442.9 317.5,1443.1 318.5,1442.7 319.5,1442.8 320.5,1444.7 321.5,1447.9 322.5,1450.5 323.5,1451.0 324.5,1450.0 325.5,1449.0 326.5,1447.8 327.5,1446.1 328.5,1445.6 329.5,1446.7 330.5,1447.0 331.5,1445.7 332.5,1444.7 333.5,1445.1 334.5,1445.8 335.5,1445.8 336.5,1445.9 337.5,1446.4 338.5,1447.2 339.5,1447.4 340.5,1447.2 341.5,1446.9 342.5,1446.0 343.5,1445.2 344.5,1445.0 345.5,1445.0 346.5,1445.4 347.5,1447.1 348.5,1449.4 349.5,1451.8 350.5,1453.8 351.5,1454.3 352.5,1453.5 353.5,1452.8 354.5,1451.7 355.5,1449.0 356.5,1445.9 357.5,1443.6 358.5,1442.3 359.5,1442.2 360.5,1443.3 361.5,1444.5 362.5,1445.6 363.5,1446.2 364.5,1446.5 365.5,1446.9 366.5,1447.5 367.5,1447.9 368.5,1448.5 369.5,1449.3 370.5,1449.9 371.5,1450.3 372.5,1449.9 373.5,1447.9 374.5,1444.9 375.5,1443.0 376.5,1442.8 377.5,1443.0 378.5,1442.3 379.5,1441.0 380.5,1440.9 381.5,1442.6 382.5,1444.8 383.5,1445.5 384.5,1445.0 385.5,1444.8 386.5,1445.4 387.5,1446.4 388.5,1446.4 389.5,1445.6 390.5,1445.4 391.5,1445.9 392.5,1445.9 393.5,1444.9 394.5,1444.4 395.5,1444.5 396.5,1444.4 397.5,1443.4 398.5,1441.7 399.5,1440.2 400.5,1440.0 401.5,1441.0 402.5,1441.2 403.5,1440.2 404.5,1440.2 405.5,1440.6 406.5,1439.9 407.5,1438.9 408.5,1438.7 409.5,1438.6 410.5,1438.0 411.5,1436.6 412.5,1435.1 413.5,1434.5 414.5,1434.2 415.5,1433.4 416.5,1432.0 417.5,1430.5 418.5,1429.2 419.5,1427.3 420.5,1424.8 421.5,1422.5 422.5,1420.8 423.5,1419.8 424.5,1419.1 425.5,1418.1 426.5,1417.1 427.5,1416.0 428.5,1415.0 429.5,1414.1 430.5,1412.8 431.5,1411.6 432.5,1411.6 433.5,1412.3 434.5,1412.8 435.5,1414.0 436.5,1415.8 437.5,1418.1 438.5,1420.5 439.5,1423.9 440.5,1428.9 441.5,1435.2 442.5,1442.0 443.5,1447.8 444.5,1452.8 445.5,1458.1 446.5,1463.4 447.5,1467.1 448.5,1468.8 449.5,1470.4 450.5,1473.1 451.5,1475.8 452.5,1477.8 453.5,1479.4 454.5,1480.7 455.5,1481.7 456.5,1482.4 457.5,1481.8 458.5,1479.4 459.5,1476.3 460.5,1474.5 461.5,1475.0 462.5,1476.2 463.5,1475.5 464.5,1472.4 465.5,1469.1 466.5,1467.0 467.5,1464.6 468.5,1462.1 469.5,1459.7 470.5,1458.1 471.5,1458.5 472.5,1459.8 473.5,1460.8 474.5,1461.0 475.5,1460.5 476.5,1459.3 477.5,1457.9 478.5,1457.4 479.5,1458.2 480.5,1459.2 481.5,1459.6 482.5,1459.5 483.5,1459.1 484.5,1457.5 485.5,1454.4 486.5,1450.4 487.5,1446.6 488.5,1444.9 489.5,1446.0 490.5,1447.3 491.5,1447.1 492.5,1446.7 493.5,1447.7 494.5,1449.3 495.5,1449.7 496.5,1448.8 497.5,1448.3 498.5,1448.8 499.5,1449.2 500.5,1448.4 501.5,1446.9 502.5,1445.9 503.5,1445.6 504.5,1446.2 505.5,1447.0 506.5,1447.6 507.5,1448.6 508.5,1449.7 509.5,1449.9 510.5,1449.2 511.5,1447.5 512.5,1444.7 513.5,1441.9 514.5,1439.5 515.5,1438.6 516.5,1439.9 517.5,1442.9 518.5,1445.4 519.5,1446.4 520.5,1446.8 521.5,1447.2 522.5,1447.5 523.5,1448.1 524.5,1448.5 525.5,1447.2 526.5,1445.7 527.5,1446.1 528.5,1447.3 529.5,1447.8 530.5,1448.1 531.5,1449.2 532.5,1450.7 533.5,1451.4 534.5,1451.4 535.5,1451.1 536.5,1450.9 537.5,1450.5 538.5,1450.6 539.5,1451.1 540.5,1450.7 541.5,1449.5 542.5,1448.1 543.5,1446.1 544.5,1444.3 545.5,1443.1 546.5,1442.0 547.5,1440.5 548.5,1439.7 549.5,1440.4 550.5,1441.9 551.5,1442.6 552.5,1442.2 553.5,1441.3 554.5,1440.1 555.5,1439.2 556.5,1438.7 557.5,1438.2 558.5,1438.4 559.5,1440.3 560.5,1443.0 561.5,1444.4 562.5,1443.8 563.5,1442.1 564.5,1440.8 565.5,1440.7 566.5,1440.4 567.5,1439.1 568.5,1438.4 569.5,1439.2 570.5,1440.1 571.5,1439.6 572.5,1438.4 573.5,1437.6 574.5,1437.3 575.5,1437.3 576.5,1437.2 577.5,1436.5 578.5,1435.3 579.5,1433.6 580.5,1431.6 581.5,1430.0 582.5,1428.8 583.5,1427.0 584.5,1424.6 585.5,1422.7 586.5,1421.8 587.5,1420.5 588.5,1417.2 589.5,1413.0 590.5,1411.1 591.5,1411.1 592.5,1409.6 593.5,1406.7 594.5,1404.3 595.5,1403.1 596.5,1403.9 597.5,1406.3 598.5,1408.8 599.5,1410.1 600.5,1410.1 601.5,1409.8 602.5,1411.0 603.5,1415.6 604.5,1422.4 605.5,1430.0 606.5,1437.4 607.5,1445.2 608.5,1452.1 609.5,1457.6 610.5,1461.8 611.5,1464.2 612.5,1466.0 613.5,1468.7 614.5,1471.4 615.5,1472.9 616.5,1474.3 617.5,1476.5 618.5,1477.9 619.5,1477.9 620.5,1477.7 621.5,1478.8 622.5,1480.1 623.5,1479.6 624.5,1477.0 625.5,1474.1 626.5,1472.7 627.5,1472.6 628.5,1471.4 629.5,1468.3 630.5,1464.6 631.5,1461.8 632.5,1460.5 633.5,1460.2 634.5,1460.6 635.5,1460.0 636.5,1458.1 637.5,1457.2 638.5,1458.7 639.5,1461.1 640.5,1461.8 641.5,1461.4 642.5,1461.6 643.5,1461.3 644.5,1459.1 645.5,1456.4 646.5,1454.9 647.5,1455.1 648.5,1456.2 649.5,1456.9 650.5,1456.1 651.5,1454.0 652.5,1451.5 653.5,1450.3 654.5,1451.1 655.5,1452.6 656.5,1452.9 657.5,1451.9 658.5,1450.7 659.5,1450.0 660.5,1450.6 661.5,1452.6 662.5,1454.4 663.5,1454.8 664.5,1454.1 665.5,1454.1 666.5,1455.8 667.5,1457.4 668.5,1457.8 669.5,1457.3 670.5,1456.4 671.5,1455.5 672.5,1455.7 673.5,1457.2 674.5,1458.2 675.5,1456.7 676.5,1454.3 677.5,1454.2 678.5,1455.9 679.5,1456.5 680.5,1455.0 681.5,1453.0 682.5,1452.4 683.5,1453.3 684.5,1454.9 685.5,1456.5 686.5,1457.3 687.5,1456.8 688.5,1455.5 689.5,1453.7 690.5,1451.8 691.5,1451.5 692.5,1453.3 693.5,1455.2 694.5,1455.3 695.5,1453.2 696.5,1450.7 697.5,1450.0 698.5,1451.0 699.5,1452.3 700.5,1453.2 701.5,1454.0 702.5,1454.3 703.5,1453.4 704.5,1452.0 705.5,1450.9 706.5,1450.4 707.5,1450.3 708.5,1450.3 709.5,1450.6 710.5,1451.4 711.5,1452.1 712.5,1451.8 713.5,1450.9 714.5,1450.0 715.5,1450.2 716.5,1451.4 717.5,1451.3 718.5,1449.7 719.5,1448.2 720.5,1448.4 721.5,1450.1 722.5,1451.0 723.5,1449.3 724.5,1446.2 725.5,1445.4 726.5,1447.7 727.5,1450.2 728.5,1451.0 729.5,1450.4 730.5,1449.5 731.5,1449.3 732.5,1449.6 733.5,1449.6 734.5,1449.5 735.5,1449.1 736.5,1448.1 737.5,1447.7 738.5,1447.9 739.5,1447.4 740.5,1445.3 741.5,1442.2 742.5,1439.3 743.5,1437.4 744.5,1435.4 745.5,1433.2 746.5,1431.8 747.5,1431.8 748.5,1432.7 749.5,1433.0 750.5,1431.8 751.5,1430.8 752.5,1430.5 753.5,1430.0 754.5,1426.8 755.5,1422.1 756.5,1418.4 757.5,1417.7 758.5,1417.7 759.5,1417.9 760.5,1418.5 761.5,1419.3 762.5,1420.0 763.5,1420.6 764.5,1422.0 765.5,1424.9 766.5,1429.3 767.5,1434.3 768.5,1438.8 769.5,1442.4 770.5,1446.1 771.5,1451.9 772.5,1460.0 773.5,1467.3 774.5,1471.4 775.5,1473.0 776.5,1474.1 777.5,1475.2 778.5,1477.5 779.5,1482.0 780.5,1486.3 781.5,1489.7 782.5,1492.6 783.5,1491.9 784.5,1488.7 785.5,1486.7 786.5,1486.6 787.5,1484.2 788.5,1481.4 789.5,1480.2 790.5,1479.3 791.5,1477.9 792.5,1475.9 793.5,1473.6 794.5,1470.3 795.5,1467.2 796.5,1465.4 797.5,1464.3 798.5,1462.3 799.5,1459.9 800.5,1458.5 801.5,1457.9 802.5,1457.4 803.5,1457.5 804.5,1458.0 805.5,1458.0 806.5,1457.9 807.5,1458.4 808.5,1458.3 809.5,1457.1 810.5,1455.5 811.5,1454.6 812.5,1454.8 813.5,1454.3 814.5,1452.9 815.5,1452.8 816.5,1454.1 817.5,1454.6 818.5,1453.7 819.5,1453.8 820.5,1455.6 821.5,1456.4 822.5,1455.0 823.5,1453.5 824.5,1452.8 825.5,1452.3 826.5,1452.1 827.5,1452.0 828.5,1452.0 829.5,1452.6 830.5,1452.8 831.5,1451.6 832.5,1450.0 833.5,1449.8 834.5,1451.0 835.5,1452.2 836.5,1453.0 837.5,1453.8 838.5,1453.7 839.5,1451.8 840.5,1450.4 841.5,1450.9 842.5,1452.3 843.5,1453.8 844.5,1454.6 845.5,1454.3 846.5,1453.9 847.5,1454.1 848.5,1454.4 849.5,1454.4 850.5,1454.8 851.5,1455.3 852.5,1455.1 853.5,1454.7 854.5,1454.1 855.5,1452.9 856.5,1451.4 857.5,1449.9 858.5,1448.3 859.5,1446.9 860.5,1446.2 861.5,1446.9 862.5,1449.0 863.5,1450.5 864.5,1451.1 865.5,1452.0 866.5,1452.7 867.5,1451.7 868.5,1450.1 869.5,1450.1 870.5,1451.3 871.5,1451.7 872.5,1452.0 873.5,1453.6 874.5,1455.0 875.5,1455.5 876.5,1455.1 877.5,1454.2 878.5,1452.4 879.5,1450.7 880.5,1449.6 881.5,1448.4 882.5,1447.1 883.5,1446.0 884.5,1445.0 885.5,1444.1 886.5,1444.1 887.5,1444.9 888.5,1446.3 889.5,1448.3 890.5,1451.0 891.5,1453.1 892.5,1453.4 893.5,1452.7 894.5,1452.4 895.5,1452.7 896.5,1453.3 897.5,1454.5 898.5,1455.8 899.5,1456.2 900.5,1455.5 901.5,1454.0 902.5,1451.6 903.5,1449.6 904.5,1449.9 905.5,1452.0 906.5,1453.2 907.5,1452.3 908.5,1450.9 909.5,1450.0 910.5,1449.3 911.5,1449.1 912.5,1449.9 913.5,1449.9 914.5,1448.2 915.5,1446.7 916.5,1447.2 917.5,1448.5 918.5,1448.4 919.5,1446.5 920.5,1445.4 921.5,1446.4 922.5,1447.8 923.5,1448.2 924.5,1448.3 925.5,1448.5 926.5,1447.8 927.5,1446.7 928.5,1446.9 929.5,1447.9 930.5,1447.7 931.5,1445.6 932.5,1443.7 933.5,1443.3 934.5,1444.3 935.5,1446.1 936.5,1447.4 937.5,1447.4 938.5,1447.0 939.5,1447.0 940.5,1447.4 941.5,1447.7 942.5,1448.8 943.5,1450.4 944.5,1450.7 945.5,1449.7 946.5,1449.6 947.5,1451.3 948.5,1452.3 949.5,1451.2 950.5,1449.9 951.5,1449.7 952.5,1449.7 953.5,1450.1 954.5,1451.6 955.5,1453.4 956.5,1454.0 957.5,1453.3 958.5,1451.9 959.5,1450.8 960.5,1450.4 961.5,1449.8 962.5,1448.7 963.5,1447.5 964.5,1447.2 965.5,1448.8 966.5,1451.7 967.5,1453.8 968.5,1454.5 969.5,1454.4 970.5,1454.2 971.5,1453.8 972.5,1453.2 973.5,1452.1 974.5,1451.3 975.5,1450.9 976.5,1450.7 977.5,1449.9 978.5,1448.0 979.5,1446.0 980.5,1445.5 981.5,1446.4 982.5,1447.1 983.5,1446.6 984.5,1445.7 985.5,1445.9 986.5,1446.2 987.5,1445.9 988.5,1445.8 989.5,1446.1 990.5,1446.1 991.5,1445.0 992.5,1444.0 993.5,1444.8 994.5,1446.1 995.5,1445.7 996.5,1443.9 997.5,1442.8 998.5,1443.4 999.5,1445.3 1000.5,1446.6 1001.5,1446.5 1002.5,1445.8 1003.5,1445.3 1004.5,1445.3 1005.5,1445.2 1006.5,1444.6 1007.5,1443.3 1008.5,1442.0 1009.5,1441.1 1010.5,1441.0 1011.5,1442.6 1012.5,1445.5 1013.5,1447.7 1014.5,1448.2 1015.5,1447.8 1016.5,1446.8 1017.5,1445.4 1018.5,1443.9 1019.5,1443.0 1020.5,1442.8 1021.5,1443.5 1022.5,1444.6 1023.5,1445.6 1024.5,1447.0 1025.5,1448.6 1026.5,1448.8 1027.5,1447.2 1028.5,1446.0 1029.5,1446.3 1030.5,1446.7 1031.5,1446.7 1032.5,1447.2 1033.5,1447.8 1034.5,1448.3 1035.5,1448.8 1036.5,1448.7 1037.5,1448.5 1038.5,1448.2 1039.5,1448.0 1040.5,1447.9 1041.5,1447.6 1042.5,1448.1 1043.5,1449.9 1044.5,1450.0 1045.5,1446.3 1046.5,1441.2 1047.5,1438.9 1048.5,1439.3 1049.5,1440.0 1050.5,1440.0 1051.5,1440.0 1052.5,1440.4 1053.5,1440.8 1054.5,1440.1 1055.5,1438.5 1056.5,1437.4 1057.5,1437.6 1058.5,1438.6 1059.5,1439.2 1060.5,1438.4 1061.5,1437.2 1062.5,1437.3 1063.5,1438.9 1064.5,1441.2 1065.5,1443.1 1066.5,1443.7 1067.5,1443.4 1068.5,1443.1 1069.5,1443.3 1070.5,1444.2 1071.5,1445.1 1072.5,1445.5 1073.5,1444.4 1074.5,1442.1 1075.5,1439.1 1076.5,1437.2 1077.5,1436.5 1078.5,1436.7 1079.5,1437.9 1080.5,1440.3 1081.5,1443.0 1082.5,1444.2 1083.5,1444.8 1084.5,1444.9 1085.5,1444.9 1086.5,1445.2 1087.5,1445.4 1088.5,1444.9 1089.5,1443.9 1090.5,1442.5 1091.5,1441.5 1092.5,1441.3 1093.5,1440.2 1094.5,1437.3 1095.5,1433.2 1096.5,1430.1 1097.5,1429.4 1098.5,1430.9 1099.5,1433.3 1100.5,1435.3 1101.5,1436.4 1102.5,1437.8 1103.5,1440.0 1104.5,1442.4 1105.5,1444.3 1106.5,1445.7 1107.5,1447.2 1108.5,1448.0 1109.5,1447.2 1110.5,1446.2 1111.5,1447.1 1112.5,1449.6 1113.5,1452.7 1114.5,1455.0 1115.5,1456.3 1116.5,1457.4 1117.5,1459.1 1118.5,1460.7 1119.5,1461.4 1120.5,1461.0 1121.5,1460.3 1122.5,1461.0 1123.5,1462.8 1124.5,1463.3 1125.5,1461.9 1126.5,1460.2 1127.5,1459.7 1128.5,1460.7 1129.5,1462.4 1130.5,1463.7 1131.5,1463.7 1132.5,1462.4 1133.5,1461.0 1134.5,1460.6 1135.5,1461.0 1136.5,1461.3 1137.5,1461.5 1138.5,1461.7 1139.5,1461.7 1140.5,1461.4 1141.5,1461.7 1142.5,1463.5 1143.5,1465.5 1144.5,1466.6 1145.5,1466.9 1146.5,1466.0 1147.5,1464.3 1148.5,1463.3 1149.5,1463.7 1150.5,1463.9 1151.5,1462.9 1152.5,1462.2 1153.5,1462.1 1154.5,1461.1 1155.5,1458.6 1156.5,1456.3 1157.5,1455.9 1158.5,1456.8 1159.5,1457.1 1160.5,1457.0 1161.5,1457.0 1162.5,1456.6 1163.5,1456.1 1164.5,1456.8 1165.5,1457.6 1166.5,1457.2 1167.5,1456.0 1168.5,1455.1 1169.5,1455.0 1170.5,1455.4 1171.5,1455.7 1172.5,1455.2 1173.5,1454.0 1174.5,1453.0 1175.5,1451.8 1176.5,1451.2 1177.5,1452.0 1178.5,1453.6 1179.0,1454.9" fill="none" stroke="#0000ff" stroke-width="3.0" stroke-linejoin="round" stroke-linecap="round"/>
<path d="M138.5,1599.7 139.5,1598.8 140.5,1598.1 141.5,1597.1 142.5,1596.2 143.5,1596.8 144.5,1597.7 145.5,1597.0 146.5,1596.0 147.5,1596.7 148.5,1598.6 149.5,1601.6 150.5,1606.2 151.5,1610.8 152.5,1615.2 153.5,1619.5 154.5,1622.7 155.5,1625.5 156.5,1629.2 157.5,1633.6 158.5,1637.3 159.5,1640.2 160.5,1643.8 161.5,1648.7 162.5,1653.7 163.5,1657.5 164.5,1660.5 165.5,1663.0 166.5,1664.3 167.5,1664.7 168.5,1665.1 169.5,1665.8 170.5,1666.2 171.5,1665.6 172.5,1664.6 173.5,1664.2 174.5,1663.7 175.5,1662.9 176.5,1663.5 177.5,1664.9 178.5,1665.0 179.5,1664.8 180.5,1664.7 181.5,1664.1 182.5,1663.3 183.5,1663.1 184.5,1663.5 185.5,1664.5 186.5,1666.3 187.5,1668.0 188.5,1668.8 189.5,1669.3 190.5,1669.6 191.5,1669.7 192.5,1669.9 193.5,1670.3 194.5,1671.1 195.5,1671.9 196.5,1672.8 197.5,1674.2 198.5,1674.8 199.5,1673.6 200.5,1671.5 201.5,1670.9 202.5,1671.6 203.5,1671.3 204.5,1670.5 205.5,1670.7 206.5,1671.6 207.5,1672.4 208.5,1673.0 209.5,1673.2 210.5,1673.0 211.5,1672.7 212.5,1672.9 213.5,1673.0 214.5,1673.3 215.5,1674.3 216.5,1675.0 217.5,1674.9 218.5,1675.1 219.5,1676.1 220.5,1677.7 221.5,1678.9 222.5,1679.9 223.5,1681.2 224.5,1682.6 225.5,1683.4 226.5,1683.3 227.5,1683.2 228.5,1683.7 229.5,1683.9 230.5,1682.5 231.5,1680.9 232.5,1680.4 233.5,1679.9 234.5,1678.8 235.5,1677.2 236.5,1675.9 237.5,1675.5 238.5,1675.9 239.5,1676.9 240.5,1678.3 241.5,1679.2 242.5,1678.8 243.5,1678.3 244.5,1678.8 245.5,1679.0 246.5,1679.0 247.5,1679.2 248.5,1679.6 249.5,1680.5 250.5,1682.0 251.5,1683.3 252.5,1683.9 253.5,1684.7 254.5,1686.3 255.5,1687.7 256.5,1687.9 257.5,1687.6 258.5,1688.2 259.5,1689.3 260.5,1689.8 261.5,1689.3 262.5,1688.1 263.5,1687.6 264.5,1688.3 265.5,1689.7 266.5,1690.5 267.5,1690.2 268.5,1690.2 269.5,1690.4 270.5,1689.4 271.5,1688.2 272.5,1687.7 273.5,1688.2 274.5,1689.5 275.5,1690.3 276.5,1689.7 277.5,1688.3 278.5,1686.9 279.5,1686.0 280.5,1685.8 281.5,1685.9 282.5,1686.7 283.5,1688.3 284.5,1689.2 285.5,1689.8 286.5,1690.9 287.5,1691.4 288.5,1690.3 289.5,1688.8 290.5,1687.7 291.5,1687.0 292.5,1687.2 293.5,1688.1 294.5,1688.2 295.5,1687.1 296.5,1685.9 297.5,1685.0 298.5,1684.2 299.5,1683.8 300.5,1684.5 301.5,1685.9 302.5,1687.0 303.5,1687.8 304.5,1688.0 305.5,1687.0 306.5,1685.2 307.5,1683.9 308.5,1683.9 309.5,1684.1 310.5,1683.1 311.5,1681.6 312.5,1681.4 313.5,1682.5 314.5,1683.7 315.5,1684.6 316.5,1684.9 317.5,1684.7 318.5,1684.9 319.5,1685.0 320.5,1684.4 321.5,1683.7 322.5,1683.7 323.5,1684.0 324.5,1684.6 325.5,1685.5 326.5,1686.1 327.5,1685.9 328.5,1684.8 329.5,1683.9 330.5,1683.7 331.5,1683.5 332.5,1683.0 333.5,1682.3 334.5,1682.2 335.5,1683.2 336.5,1685.3 337.5,1687.1 338.5,1687.2 339.5,1686.9 340.5,1687.2 341.5,1688.4 342.5,1690.4 343.5,1692.3 344.5,1693.3 345.5,1693.5 346.5,1692.4 347.5,1690.5 348.5,1688.9 349.5,1688.1 350.5,1688.2 351.5,1688.5 352.5,1687.8 353.5,1686.0 354.5,1684.3 355.5,1684.1 356.5,1685.3 357.5,1686.2 358.5,1685.8 359.5,1684.6 360.5,1683.6 361.5,1682.7 362.5,1682.3 363.5,1682.7 364.5,1683.0 365.5,1682.7 366.5,1682.5 367.5,1682.1 368.5,1681.0 369.5,1679.7 370.5,1679.4 371.5,1680.2 372.5,1681.6 373.5,1682.7 374.5,1682.8 375.5,1682.0 376.5,1681.5 377.5,1681.3 378.5,1680.8 379.5,1680.6 380.5,1681.7 381.5,1682.5 382.5,1681.7 383.5,1681.0 384.5,1681.5 385.5,1681.6 386.5,1680.8 387.5,1679.3 388.5,1677.2 389.5,1675.9 390.5,1676.5 391.5,1678.5 392.5,1680.5 393.5,1681.0 394.5,1679.6 395.5,1676.8 396.5,1674.3 397.5,1673.4 398.5,1673.9 399.5,1673.8 400.5,1672.5 401.5,1672.2 402.5,1673.7 403.5,1674.6 404.5,1674.5 405.5,1674.9 406.5,1675.2 407.5,1673.8 408.5,1671.6 409.5,1670.4 410.5,1670.4 411.5,1670.3 412.5,1668.9 413.5,1667.3 414.5,1666.2 415.5,1664.5 416.5,1661.8 417.5,1659.8 418.5,1658.9 419.5,1657.8 420.5,1655.4 421.5,1652.6 422.5,1651.1 423.5,1650.7 424.5,1649.7 425.5,1648.1 426.5,1647.0 427.5,1645.3 428.5,1641.9 429.5,1637.9 430.5,1635.1 431.5,1633.1 432.5,1630.7 433.5,1627.6 434.5,1624.3 435.5,1621.0 436.5,1617.6 437.5,1613.7 438.5,1609.5 439.5,1605.3 440.5,1602.2 441.5,1599.3 442.5,1596.4 443.5,1592.9 444.5,1588.8 445.5,1586.1 446.5,1587.0 447.5,1591.2 448.5,1596.4 449.5,1601.7 450.5,1608.7 451.5,1618.3 452.5,1628.3 453.5,1638.3 454.5,1650.9 455.5,1666.5 456.5,1683.1 457.5,1699.4 458.5,1716.9 459.5,1734.1 460.5,1748.8 461.5,1759.4 462.5,1769.8 463.5,1779.5 464.5,1787.1 465.5,1790.4 466.5,1788.0 467.5,1781.2 468.5,1772.0 469.5,1763.2 470.5,1756.5 471.5,1750.0 472.5,1741.7 473.5,1731.8 474.5,1723.9 475.5,1719.2 476.5,1714.3 477.5,1709.1 478.5,1705.0 479.5,1703.2 480.5,1702.4 481.5,1700.2 482.5,1697.0 483.5,1694.5 484.5,1692.5 485.5,1690.6 486.5,1689.7 487.5,1689.6 488.5,1690.2 489.5,1690.9 490.5,1690.8 491.5,1689.8 492.5,1688.7 493.5,1687.8 494.5,1687.1 495.5,1686.6 496.5,1686.3 497.5,1685.8 498.5,1685.0 499.5,1683.7 500.5,1682.1 501.5,1679.9 502.5,1677.1 503.5,1675.0 504.5,1674.5 505.5,1674.7 506.5,1674.3 507.5,1672.8 508.5,1670.1 509.5,1667.3 510.5,1665.8 511.5,1664.7 512.5,1662.5 513.5,1660.8 514.5,1660.7 515.5,1661.9 516.5,1662.9 517.5,1662.1 518.5,1660.3 519.5,1659.6 520.5,1660.9 521.5,1663.6 522.5,1666.5 523.5,1668.2 524.5,1668.3 525.5,1668.6 526.5,1669.5 527.5,1669.9 528.5,1669.8 529.5,1670.3 530.5,1671.1 531.5,1671.0 532.5,1670.0 533.5,1669.2 534.5,1668.8 535.5,1667.5 536.5,1665.4 537.5,1664.0 538.5,1663.1 539.5,1662.2 540.5,1662.2 541.5,1662.0 542.5,1661.2 543.5,1660.4 544.5,1659.3 545.5,1657.3 546.5,1655.1 547.5,1653.7 548.5,1653.6 549.5,1655.0 550.5,1656.9 551.5,1658.0 552.5,1657.9 553.5,1658.4 554.5,1660.5 555.5,1662.3 556.5,1662.5 557.5,1662.0 558.5,1661.9 559.5,1663.5 560.5,1665.8 561.5,1666.8 562.5,1666.4 563.5,1665.5 564.5,1664.4 565.5,1663.1 566.5,1661.6 567.5,1659.0 568.5,1655.4 569.5,1652.2 570.5,1650.6 571.5,1650.3 572.5,1649.2 573.5,1646.6 574.5,1643.7 575.5,1641.8 576.5,1640.4 577.5,1638.9 578.5,1637.8 579.5,1637.8 580.5,1637.3 581.5,1634.5 582.5,1630.5 583.5,1627.5 584.5,1625.1 585.5,1621.4 586.5,1615.9 587.5,1610.9 588.5,1607.6 589.5,1604.0 590.5,1598.6 591.5,1592.3 592.5,1585.8 593.5,1579.4 594.5,1572.2 595.5,1564.0 596.5,1555.1 597.5,1546.3 598.5,1538.4 599.5,1530.0 600.5,1526.2 601.5,1528.6 602.5,1531.3 603.5,1534.0 604.5,1538.4 605.5,1547.5 606.5,1564.3 607.5,1584.5 608.5,1603.6 609.5,1620.0 610.5,1636.4 611.5,1653.0 612.5,1669.3 613.5,1687.7 614.5,1708.2 615.5,1727.1 616.5,1740.6 617.5,1752.3 618.5,1762.4 619.5,1770.1 620.5,1773.8 621.5,1772.0 622.5,1766.6 623.5,1758.6 624.5,1748.7 625.5,1738.4 626.5,1727.4 627.5,1716.4 628.5,1706.3 629.5,1698.8 630.5,1694.6 631.5,1692.4 632.5,1692.4 633.5,1692.7 634.5,1691.4 635.5,1688.8 636.5,1686.0 637.5,1683.5 638.5,1681.3 639.5,1679.4 640.5,1677.4 641.5,1675.6 642.5,1673.4 643.5,1672.0 644.5,1672.1 645.5,1673.5 646.5,1675.0 647.5,1675.4 648.5,1674.6 649.5,1672.5 650.5,1669.6 651.5,1666.9 652.5,1664.3 653.5,1661.3 654.5,1658.6 655.5,1656.8 656.5,1655.9 657.5,1655.8 658.5,1655.5 659.5,1654.4 660.5,1652.9 661.5,1652.2 662.5,1652.1 663.5,1653.1 664.5,1655.4 665.5,1657.2 666.5,1658.7 667.5,1660.2 668.5,1659.8 669.5,1658.4 670.5,1658.5 671.5,1659.9 672.5,1660.8 673.5,1661.4 674.5,1661.7 675.5,1661.5 676.5,1661.9 677.5,1664.1 678.5,1666.4 679.5,1667.0 680.5,1666.0 681.5,1663.8 682.5,1660.4 683.5,1656.9 684.5,1654.4 685.5,1653.4 686.5,1653.4 687.5,1653.4 688.5,1653.1 689.5,1652.8 690.5,1651.4 691.5,1649.1 692.5,1648.2 693.5,1648.8 694.5,1648.8 695.5,1648.0 696.5,1648.3 697.5,1649.8 698.5,1650.4 699.5,1649.3 700.5,1647.5 701.5,1645.8 702.5,1644.8 703.5,1644.9 704.5,1645.7 705.5,1646.2 706.5,1645.4 707.5,1644.0 708.5,1644.5 709.5,1646.9 710.5,1649.4 711.5,1651.4 712.5,1652.1 713.5,1651.5 714.5,1650.4 715.5,1649.2 716.5,1647.7 717.5,1646.7 718.5,1646.0 719.5,1645.7 720.5,1645.1 721.5,1643.9 722.5,1642.4 723.5,1640.5 724.5,1639.4 725.5,1639.3 726.5,1639.3 727.5,1638.6 728.5,1637.7 729.5,1637.4 730.5,1637.6 731.5,1636.7 732.5,1634.3 733.5,1631.6 734.5,1630.4 735.5,1631.2 736.5,1632.4 737.5,1632.2 738.5,1630.5 739.5,1628.2 740.5,1624.6 741.5,1618.6 742.5,1611.3 743.5,1604.9 744.5,1598.4 745.5,1590.2 746.5,1580.4 747.5,1571.6 748.5,1565.0 749.5,1560.1 750.5,1555.3 751.5,1549.4 752.5,1542.2 753.5,1534.7 754.5,1528.8 755.5,1524.4 756.5,1521.8 757.5,1522.7 758.5,1527.1 759.5,1532.5 760.5,1539.3 761.5,1549.4 762.5,1565.4 763.5,1583.9 764.5,1601.4 765.5,1617.8 766.5,1635.5 767.5,1653.4 768.5,1670.6 769.5,1690.0 770.5,1709.5 771.5,1724.9 772.5,1735.2 773.5,1744.1 774.5,1748.6 775.5,1747.6 776.5,1743.8 777.5,1739.7 778.5,1736.3 779.5,1733.2 780.5,1729.6 781.5,1726.1 782.5,1721.6 783.5,1715.8 784.5,1710.1 785.5,1706.2 786.5,1703.4 787.5,1699.9 788.5,1694.4 789.5,1687.6 790.5,1681.7 791.5,1677.2 792.5,1674.1 793.5,1672.2 794.5,1670.6 795.5,1668.2 796.5,1665.4 797.5,1663.3 798.5,1661.9 799.5,1660.6 800.5,1659.6 801.5,1660.2 802.5,1661.6 803.5,1660.3 804.5,1655.8 805.5,1651.4 806.5,1649.5 807.5,1649.6 808.5,1650.3 809.5,1650.9 810.5,1650.7 811.5,1649.3 812.5,1647.1 813.5,1645.1 814.5,1644.0 815.5,1643.2 816.5,1643.1 817.5,1644.4 818.5,1645.7 819.5,1645.7 820.5,1644.5 821.5,1643.0 822.5,1641.8 823.5,1641.4 824.5,1641.5 825.5,1641.6 826.5,1641.2 827.5,1640.2 828.5,1639.7 829.5,1640.9 830.5,1642.3 831.5,1641.7 832.5,1639.8 833.5,1638.7 834.5,1638.1 835.5,1636.8 836.5,1635.6 837.5,1636.0 838.5,1636.4 839.5,1635.5 840.5,1634.6 841.5,1634.3 842.5,1634.0 843.5,1632.9 844.5,1631.2 845.5,1630.5 846.5,1631.6 847.5,1632.8 848.5,1632.8 849.5,1632.6 850.5,1633.6 851.5,1634.2 852.5,1632.9 853.5,1631.1 854.5,1630.6 855.5,1631.5 856.5,1633.0 857.5,1633.7 858.5,1633.3 859.5,1632.6 860.5,1632.4 861.5,1632.2 862.5,1631.9 863.5,1632.1 864.5,1633.7 865.5,1635.6 866.5,1636.8 867.5,1637.0 868.5,1637.7 869.5,1638.2 870.5,1638.0 871.5,1638.1 872.5,1637.7 873.5,1635.3 874.5,1631.3 875.5,1627.3 876.5,1624.7 877.5,1624.8 878.5,1626.6 879.5,1628.5 880.5,1628.8 881.5,1628.3 882.5,1628.8 883.5,1630.5 884.5,1632.6 885.5,1633.5 886.5,1632.9 887.5,1632.9 888.5,1634.0 889.5,1634.8 890.5,1634.5 891.5,1633.7 892.5,1632.9 893.5,1632.6 894.5,1632.6 895.5,1632.5 896.5,1631.8 897.5,1631.2 898.5,1631.4 899.5,1631.7 900.5,1631.7 901.5,1631.6 902.5,1630.9 903.5,1629.7 904.5,1629.4 905.5,1629.8 906.5,1629.1 907.5,1627.7 908.5,1627.2 909.5,1627.7 910.5,1629.0 911.5,1629.6 912.5,1628.7 913.5,1627.4 914.5,1627.4 915.5,1628.1 916.5,1628.4 917.5,1628.8 918.5,1629.1 919.5,1629.0 920.5,1629.3 921.5,1630.5 922.5,1632.1 923.5,1633.6 924.5,1633.8 925.5,1632.1 926.5,1630.5 927.5,1630.5 928.5,1631.4 929.5,1631.4 930.5,1630.5 931.5,1629.8 932.5,1630.2 933.5,1631.3 934.5,1631.9 935.5,1632.2 936.5,1632.7 937.5,1633.1 938.5,1633.2 939.5,1632.8 940.5,1632.7 941.5,1632.9 942.5,1633.3 943.5,1632.9 944.5,1632.3 945.5,1632.5 946.5,1633.0 947.5,1633.3 948.5,1633.3 949.5,1633.4 950.5,1633.5 951.5,1633.8 952.5,1633.3 953.5,1632.3 954.5,1632.4 955.5,1632.9 956.5,1632.4 957.5,1631.4 958.5,1630.7 959.5,1630.6 960.5,1630.1 961.5,1629.0 962.5,1628.6 963.5,1628.9 964.5,1629.5 965.5,1629.9 966.5,1629.9 967.5,1629.9 968.5,1630.7 969.5,1632.4 970.5,1634.9 971.5,1637.2 972.5,1637.8 973.5,1637.2 974.5,1637.2 975.5,1637.9 976.5,1638.6 977.5,1639.5 978.5,1640.6 979.5,1642.0 980.5,1643.3 981.5,1643.4 982.5,1642.3 983.5,1641.2 984.5,1640.7 985.5,1640.3 986.5,1638.8 987.5,1636.1 988.5,1634.2 989.5,1634.6 990.5,1635.5 991.5,1635.3 992.5,1633.8 993.5,1632.4 994.5,1632.3 995.5,1633.0 996.5,1633.8 997.5,1635.0 998.5,1636.3 999.5,1636.6 1000.5,1636.2 1001.5,1636.9 1002.5,1639.5 1003.5,1641.5 1004.5,1641.3 1005.5,1640.1 1006.5,1639.8 1007.5,1640.6 1008.5,1640.9 1009.5,1640.2 1010.5,1640.0 1011.5,1641.0 1012.5,1642.8 1013.5,1643.8 1014.5,1644.0 1015.5,1644.5 1016.5,1645.0 1017.5,1645.2 1018.5,1645.9 1019.5,1646.7 1020.5,1647.0 1021.5,1646.5 1022.5,1645.5 1023.5,1645.2 1024.5,1646.0 1025.5,1647.2 1026.5,1647.9 1027.5,1648.1 1028.5,1648.8 1029.5,1649.4 1030.5,1649.6 1031.5,1650.4 1032.5,1651.5 1033.5,1651.8 1034.5,1650.7 1035.5,1648.7 1036.5,1647.8 1037.5,1648.2 1038.5,1648.8 1039.5,1649.5 1040.5,1649.9 1041.5,1649.9 1042.5,1650.3 1043.5,1651.6 1044.5,1652.7 1045.5,1652.4 1046.5,1651.0 1047.5,1650.4 1048.5,1651.3 1049.5,1652.4 1050.5,1652.4 1051.5,1651.9 1052.5,1652.1 1053.5,1653.1 1054.5,1654.6 1055.5,1656.5 1056.5,1658.1 1057.5,1658.6 1058.5,1658.3 1059.5,1657.5 1060.5,1656.6 1061.5,1656.2 1062.5,1656.3 1063.5,1656.3 1064.5,1656.4 1065.5,1656.6 1066.5,1656.0 1067.5,1654.6 1068.5,1653.7 1069.5,1654.2 1070.5,1655.8 1071.5,1657.8 1072.5,1659.5 1073.5,1660.5 1074.5,1661.4 1075.5,1663.0 1076.5,1664.8 1077.5,1665.7 1078.5,1665.6 1079.5,1665.6 1080.5,1666.0 1081.5,1666.2 1082.5,1666.5 1083.5,1666.7 1084.5,1666.3 1085.5,1666.0 1086.5,1666.8 1087.5,1668.9 1088.5,1671.0 1089.5,1672.1 1090.5,1672.6 1091.5,1673.4 1092.5,1674.9 1093.5,1676.8 1094.5,1678.0 1095.5,1677.6 1096.5,1677.6 1097.5,1679.3 1098.5,1681.2 1099.5,1682.0 1100.5,1681.8 1101.5,1681.4 1102.5,1681.5 1103.5,1682.5 1104.5,1683.8 1105.5,1684.9 1106.5,1685.5 1107.5,1685.9 1108.5,1686.7 1109.5,1688.1 1110.5,1689.5 1111.5,1690.8 1112.5,1691.7 1113.5,1692.0 1114.5,1691.9 1115.5,1691.1 1116.5,1689.1 1117.5,1687.3 1118.5,1686.8 1119.5,1687.4 1120.5,1688.5 1121.5,1689.6 1122.5,1690.8 1123.5,1691.9 1124.5,1692.8 1125.5,1693.1 1126.5,1692.8 1127.5,1692.5 1128.5,1692.6 1129.5,1693.0 1130.5,1693.2 1131.5,1693.6 1132.5,1694.9 1133.5,1696.2 1134.5,1696.6 1135.5,1696.7 1136.5,1697.4 1137.5,1698.1 1138.5,1699.2 1139.5,1700.7 1140.5,1701.4 1141.5,1701.4 1142.5,1701.3 1143.5,1701.1 1144.5,1700.2 1145.5,1699.3 1146.5,1699.0 1147.5,1699.4 1148.5,1699.4 1149.5,1698.7 1150.5,1698.2 1151.5,1699.2 1152.5,1701.3 1153.5,1703.8 1154.5,1705.8 1155.5,1707.5 1156.5,1708.7 1157.5,1709.3 1158.5,1709.5 1159.5,1710.6 1160.5,1711.2 1161.5,1710.2 1162.5,1709.5 1163.5,1710.4 1164.5,1711.6 1165.5,1711.7 1166.5,1710.9 1167.5,1710.8 1168.5,1711.4 1169.5,1711.7 1170.5,1711.5 1171.5,1711.0 1172.5,1710.3 1173.5,1710.9 1174.5,1713.1 1175.5,1715.3 1176.5,1715.7 1177.5,1714.9 1178.5,1714.4 1179.0,1714.8" fill="none" stroke="#ff0000" stroke-width="3.0" stroke-linejoin="round" stroke-linecap="round"/>
<path d="M138.5,1870.4 139.5,1869.9 140.5,1869.5 141.5,1869.1 142.5,1869.1 143.5,1869.9 144.5,1870.3 145.5,1870.1 146.5,1869.9 147.5,1866.7 148.5,1860.9 149.5,1857.3 150.5,1859.2 151.5,1862.9 152.5,1864.7 153.5,1864.4 154.5,1863.8 155.5,1862.3 156.5,1859.4 157.5,1857.3 158.5,1857.4 159.5,1861.0 160.5,1868.3 161.5,1876.4 162.5,1881.4 163.5,1882.9 164.5,1883.1 165.5,1884.0 166.5,1885.0 167.5,1885.4 168.5,1886.0 169.5,1886.3 170.5,1886.0 171.5,1886.1 172.5,1887.6 173.5,1889.9 174.5,1892.1 175.5,1893.4 176.5,1893.8 177.5,1893.6 178.5,1893.0 179.5,1892.2 180.5,1891.1 181.5,1890.9 182.5,1892.1 183.5,1893.3 184.5,1892.7 185.5,1889.8 186.5,1886.0 187.5,1882.7 188.5,1881.7 189.5,1884.0 190.5,1886.6 191.5,1887.2 192.5,1887.7 193.5,1889.3 194.5,1890.6 195.5,1891.1 196.5,1891.3 197.5,1891.5 198.5,1891.0 199.5,1890.2 200.5,1890.5 201.5,1891.7 202.5,1892.7 203.5,1893.5 204.5,1894.6 205.5,1895.3 206.5,1894.6 207.5,1893.4 208.5,1892.4 209.5,1891.0 210.5,1889.5 211.5,1888.8 212.5,1888.3 213.5,1887.4 214.5,1886.5 215.5,1886.2 216.5,1886.6 217.5,1886.5 218.5,1885.6 219.5,1885.2 220.5,1885.6 221.5,1885.5 222.5,1884.6 223.5,1883.8 224.5,1883.4 225.5,1883.2 226.5,1882.3 227.5,1880.9 228.5,1879.5 229.5,1880.0 230.5,1882.9 231.5,1886.3 232.5,1888.3 233.5,1889.1 234.5,1888.7 235.5,1887.8 236.5,1887.7 237.5,1889.0 238.5,1890.4 239.5,1889.8 240.5,1887.9 241.5,1886.9 242.5,1886.7 243.5,1885.9 244.5,1884.8 245.5,1884.2 246.5,1884.8 247.5,1885.4 248.5,1884.9 249.5,1883.6 250.5,1882.5 251.5,1882.1 252.5,1882.8 253.5,1883.8 254.5,1883.5 255.5,1881.6 256.5,1879.6 257.5,1879.3 258.5,1879.7 259.5,1879.7 260.5,1880.2 261.5,1881.9 262.5,1882.7 263.5,1881.7 264.5,1881.3 265.5,1881.4 266.5,1880.7 267.5,1880.0 268.5,1880.2 269.5,1880.6 270.5,1880.5 271.5,1879.9 272.5,1879.7 273.5,1880.6 274.5,1881.6 275.5,1882.2 276.5,1882.8 277.5,1883.5 278.5,1883.6 279.5,1882.5 280.5,1880.8 281.5,1879.3 282.5,1878.6 283.5,1878.2 284.5,1877.3 285.5,1876.6 286.5,1876.5 287.5,1877.2 288.5,1877.8 289.5,1877.0 290.5,1875.8 291.5,1876.3 292.5,1878.3 293.5,1879.4 294.5,1878.2 295.5,1876.3 296.5,1876.3 297.5,1878.0 298.5,1879.4 299.5,1879.7 300.5,1879.4 301.5,1879.0 302.5,1879.1 303.5,1879.9 304.5,1880.7 305.5,1880.4 306.5,1878.9 307.5,1877.7 308.5,1879.2 309.5,1882.1 310.5,1883.4 311.5,1882.4 312.5,1880.2 313.5,1878.4 314.5,1878.1 315.5,1877.7 316.5,1875.9 317.5,1874.2 318.5,1874.1 319.5,1875.2 320.5,1876.6 321.5,1877.7 322.5,1878.8 323.5,1879.6 324.5,1878.8 325.5,1876.6 326.5,1874.9 327.5,1875.4 328.5,1877.7 329.5,1879.1 330.5,1878.3 331.5,1876.7 332.5,1876.0 333.5,1875.4 334.5,1874.7 335.5,1875.3 336.5,1878.0 337.5,1881.0 338.5,1882.3 339.5,1881.9 340.5,1881.2 341.5,1880.9 342.5,1880.7 343.5,1880.0 344.5,1879.4 345.5,1879.3 346.5,1879.3 347.5,1879.4 348.5,1880.1 349.5,1880.9 350.5,1880.9 351.5,1879.6 352.5,1877.9 353.5,1876.6 354.5,1876.0 355.5,1875.4 356.5,1875.0 357.5,1874.8 358.5,1874.9 359.5,1875.3 360.5,1875.9 361.5,1876.8 362.5,1878.5 363.5,1880.3 364.5,1880.6 365.5,1879.9 366.5,1879.7 367.5,1880.7 368.5,1882.0 369.5,1881.8 370.5,1880.0 371.5,1878.0 372.5,1877.6 373.5,1878.4 374.5,1879.2 375.5,1879.4 376.5,1878.3 377.5,1875.9 378.5,1873.7 379.5,1873.0 380.5,1873.1 381.5,1873.0 382.5,1872.0 383.5,1870.9 384.5,1870.7 385.5,1871.4 386.5,1871.2 387.5,1870.7 388.5,1871.3 389.5,1873.0 390.5,1874.3 391.5,1875.2 392.5,1875.9 393.5,1875.1 394.5,1873.0 395.5,1872.1 396.5,1873.6 397.5,1875.9 398.5,1877.0 399.5,1877.0 400.5,1876.4 401.5,1874.8 402.5,1872.3 403.5,1870.3 404.5,1869.9 405.5,1871.0 406.5,1871.7 407.5,1870.2 408.5,1867.8 409.5,1867.1 410.5,1867.7 411.5,1867.7 412.5,1867.4 413.5,1868.0 414.5,1867.8 415.5,1865.4 416.5,1861.8 417.5,1857.5 418.5,1852.7 419.5,1848.1 420.5,1845.0 421.5,1843.0 422.5,1839.9 423.5,1835.9 424.5,1833.1 425.5,1831.8 426.5,1831.0 427.5,1829.7 428.5,1827.1 429.5,1823.1 430.5,1818.4 431.5,1814.4 432.5,1812.8 433.5,1814.6 434.5,1819.3 435.5,1824.7 436.5,1829.8 437.5,1834.5 438.5,1840.2 439.5,1846.8 440.5,1852.9 441.5,1858.7 442.5,1865.7 443.5,1874.3 444.5,1883.1 445.5,1891.2 446.5,1898.9 447.5,1905.9 448.5,1913.3 449.5,1919.8 450.5,1924.2 451.5,1927.7 452.5,1929.9 453.5,1928.4 454.5,1924.4 455.5,1920.9 456.5,1920.4 457.5,1922.8 458.5,1924.8 459.5,1924.3 460.5,1922.5 461.5,1920.3 462.5,1917.0 463.5,1913.3 464.5,1909.2 465.5,1904.6 466.5,1900.1 467.5,1896.5 468.5,1895.0 469.5,1895.2 470.5,1895.1 471.5,1893.9 472.5,1892.0 473.5,1890.6 474.5,1890.3 475.5,1891.0 476.5,1891.9 477.5,1891.8 478.5,1890.3 479.5,1888.3 480.5,1886.6 481.5,1885.0 482.5,1884.7 483.5,1886.2 484.5,1888.0 485.5,1888.7 486.5,1887.8 487.5,1886.5 488.5,1886.5 489.5,1888.1 490.5,1889.5 491.5,1889.8 492.5,1889.9 493.5,1891.0 494.5,1891.9 495.5,1890.4 496.5,1887.1 497.5,1883.8 498.5,1881.1 499.5,1879.4 500.5,1878.3 501.5,1877.0 502.5,1876.4 503.5,1877.2 504.5,1877.2 505.5,1875.4 506.5,1872.9 507.5,1871.1 508.5,1869.9 509.5,1869.4 510.5,1870.9 511.5,1873.8 512.5,1876.0 513.5,1876.3 514.5,1875.0 515.5,1873.6 516.5,1873.1 517.5,1873.8 518.5,1875.5 519.5,1876.7 520.5,1876.8 521.5,1876.7 522.5,1875.9 523.5,1874.4 524.5,1873.4 525.5,1873.6 526.5,1873.4 527.5,1871.9 528.5,1870.5 529.5,1869.8 530.5,1870.1 531.5,1871.2 532.5,1871.9 533.5,1872.3 534.5,1873.0 535.5,1874.5 536.5,1875.5 537.5,1874.9 538.5,1874.4 539.5,1875.5 540.5,1876.5 541.5,1876.9 542.5,1878.2 543.5,1880.5 544.5,1882.2 545.5,1882.8 546.5,1882.7 547.5,1882.6 548.5,1882.7 549.5,1882.5 550.5,1881.8 551.5,1881.5 552.5,1882.4 553.5,1883.9 554.5,1884.7 555.5,1884.5 556.5,1884.2 557.5,1884.1 558.5,1883.4 559.5,1881.4 560.5,1878.4 561.5,1875.8 562.5,1875.8 563.5,1877.4 564.5,1878.0 565.5,1877.2 566.5,1875.8 567.5,1874.1 568.5,1872.5 569.5,1871.4 570.5,1870.5 571.5,1868.4 572.5,1865.4 573.5,1862.9 574.5,1860.8 575.5,1858.6 576.5,1856.2 577.5,1854.0 578.5,1851.8 579.5,1849.6 580.5,1848.7 581.5,1849.0 582.5,1848.2 583.5,1844.6 584.5,1839.2 585.5,1834.7 586.5,1831.9 587.5,1829.2 588.5,1824.6 589.5,1818.8 590.5,1814.1 591.5,1812.0 592.5,1811.0 593.5,1809.8 594.5,1809.3 595.5,1809.9 596.5,1810.7 597.5,1811.7 598.5,1813.5 599.5,1815.0 600.5,1815.5 601.5,1816.0 602.5,1820.0 603.5,1827.3 604.5,1835.9 605.5,1844.5 606.5,1855.0 607.5,1867.3 608.5,1879.7 609.5,1889.9 610.5,1897.4 611.5,1903.4 612.5,1908.2 613.5,1912.4 614.5,1916.0 615.5,1919.4 616.5,1923.4 617.5,1926.9 618.5,1929.1 619.5,1930.0 620.5,1929.9 621.5,1929.2 622.5,1926.7 623.5,1922.2 624.5,1918.5 625.5,1916.8 626.5,1914.5 627.5,1910.7 628.5,1907.0 629.5,1904.1 630.5,1902.1 631.5,1900.1 632.5,1897.3 633.5,1894.2 634.5,1891.4 635.5,1889.1 636.5,1887.8 637.5,1887.6 638.5,1888.0 639.5,1888.5 640.5,1888.8 641.5,1888.5 642.5,1887.6 643.5,1887.6 644.5,1888.2 645.5,1889.1 646.5,1889.8 647.5,1890.1 648.5,1891.3 649.5,1893.5 650.5,1895.5 651.5,1896.4 652.5,1895.2 653.5,1891.3 654.5,1887.3 655.5,1885.2 656.5,1884.5 657.5,1884.3 658.5,1883.7 659.5,1882.8 660.5,1881.6 661.5,1880.0 662.5,1879.2 663.5,1880.4 664.5,1882.7 665.5,1884.9 666.5,1887.0 667.5,1888.5 668.5,1888.7 669.5,1888.3 670.5,1889.1 671.5,1891.6 672.5,1894.1 673.5,1895.1 674.5,1894.3 675.5,1893.7 676.5,1894.3 677.5,1895.2 678.5,1894.6 679.5,1893.0 680.5,1892.0 681.5,1891.8 682.5,1891.1 683.5,1890.1 684.5,1889.3 685.5,1888.9 686.5,1888.3 687.5,1887.3 688.5,1885.8 689.5,1885.0 690.5,1885.6 691.5,1887.0 692.5,1888.2 693.5,1888.9 694.5,1888.6 695.5,1887.3 696.5,1886.7 697.5,1887.4 698.5,1887.8 699.5,1887.2 700.5,1887.6 701.5,1889.4 702.5,1891.0 703.5,1891.0 704.5,1890.6 705.5,1890.8 706.5,1890.9 707.5,1889.2 708.5,1886.7 709.5,1885.5 710.5,1885.7 711.5,1885.2 712.5,1883.8 713.5,1882.9 714.5,1882.9 715.5,1882.4 716.5,1881.0 717.5,1878.9 718.5,1877.1 719.5,1876.8 720.5,1877.2 721.5,1877.2 722.5,1877.0 723.5,1877.5 724.5,1878.5 725.5,1879.9 726.5,1881.3 727.5,1881.3 728.5,1879.7 729.5,1877.5 730.5,1876.1 731.5,1876.2 732.5,1877.3 733.5,1877.7 734.5,1876.8 735.5,1875.0 736.5,1872.6 737.5,1870.2 738.5,1867.7 739.5,1865.9 740.5,1865.0 741.5,1864.0 742.5,1862.0 743.5,1859.3 744.5,1857.6 745.5,1857.3 746.5,1857.4 747.5,1855.9 748.5,1850.4 749.5,1843.8 750.5,1838.7 751.5,1835.9 752.5,1833.3 753.5,1831.3 754.5,1829.9 755.5,1829.8 756.5,1831.4 757.5,1833.2 758.5,1833.4 759.5,1831.2 760.5,1829.6 761.5,1831.1 762.5,1834.2 763.5,1837.8 764.5,1841.9 765.5,1846.0 766.5,1850.1 767.5,1855.5 768.5,1864.7 769.5,1875.1 770.5,1885.1 771.5,1895.1 772.5,1904.3 773.5,1910.2 774.5,1914.2 775.5,1918.7 776.5,1924.5 777.5,1930.0 778.5,1933.2 779.5,1934.2 780.5,1934.7 781.5,1935.8 782.5,1937.4 783.5,1938.0 784.5,1937.0 785.5,1935.9 786.5,1934.4 787.5,1931.5 788.5,1927.1 789.5,1923.1 790.5,1920.1 791.5,1917.2 792.5,1914.0 793.5,1911.1 794.5,1909.7 795.5,1909.6 796.5,1909.3 797.5,1907.5 798.5,1905.9 799.5,1905.3 800.5,1904.7 801.5,1903.3 802.5,1901.3 803.5,1899.0 804.5,1896.6 805.5,1894.7 806.5,1893.2 807.5,1892.0 808.5,1891.7 809.5,1892.0 810.5,1892.9 811.5,1894.2 812.5,1894.9 813.5,1895.0 814.5,1895.2 815.5,1895.4 816.5,1894.8 817.5,1893.3 818.5,1891.7 819.5,1891.0 820.5,1890.1 821.5,1888.9 822.5,1888.7 823.5,1889.2 824.5,1888.7 825.5,1886.4 826.5,1883.6 827.5,1882.5 828.5,1883.4 829.5,1884.3 830.5,1884.8 831.5,1885.3 832.5,1885.3 833.5,1884.7 834.5,1884.6 835.5,1885.6 836.5,1886.4 837.5,1885.8 838.5,1883.9 839.5,1882.6 840.5,1882.8 841.5,1883.1 842.5,1882.5 843.5,1882.7 844.5,1884.3 845.5,1885.3 846.5,1885.4 847.5,1885.7 848.5,1887.3 849.5,1889.5 850.5,1891.1 851.5,1891.1 852.5,1889.8 853.5,1888.2 854.5,1886.2 855.5,1883.7 856.5,1881.7 857.5,1880.6 858.5,1880.4 859.5,1881.0 860.5,1882.0 861.5,1882.8 862.5,1882.9 863.5,1882.3 864.5,1882.3 865.5,1882.9 866.5,1883.4 867.5,1884.0 868.5,1885.0 869.5,1885.0 870.5,1883.7 871.5,1882.6 872.5,1883.8 873.5,1885.7 874.5,1885.7 875.5,1884.1 876.5,1882.5 877.5,1881.9 878.5,1881.7 879.5,1880.7 880.5,1878.9 881.5,1877.4 882.5,1877.4 883.5,1878.8 884.5,1880.3 885.5,1880.6 886.5,1879.7 887.5,1878.7 888.5,1878.3 889.5,1878.3 890.5,1878.2 891.5,1878.7 892.5,1879.8 893.5,1881.5 894.5,1882.9 895.5,1883.6 896.5,1884.3 897.5,1884.6 898.5,1883.6 899.5,1882.2 900.5,1881.9 901.5,1881.9 902.5,1881.1 903.5,1880.7 904.5,1881.3 905.5,1881.3 906.5,1880.9 907.5,1880.9 908.5,1880.9 909.5,1882.0 910.5,1884.4 911.5,1886.7 912.5,1887.2 913.5,1886.1 914.5,1885.0 915.5,1885.0 916.5,1885.5 917.5,1884.8 918.5,1883.0 919.5,1881.2 920.5,1880.1 921.5,1879.6 922.5,1879.3 923.5,1878.8 924.5,1878.0 925.5,1877.9 926.5,1879.1 927.5,1879.8 928.5,1879.6 929.5,1879.6 930.5,1880.4 931.5,1881.4 932.5,1882.3 933.5,1882.8 934.5,1882.6 935.5,1881.2 936.5,1879.7 937.5,1879.9 938.5,1881.6 939.5,1882.6 940.5,1882.1 941.5,1881.2 942.5,1881.4 943.5,1882.6 944.5,1883.5 945.5,1883.2 946.5,1883.1 947.5,1884.6 948.5,1887.1 949.5,1888.7 950.5,1888.8 951.5,1888.2 952.5,1887.0 953.5,1885.9 954.5,1885.7 955.5,1886.0 956.5,1886.0 957.5,1885.9 958.5,1885.7 959.5,1885.2 960.5,1883.6 961.5,1881.5 962.5,1880.5 963.5,1880.7 964.5,1880.5 965.5,1879.5 966.5,1878.4 967.5,1877.7 968.5,1877.7 969.5,1878.1 970.5,1879.0 971.5,1880.7 972.5,1882.2 973.5,1882.0 974.5,1881.5 975.5,1881.6 976.5,1882.0 977.5,1882.4 978.5,1881.8 979.5,1880.8 980.5,1880.8 981.5,1881.6 982.5,1882.3 983.5,1882.1 984.5,1881.0 985.5,1879.9 986.5,1880.3 987.5,1881.6 988.5,1882.2 989.5,1882.3 990.5,1882.2 991.5,1881.8 992.5,1881.0 993.5,1880.5 994.5,1879.6 995.5,1877.0 996.5,1874.4 997.5,1874.2 998.5,1876.4 999.5,1879.0 1000.5,1880.8 1001.5,1882.0 1002.5,1882.4 1003.5,1881.9 1004.5,1881.1 1005.5,1880.3 1006.5,1879.2 1007.5,1878.5 1008.5,1878.9 1009.5,1880.9 1010.5,1884.2 1011.5,1885.5 1012.5,1883.4 1013.5,1880.4 1014.5,1879.0 1015.5,1878.9 1016.5,1878.5 1017.5,1877.5 1018.5,1877.4 1019.5,1878.2 1020.5,1878.7 1021.5,1878.2 1022.5,1877.5 1023.5,1878.0 1024.5,1879.4 1025.5,1879.2 1026.5,1877.1 1027.5,1875.4 1028.5,1875.8 1029.5,1877.3 1030.5,1878.3 1031.5,1878.5 1032.5,1878.1 1033.5,1877.6 1034.5,1877.1 1035.5,1876.0 1036.5,1875.0 1037.5,1874.8 1038.5,1874.8 1039.5,1874.7 1040.5,1874.2 1041.5,1873.2 1042.5,1872.9 1043.5,1872.9 1044.5,1872.8 1045.5,1872.9 1046.5,1872.4 1047.5,1870.7 1048.5,1869.7 1049.5,1870.5 1050.5,1872.0 1051.5,1872.4 1052.5,1871.4 1053.5,1870.6 1054.5,1870.9 1055.5,1870.8 1056.5,1868.7 1057.5,1865.7 1058.5,1864.0 1059.5,1864.4 1060.5,1865.2 1061.5,1865.1 1062.5,1864.4 1063.5,1864.0 1064.5,1863.4 1065.5,1862.7 1066.5,1863.2 1067.5,1865.2 1068.5,1867.2 1069.5,1868.4 1070.5,1868.8 1071.5,1868.5 1072.5,1867.8 1073.5,1866.7 1074.5,1864.9 1075.5,1863.3 1076.5,1862.9 1077.5,1863.1 1078.5,1863.5 1079.5,1863.5 1080.5,1862.7 1081.5,1861.9 1082.5,1862.0 1083.5,1862.2 1084.5,1861.4 1085.5,1860.3 1086.5,1861.1 1087.5,1863.8 1088.5,1866.5 1089.5,1868.3 1090.5,1869.1 1091.5,1868.8 1092.5,1868.8 1093.5,1869.5 1094.5,1870.4 1095.5,1871.4 1096.5,1871.9 1097.5,1871.5 1098.5,1870.9 1099.5,1871.4 1100.5,1872.9 1101.5,1874.8 1102.5,1876.5 1103.5,1877.7 1104.5,1878.2 1105.5,1877.9 1106.5,1877.8 1107.5,1879.0 1108.5,1880.6 1109.5,1881.3 1110.5,1881.3 1111.5,1882.1 1112.5,1883.7 1113.5,1884.5 1114.5,1884.4 1115.5,1885.4 1116.5,1887.9 1117.5,1890.8 1118.5,1893.8 1119.5,1897.0 1120.5,1900.3 1121.5,1903.2 1122.5,1904.4 1123.5,1904.4 1124.5,1904.2 1125.5,1904.1 1126.5,1903.9 1127.5,1903.6 1128.5,1904.0 1129.5,1905.3 1130.5,1906.0 1131.5,1905.6 1132.5,1905.1 1133.5,1905.0 1134.5,1906.4 1135.5,1909.4 1136.5,1911.6 1137.5,1911.4 1138.5,1909.2 1139.5,1906.2 1140.5,1904.9 1141.5,1906.1 1142.5,1907.7 1143.5,1908.8 1144.5,1910.0 1145.5,1911.4 1146.5,1912.0 1147.5,1911.9 1148.5,1912.8 1149.5,1913.9 1150.5,1913.2 1151.5,1910.4 1152.5,1907.1 1153.5,1904.9 1154.5,1904.9 1155.5,1906.9 1156.5,1908.9 1157.5,1909.7 1158.5,1909.9 1159.5,1909.7 1160.5,1908.4 1161.5,1906.7 1162.5,1906.7 1163.5,1908.1 1164.5,1908.8 1165.5,1908.3 1166.5,1907.9 1167.5,1908.0 1168.5,1907.1 1169.5,1905.6 1170.5,1904.7 1171.5,1904.8 1172.5,1905.4 1173.5,1906.3 1174.5,1907.0 1175.5,1906.2 1176.5,1904.0 1177.5,1901.9 1178.5,1900.5 1179.0,1899.3" fill="none" stroke="#000000" stroke-width="2.9" stroke-linejoin="round" stroke-linecap="round"/>
<path d="M137.50,1981.00V1996.50M241.72,1981.00V1989.50M345.94,1981.00V1996.50M450.16,1981.00V1989.50M554.38,1981.00V1996.50M658.60,1981.00V1989.50M762.82,1981.00V1996.50M867.04,1981.00V1989.50M971.26,1981.00V1996.50M1075.48,1981.00V1989.50M1179.70,1981.00V1996.50" fill="none" stroke="#000" stroke-width="2.7" stroke-linecap="butt"/>
<rect x="137.50" y="1152.30" width="1042.20" height="828.70" fill="none" stroke="#000" stroke-width="2.8"/></g>
<g><path d="M1334.0,1252.0 1335.0,1252.0 1336.0,1252.0 1337.0,1252.0 1338.0,1252.0 1339.0,1252.0 1340.0,1252.0 1341.0,1252.0 1342.0,1252.0 1343.0,1252.0 1344.0,1252.0 1345.0,1252.0 1346.0,1252.0 1347.0,1252.0 1348.0,1252.0 1349.0,1252.0 1350.0,1252.0 1351.0,1252.0 1352.0,1252.0 1353.0,1252.0 1354.0,1252.0 1355.0,1252.0 1356.0,1252.0 1357.0,1252.0 1358.0,1252.0 1359.0,1252.0 1360.0,1252.0 1361.0,1252.0 1362.0,1252.0 1363.0,1252.0 1364.0,1252.0 1365.0,1252.0 1366.0,1252.0 1367.0,1252.0 1368.0,1252.0 1369.0,1252.0 1370.0,1252.0 1371.0,1252.0 1372.0,1252.0 1373.0,1252.0 1374.0,1252.0 1375.0,1252.0 1376.0,1252.0 1377.0,1252.0 1378.0,1252.0 1379.0,1252.0 1380.0,1252.0 1381.0,1252.0 1382.0,1252.0 1383.0,1252.0 1384.0,1252.0 1385.0,1252.0 1386.0,1252.0 1387.0,1252.0 1388.0,1252.0 1389.0,1252.0 1390.0,1252.0 1391.0,1252.0 1392.0,1252.0 1393.0,1252.0 1394.0,1252.0 1395.0,1252.0 1396.0,1252.0 1397.0,1252.0 1398.0,1252.0 1399.0,1252.0 1400.0,1252.0 1401.0,1252.0 1402.0,1252.0 1403.0,1252.0 1404.0,1252.0 1405.0,1252.0 1406.0,1252.0 1407.0,1252.0 1408.0,1252.0 1409.0,1252.0 1410.0,1252.0 1411.0,1252.0 1412.0,1252.0 1413.0,1252.0 1414.0,1252.0 1415.0,1252.0 1416.0,1252.0 1417.0,1252.0 1418.0,1252.0 1419.0,1252.0 1420.0,1252.0 1421.0,1252.0 1422.0,1252.0 1423.0,1252.0 1424.0,1252.0 1425.0,1252.0 1426.0,1252.0 1427.0,1252.0 1428.0,1252.0 1429.0,1252.0 1430.0,1252.0 1431.0,1252.0 1432.0,1252.0 1433.0,1252.0 1434.0,1252.0 1435.0,1252.0 1436.0,1252.0 1437.0,1252.0 1438.0,1252.0 1439.0,1252.0 1440.0,1252.0 1441.0,1252.0 1442.0,1252.0 1443.0,1252.0 1444.0,1252.0 1445.0,1252.0 1446.0,1252.0 1447.0,1252.0 1448.0,1252.0 1449.0,1252.0 1450.0,1252.0 1451.0,1252.0 1452.0,1252.0 1453.0,1252.0 1454.0,1252.0 1455.0,1252.0 1456.0,1252.0 1457.0,1252.0 1458.0,1252.0 1459.0,1252.0 1460.0,1252.0 1461.0,1252.0 1462.0,1252.0 1463.0,1252.0 1464.0,1252.0 1465.0,1252.0 1466.0,1252.0 1467.0,1252.0 1468.0,1252.0 1469.0,1252.0 1470.0,1252.0 1471.0,1252.0 1472.0,1252.0 1473.0,1252.0 1474.0,1252.0 1475.0,1252.0 1476.0,1252.0 1477.0,1252.0 1478.0,1252.0 1479.0,1252.0 1480.0,1252.0 1481.0,1252.0 1482.0,1252.0 1483.0,1252.0 1484.0,1252.0 1485.0,1252.0 1486.0,1252.0 1487.0,1252.0 1488.0,1252.0 1489.0,1252.0 1490.0,1252.0 1491.0,1252.0 1492.0,1252.0 1493.0,1252.0 1494.0,1252.0 1495.0,1252.0 1496.0,1252.0 1497.0,1252.0 1498.0,1252.0 1499.0,1252.0 1500.0,1252.0 1501.0,1252.0 1502.0,1252.0 1503.0,1252.0 1504.0,1252.0 1505.0,1252.0 1506.0,1252.0 1507.0,1252.0 1508.0,1252.0 1509.0,1252.0 1510.0,1252.0 1511.0,1252.0 1512.0,1252.0 1513.0,1252.0 1514.0,1252.0 1515.0,1252.0 1516.0,1252.0 1517.0,1252.0 1518.0,1252.0 1519.0,1252.0 1520.0,1252.0 1521.0,1252.0 1522.0,1252.0 1523.0,1252.0 1524.0,1252.0 1525.0,1252.0 1526.0,1252.0 1527.0,1252.0 1528.0,1252.0 1529.0,1252.0 1530.0,1252.0 1531.0,1252.0 1532.0,1252.0 1533.0,1252.0 1534.0,1252.0 1535.0,1252.0 1536.0,1252.0 1537.0,1252.0 1538.0,1252.0 1539.0,1252.0 1540.0,1252.0 1541.0,1252.0 1542.0,1252.0 1543.0,1252.0 1544.0,1252.0 1545.0,1252.0 1546.0,1252.0 1547.0,1252.0 1548.0,1252.0 1549.0,1252.0 1550.0,1252.0 1551.0,1252.0 1552.0,1252.0 1553.0,1252.0 1554.0,1252.0 1555.0,1252.0 1556.0,1251.8 1557.0,1251.6 1558.0,1251.2 1559.0,1250.8 1560.0,1250.3 1561.0,1249.8 1562.0,1249.2 1563.0,1248.5 1564.0,1247.4 1565.0,1246.2 1566.0,1245.0 1567.0,1243.9 1568.0,1243.1 1569.0,1242.7 1570.0,1242.3 1571.0,1242.0 1572.0,1241.8 1573.0,1241.8 1574.0,1242.3 1575.0,1243.2 1576.0,1244.3 1577.0,1245.5 1578.0,1247.2 1579.0,1249.7 1580.0,1252.4 1581.0,1254.9 1582.0,1256.8 1583.0,1258.2 1584.0,1259.5 1585.0,1260.7 1586.0,1261.5 1587.0,1261.8 1588.0,1261.5 1589.0,1260.8 1590.0,1259.9 1591.0,1258.8 1592.0,1257.8 1593.0,1256.9 1594.0,1256.2 1595.0,1255.5 1596.0,1254.8 1597.0,1254.1 1598.0,1253.5 1599.0,1253.0 1600.0,1252.7 1601.0,1252.5 1602.0,1252.3 1603.0,1252.2 1604.0,1252.1 1605.0,1252.1 1606.0,1252.0 1607.0,1252.0 1608.0,1252.0 1609.0,1252.0 1610.0,1252.0 1611.0,1252.0 1612.0,1252.0 1613.0,1252.0 1614.0,1252.0 1615.0,1252.0 1616.0,1252.0 1617.0,1252.0 1618.0,1252.0 1619.0,1252.0 1620.0,1252.0 1621.0,1252.0 1622.0,1252.0 1623.0,1252.0 1624.0,1252.0 1625.0,1252.0 1626.0,1252.0 1627.0,1252.0 1628.0,1252.0 1629.0,1252.0 1630.0,1252.0 1631.0,1252.0 1632.0,1252.0 1633.0,1252.0 1634.0,1252.0 1635.0,1252.0 1636.0,1252.0 1637.0,1252.0 1638.0,1252.0 1639.0,1252.0 1640.0,1252.0 1641.0,1252.0 1642.0,1252.0 1643.0,1252.0 1644.0,1252.0 1645.0,1252.0 1646.0,1252.0 1647.0,1252.0 1648.0,1252.0 1649.0,1252.0 1650.0,1252.0 1651.0,1252.0 1652.0,1252.0 1653.0,1252.0 1654.0,1252.0 1655.0,1252.0 1656.0,1252.0 1657.0,1252.0 1658.0,1252.0 1659.0,1252.0 1660.0,1252.0 1661.0,1252.0 1662.0,1252.0 1663.0,1251.9 1664.0,1251.8 1665.0,1251.5 1666.0,1251.2 1667.0,1250.9 1668.0,1250.6 1669.0,1250.3 1670.0,1249.9 1671.0,1249.5 1672.0,1249.1 1673.0,1248.9 1674.0,1248.8 1675.0,1249.0 1676.0,1249.8 1677.0,1250.8 1678.0,1251.8 1679.0,1252.7 1680.0,1253.2 1681.0,1253.7 1682.0,1254.2 1683.0,1254.5 1684.0,1254.7 1685.0,1254.7 1686.0,1254.5 1687.0,1254.2 1688.0,1253.8 1689.0,1253.4 1690.0,1253.0 1691.0,1252.7 1692.0,1252.5 1693.0,1252.4 1694.0,1252.3 1695.0,1252.3 1696.0,1252.2 1697.0,1252.2 1698.0,1252.2 1699.0,1252.1 1700.0,1252.1 1701.0,1252.0 1702.0,1252.0 1703.0,1251.9 1704.0,1251.8 1705.0,1251.7 1706.0,1251.3 1707.0,1250.6 1708.0,1249.9 1709.0,1249.2 1710.0,1248.5 1711.0,1247.9 1712.0,1247.2 1713.0,1246.6 1714.0,1246.0 1715.0,1245.6 1716.0,1245.5 1717.0,1245.6 1718.0,1245.9 1719.0,1246.2 1720.0,1246.4 1721.0,1246.7 1722.0,1246.8 1723.0,1246.4 1724.0,1245.4 1725.0,1244.2 1726.0,1242.9 1727.0,1241.8 1728.0,1240.7 1729.0,1239.6 1730.0,1238.6 1731.0,1237.8 1732.0,1237.5 1733.0,1238.0 1734.0,1239.5 1735.0,1241.4 1736.0,1243.6 1737.0,1247.4 1738.0,1252.2 1739.0,1256.5 1740.0,1259.2 1741.0,1261.5 1742.0,1263.7 1743.0,1265.5 1744.0,1266.9 1745.0,1267.8 1746.0,1268.0 1747.0,1267.1 1748.0,1265.6 1749.0,1263.6 1750.0,1261.7 1751.0,1260.2 1752.0,1258.7 1753.0,1257.2 1754.0,1255.8 1755.0,1254.8 1756.0,1254.1 1757.0,1253.7 1758.0,1253.3 1759.0,1253.1 1760.0,1253.0 1761.0,1253.1 1762.0,1253.4 1763.0,1253.8 1764.0,1254.2 1765.0,1254.6 1766.0,1254.9 1767.0,1255.0 1768.0,1255.0 1769.0,1254.8 1770.0,1254.6 1771.0,1254.4 1772.0,1254.1 1773.0,1253.8 1774.0,1253.5 1775.0,1253.1 1776.0,1252.8 1777.0,1252.5 1778.0,1252.2 1779.0,1251.9 1780.0,1251.6 1781.0,1251.3 1782.0,1251.0 1783.0,1250.7 1784.0,1250.3 1785.0,1250.0 1786.0,1249.6 1787.0,1249.2 1788.0,1248.8 1789.0,1248.3 1790.0,1247.7 1791.0,1247.2 1792.0,1246.7 1793.0,1246.4 1794.0,1246.2 1795.0,1246.7 1796.0,1247.8 1797.0,1249.3 1798.0,1250.9 1799.0,1252.4 1800.0,1253.5 1801.0,1254.7 1802.0,1255.9 1803.0,1256.9 1804.0,1257.4 1805.0,1257.5 1806.0,1257.1 1807.0,1256.6 1808.0,1255.8 1809.0,1255.0 1810.0,1254.2 1811.0,1253.5 1812.0,1253.0 1813.0,1252.6 1814.0,1252.3 1815.0,1251.9 1816.0,1251.6 1817.0,1251.3 1818.0,1251.0 1819.0,1250.8 1820.0,1250.5 1821.0,1250.3 1822.0,1250.0 1823.0,1249.7 1824.0,1249.4 1825.0,1249.1 1826.0,1248.8 1827.0,1248.5 1828.0,1248.3 1829.0,1248.1 1830.0,1248.0 1831.0,1248.0 1832.0,1248.2 1833.0,1248.6 1834.0,1249.1 1835.0,1249.8 1836.0,1250.4 1837.0,1251.0 1838.0,1251.7 1839.0,1252.5 1840.0,1253.4 1841.0,1254.2 1842.0,1254.8 1843.0,1255.0 1844.0,1255.0 1845.0,1254.9 1846.0,1254.8 1847.0,1254.7 1848.0,1254.5 1849.0,1254.2 1850.0,1253.8 1851.0,1253.3 1852.0,1252.9 1853.0,1252.5 1854.0,1252.2 1855.0,1252.0 1856.0,1251.8 1857.0,1251.6 1858.0,1251.4 1859.0,1251.2 1860.0,1251.0 1861.0,1250.8 1862.0,1250.6 1863.0,1250.4 1864.0,1250.1 1865.0,1249.7 1866.0,1249.2 1867.0,1248.5 1868.0,1247.8 1869.0,1247.2 1870.0,1246.7 1871.0,1246.3 1872.0,1246.3 1873.0,1246.8 1874.0,1247.8 1875.0,1249.1 1876.0,1250.3 1877.0,1251.2 1878.0,1252.1 1879.0,1252.9 1880.0,1253.4 1881.0,1253.3 1882.0,1251.7 1883.0,1249.2 1884.0,1246.3 1885.0,1243.9 1886.0,1242.3 1887.0,1240.8 1888.0,1239.3 1889.0,1238.0 1890.0,1236.8 1891.0,1235.8 1892.0,1235.2 1893.0,1235.0 1894.0,1235.5 1895.0,1236.8 1896.0,1238.6 1897.0,1240.8 1898.0,1243.0 1899.0,1245.9 1900.0,1249.7 1901.0,1253.8 1902.0,1257.6 1903.0,1260.5 1904.0,1262.8 1905.0,1265.0 1906.0,1266.8 1907.0,1267.9 1908.0,1267.9 1909.0,1267.0 1910.0,1265.5 1911.0,1263.7 1912.0,1262.0 1913.0,1260.5 1914.0,1259.2 1915.0,1257.8 1916.0,1256.5 1917.0,1255.5 1918.0,1255.0 1919.0,1254.8 1920.0,1254.7 1921.0,1254.6 1922.0,1254.5 1923.0,1254.5 1924.0,1254.4 1925.0,1254.3 1926.0,1254.2 1927.0,1254.0 1928.0,1253.8 1929.0,1253.5 1930.0,1253.2 1931.0,1253.0 1932.0,1252.7 1933.0,1252.5 1934.0,1252.3 1935.0,1252.3 1936.0,1252.2 1937.0,1252.2 1938.0,1252.2 1939.0,1252.2 1940.0,1252.2 1941.0,1252.2 1942.0,1252.2 1943.0,1252.2 1944.0,1252.2 1945.0,1252.2 1946.0,1252.2 1947.0,1252.2 1948.0,1252.2 1949.0,1252.2 1950.0,1252.2 1951.0,1252.2 1952.0,1252.2 1953.0,1252.2 1954.0,1252.2 1955.0,1252.2 1956.0,1252.2 1957.0,1252.2 1958.0,1252.2 1959.0,1252.2 1960.0,1252.2 1961.0,1252.2 1962.0,1252.2 1963.0,1252.2 1964.0,1252.2 1965.0,1252.2 1966.0,1252.2 1967.0,1252.2 1968.0,1252.2 1969.0,1252.2 1970.0,1252.2 1971.0,1252.2 1972.0,1252.2 1973.0,1252.2 1974.0,1252.2 1975.0,1252.2 1976.0,1252.2 1977.0,1252.2 1978.0,1252.2 1979.0,1252.2 1980.0,1252.2 1981.0,1252.2 1982.0,1252.2 1983.0,1252.2 1984.0,1252.2 1985.0,1252.2 1986.0,1252.2 1987.0,1252.2 1988.0,1252.2 1989.0,1252.2 1990.0,1252.2 1991.0,1252.2 1992.0,1252.2 1993.0,1252.2 1994.0,1252.2 1995.0,1252.2 1996.0,1252.2 1997.0,1252.2 1998.0,1252.2 1999.0,1252.2 2000.0,1252.2 2001.0,1252.2 2002.0,1252.2 2003.0,1252.2 2004.0,1252.2 2005.0,1252.2 2006.0,1252.2 2007.0,1252.2 2008.0,1252.2 2009.0,1252.2 2010.0,1252.2 2011.0,1252.2 2012.0,1252.2 2013.0,1252.2 2014.0,1252.2 2015.0,1252.2 2016.0,1252.2 2017.0,1252.2 2018.0,1252.2 2019.0,1252.2 2020.0,1252.2 2021.0,1252.2 2022.0,1252.2 2023.0,1252.2 2024.0,1252.2 2025.0,1252.2 2026.0,1252.2 2027.0,1252.2 2028.0,1252.2 2029.0,1252.2 2030.0,1252.2 2031.0,1252.2 2032.0,1252.2 2033.0,1252.2 2034.0,1252.2 2035.0,1252.0 2036.0,1251.8 2037.0,1251.5 2038.0,1251.1 2039.0,1250.7 2040.0,1250.2 2041.0,1249.7 2042.0,1248.9 2043.0,1247.9 2044.0,1246.9 2045.0,1245.8 2046.0,1244.8 2047.0,1244.1 2048.0,1243.4 2049.0,1242.8 2050.0,1242.2 2051.0,1241.8 2052.0,1241.8 2053.0,1242.2 2054.0,1243.1 2055.0,1244.3 2056.0,1245.7 2057.0,1247.1 2058.0,1249.1 2059.0,1251.6 2060.0,1254.1 2061.0,1256.3 2062.0,1257.8 2063.0,1259.0 2064.0,1260.1 2065.0,1261.0 2066.0,1261.6 2067.0,1261.7 2068.0,1261.4 2069.0,1260.6 2070.0,1259.6 2071.0,1258.6 2072.0,1257.6 2073.0,1256.8 2074.0,1256.0 2075.0,1255.3 2076.0,1254.6 2077.0,1253.9 2078.0,1253.3 2079.0,1252.8 2080.0,1252.6 2081.0,1252.5 2082.0,1252.4 2083.0,1252.4 2084.0,1252.4 2085.0,1252.3 2086.0,1252.3 2087.0,1252.3 2088.0,1252.3 2089.0,1252.3 2090.0,1252.2 2091.0,1252.2 2092.0,1252.2 2093.0,1252.2 2094.0,1252.2 2095.0,1252.2 2096.0,1252.2 2097.0,1252.2 2098.0,1252.2 2099.0,1252.2 2100.0,1252.2 2101.0,1252.2 2102.0,1252.2 2103.0,1252.2 2104.0,1252.2 2105.0,1252.2 2106.0,1252.2 2107.0,1252.2 2108.0,1252.2 2109.0,1252.2 2110.0,1252.2 2111.0,1252.2 2112.0,1252.2 2113.0,1252.2 2114.0,1252.2 2115.0,1252.2 2116.0,1252.2 2117.0,1252.2 2118.0,1252.2 2119.0,1252.2 2120.0,1252.2 2121.0,1252.2 2122.0,1252.2 2123.0,1252.2 2124.0,1252.2 2125.0,1252.2 2126.0,1252.2 2127.0,1252.2 2128.0,1252.2 2129.0,1252.2 2130.0,1252.2 2131.0,1252.2 2132.0,1252.2 2133.0,1252.2 2134.0,1252.2 2135.0,1252.2 2136.0,1252.2 2137.0,1252.2 2138.0,1252.2 2139.0,1252.2 2140.0,1252.2 2141.0,1252.2 2142.0,1252.2 2143.0,1252.2 2144.0,1252.2 2145.0,1252.2 2146.0,1252.2 2147.0,1252.2 2148.0,1252.2 2149.0,1252.2 2150.0,1252.2 2151.0,1252.2 2152.0,1252.2 2153.0,1252.2 2154.0,1252.2 2155.0,1252.2 2156.0,1252.2 2157.0,1252.2 2158.0,1252.2 2159.0,1252.2 2160.0,1252.2 2161.0,1252.2 2162.0,1252.2 2163.0,1252.2 2164.0,1252.2 2165.0,1252.2 2166.0,1252.2 2167.0,1252.2 2168.0,1252.2 2169.0,1252.2 2170.0,1252.2 2171.0,1252.2 2172.0,1252.2 2173.0,1252.2 2174.0,1252.2 2175.0,1252.2 2176.0,1252.2 2177.0,1252.2 2178.0,1252.2 2179.0,1252.2 2180.0,1252.2 2181.0,1252.2 2182.0,1252.2 2183.0,1252.2 2184.0,1252.2 2185.0,1252.2 2186.0,1252.2 2187.0,1252.2 2188.0,1252.2 2189.0,1252.2 2190.0,1252.2 2191.0,1252.2 2192.0,1252.2 2193.0,1252.2 2194.0,1252.2 2195.0,1252.2 2196.0,1252.2 2197.0,1252.2 2198.0,1252.2 2199.0,1252.2 2200.0,1252.2 2201.0,1252.2 2202.0,1252.2 2203.0,1252.2 2204.0,1252.2 2205.0,1252.2 2206.0,1252.2 2207.0,1252.2 2208.0,1252.2 2209.0,1252.2 2210.0,1252.2 2211.0,1252.2 2212.0,1252.2 2213.0,1252.2 2214.0,1252.2 2215.0,1252.2 2216.0,1252.2 2217.0,1252.2 2218.0,1252.2 2219.0,1252.2 2220.0,1252.2 2221.0,1252.2 2222.0,1252.2 2223.0,1252.2 2224.0,1252.2 2225.0,1252.2 2226.0,1252.2 2227.0,1252.2 2228.0,1252.2 2229.0,1252.2 2230.0,1252.2 2231.0,1252.2 2232.0,1252.2 2233.0,1252.2 2234.0,1252.2 2235.0,1252.2 2236.0,1252.2 2237.0,1252.2 2238.0,1252.2 2239.0,1252.2 2240.0,1252.2 2241.0,1252.2 2242.0,1252.2 2243.0,1252.2 2244.0,1252.2 2245.0,1252.2 2246.0,1252.2 2247.0,1252.2 2248.0,1252.2 2249.0,1252.2 2250.0,1252.2 2251.0,1252.2 2252.0,1252.2 2253.0,1252.2 2254.0,1252.2 2255.0,1252.2 2256.0,1252.2 2257.0,1252.2 2258.0,1252.2 2259.0,1252.2 2260.0,1252.2 2261.0,1252.2 2262.0,1252.2 2263.0,1252.2 2264.0,1252.2 2265.0,1252.2 2266.0,1252.2 2267.0,1252.2 2268.0,1252.2 2269.0,1252.2 2270.0,1252.2 2271.0,1252.2 2272.0,1252.2 2273.0,1252.2 2274.0,1252.2 2275.0,1252.2 2276.0,1252.2 2277.0,1252.2 2278.0,1252.2 2279.0,1252.2 2280.0,1252.2 2281.0,1252.2 2282.0,1252.2 2283.0,1252.2 2284.0,1252.2 2285.0,1252.2 2286.0,1252.2 2287.0,1252.2 2288.0,1252.2 2289.0,1252.2 2290.0,1252.2 2291.0,1252.2 2292.0,1252.2 2293.0,1252.2 2294.0,1252.2 2295.0,1252.2 2296.0,1252.2 2297.0,1252.2 2298.0,1252.2 2299.0,1252.2 2300.0,1252.2 2301.0,1252.2 2302.0,1252.2 2303.0,1252.2 2304.0,1252.2 2305.0,1252.2 2306.0,1252.2 2307.0,1252.2 2308.0,1252.2 2309.0,1252.2 2310.0,1252.2 2311.0,1252.2 2312.0,1252.2 2313.0,1252.2 2314.0,1252.2 2315.0,1252.2 2316.0,1252.2 2317.0,1252.2 2318.0,1252.2 2319.0,1252.2 2320.0,1252.2 2321.0,1252.2 2322.0,1252.2 2323.0,1252.2 2324.0,1252.2 2325.0,1252.2 2326.0,1252.2 2327.0,1252.2 2328.0,1252.2 2329.0,1252.2 2330.0,1252.2 2331.0,1252.2 2332.0,1252.2 2333.0,1252.2 2334.0,1252.2 2335.0,1252.2 2336.0,1252.2 2337.0,1252.2 2338.0,1252.2 2339.0,1252.2 2340.0,1252.2 2341.0,1252.2 2342.0,1252.2 2343.0,1252.2 2344.0,1252.2 2345.0,1252.2 2346.0,1252.2 2347.0,1252.2 2348.0,1252.2 2349.0,1252.2 2350.0,1252.2 2351.0,1252.2 2352.0,1252.2 2353.0,1252.2 2354.0,1252.2 2355.0,1252.2 2356.0,1252.2 2357.0,1252.2 2358.0,1252.2 2359.0,1252.2 2360.0,1252.2 2361.0,1252.2 2362.0,1252.2 2363.0,1252.2 2364.0,1252.2 2365.0,1252.2 2366.0,1252.2 2367.0,1252.2 2368.0,1252.2 2369.0,1252.2 2370.0,1252.2 2371.0,1252.2 2372.0,1252.2 2373.0,1252.2 2374.0,1252.2 2375.0,1252.2 2376.0,1252.2 2377.0,1252.2 2378.0,1252.2 2379.0,1252.2 2380.0,1252.2 2381.0,1252.2 2382.0,1252.2 2383.0,1252.2 2384.0,1252.2 2385.0,1252.2 2386.0,1252.2 2387.0,1252.2 2388.0,1252.2 2389.0,1252.2 2390.0,1252.2 2391.0,1252.2 2392.0,1252.2 2393.0,1252.2 2394.0,1252.2 2395.0,1252.2 2396.0,1252.2 2397.0,1252.2 2398.0,1252.2 2399.0,1252.2 2400.0,1252.2 2401.0,1252.2 2402.0,1252.2" fill="none" stroke="#00ff00" stroke-width="3.7" stroke-linejoin="round" stroke-linecap="round"/>
<path d="M1334.0,1406.7 1335.0,1406.9 1336.0,1406.8 1337.0,1406.6 1338.0,1406.5 1339.0,1406.6 1340.0,1407.3 1341.0,1408.3 1342.0,1409.2 1343.0,1409.5 1344.0,1409.3 1345.0,1409.3 1346.0,1409.7 1347.0,1410.6 1348.0,1411.5 1349.0,1412.1 1350.0,1412.5 1351.0,1412.5 1352.0,1412.0 1353.0,1411.3 1354.0,1411.2 1355.0,1411.9 1356.0,1412.8 1357.0,1413.2 1358.0,1413.0 1359.0,1412.7 1360.0,1412.7 1361.0,1413.2 1362.0,1413.8 1363.0,1413.9 1364.0,1413.7 1365.0,1413.2 1366.0,1412.7 1367.0,1412.4 1368.0,1412.0 1369.0,1411.8 1370.0,1411.7 1371.0,1411.5 1372.0,1411.3 1373.0,1411.3 1374.0,1411.3 1375.0,1411.4 1376.0,1411.4 1377.0,1411.5 1378.0,1411.6 1379.0,1412.0 1380.0,1412.5 1381.0,1413.1 1382.0,1413.6 1383.0,1413.8 1384.0,1413.4 1385.0,1412.2 1386.0,1411.1 1387.0,1410.9 1388.0,1411.6 1389.0,1412.6 1390.0,1412.9 1391.0,1412.6 1392.0,1412.0 1393.0,1411.5 1394.0,1411.2 1395.0,1411.3 1396.0,1411.6 1397.0,1412.0 1398.0,1412.3 1399.0,1412.4 1400.0,1412.2 1401.0,1411.9 1402.0,1411.3 1403.0,1410.6 1404.0,1410.4 1405.0,1410.8 1406.0,1411.4 1407.0,1411.9 1408.0,1412.0 1409.0,1412.0 1410.0,1411.7 1411.0,1411.1 1412.0,1410.4 1413.0,1409.9 1414.0,1409.8 1415.0,1409.8 1416.0,1409.5 1417.0,1409.0 1418.0,1408.7 1419.0,1409.1 1420.0,1409.9 1421.0,1410.7 1422.0,1410.8 1423.0,1410.4 1424.0,1409.9 1425.0,1409.5 1426.0,1409.3 1427.0,1409.3 1428.0,1409.6 1429.0,1410.0 1430.0,1410.1 1431.0,1410.1 1432.0,1410.1 1433.0,1410.1 1434.0,1410.1 1435.0,1410.2 1436.0,1410.2 1437.0,1410.2 1438.0,1410.5 1439.0,1411.5 1440.0,1412.9 1441.0,1413.9 1442.0,1413.8 1443.0,1413.1 1444.0,1412.4 1445.0,1411.9 1446.0,1411.6 1447.0,1411.4 1448.0,1411.2 1449.0,1410.7 1450.0,1410.3 1451.0,1410.4 1452.0,1410.9 1453.0,1411.6 1454.0,1412.1 1455.0,1412.4 1456.0,1412.4 1457.0,1412.4 1458.0,1412.6 1459.0,1413.1 1460.0,1413.4 1461.0,1413.6 1462.0,1413.4 1463.0,1413.0 1464.0,1412.8 1465.0,1412.7 1466.0,1412.7 1467.0,1412.7 1468.0,1412.8 1469.0,1412.6 1470.0,1412.2 1471.0,1411.7 1472.0,1411.4 1473.0,1411.4 1474.0,1411.8 1475.0,1412.4 1476.0,1413.0 1477.0,1413.5 1478.0,1413.6 1479.0,1413.2 1480.0,1412.4 1481.0,1411.5 1482.0,1410.5 1483.0,1409.8 1484.0,1409.5 1485.0,1409.4 1486.0,1409.5 1487.0,1409.3 1488.0,1408.8 1489.0,1408.3 1490.0,1408.1 1491.0,1408.5 1492.0,1409.0 1493.0,1409.5 1494.0,1409.7 1495.0,1409.4 1496.0,1409.0 1497.0,1408.5 1498.0,1408.1 1499.0,1407.8 1500.0,1407.7 1501.0,1407.8 1502.0,1407.7 1503.0,1407.7 1504.0,1407.8 1505.0,1408.1 1506.0,1408.5 1507.0,1409.3 1508.0,1410.2 1509.0,1410.6 1510.0,1410.6 1511.0,1410.4 1512.0,1410.5 1513.0,1410.6 1514.0,1410.6 1515.0,1410.1 1516.0,1409.5 1517.0,1408.9 1518.0,1408.4 1519.0,1408.2 1520.0,1408.2 1521.0,1407.7 1522.0,1406.9 1523.0,1405.9 1524.0,1405.1 1525.0,1404.5 1526.0,1403.9 1527.0,1403.5 1528.0,1403.7 1529.0,1404.7 1530.0,1406.0 1531.0,1407.2 1532.0,1408.0 1533.0,1408.7 1534.0,1409.6 1535.0,1410.4 1536.0,1411.2 1537.0,1411.5 1538.0,1411.5 1539.0,1411.6 1540.0,1412.5 1541.0,1414.6 1542.0,1417.3 1543.0,1420.0 1544.0,1421.8 1545.0,1422.2 1546.0,1419.9 1547.0,1415.7 1548.0,1412.7 1549.0,1412.0 1550.0,1411.7 1551.0,1411.7 1552.0,1411.8 1553.0,1411.9 1554.0,1412.0 1555.0,1412.0 1556.0,1411.9 1557.0,1411.3 1558.0,1410.3 1559.0,1409.0 1560.0,1407.4 1561.0,1405.8 1562.0,1403.1 1563.0,1399.5 1564.0,1395.4 1565.0,1391.3 1566.0,1387.3 1567.0,1382.0 1568.0,1375.9 1569.0,1370.3 1570.0,1366.3 1571.0,1362.6 1572.0,1359.2 1573.0,1356.1 1574.0,1353.9 1575.0,1352.9 1576.0,1353.1 1577.0,1355.2 1578.0,1358.9 1579.0,1363.8 1580.0,1369.6 1581.0,1378.4 1582.0,1389.0 1583.0,1399.5 1584.0,1409.3 1585.0,1420.1 1586.0,1430.6 1587.0,1439.4 1588.0,1446.9 1589.0,1454.1 1590.0,1460.5 1591.0,1465.3 1592.0,1468.0 1593.0,1468.1 1594.0,1465.8 1595.0,1461.9 1596.0,1457.4 1597.0,1452.7 1598.0,1447.2 1599.0,1440.3 1600.0,1433.1 1601.0,1426.9 1602.0,1422.7 1603.0,1419.8 1604.0,1416.9 1605.0,1414.3 1606.0,1412.5 1607.0,1411.6 1608.0,1411.0 1609.0,1410.1 1610.0,1409.2 1611.0,1408.7 1612.0,1408.9 1613.0,1409.2 1614.0,1409.3 1615.0,1409.1 1616.0,1408.9 1617.0,1409.0 1618.0,1409.5 1619.0,1410.3 1620.0,1411.2 1621.0,1411.8 1622.0,1412.1 1623.0,1412.1 1624.0,1411.9 1625.0,1411.6 1626.0,1411.3 1627.0,1411.5 1628.0,1412.1 1629.0,1413.1 1630.0,1413.7 1631.0,1413.7 1632.0,1413.1 1633.0,1412.3 1634.0,1412.0 1635.0,1412.3 1636.0,1412.8 1637.0,1413.2 1638.0,1413.1 1639.0,1412.6 1640.0,1411.6 1641.0,1410.4 1642.0,1409.3 1643.0,1409.1 1644.0,1409.7 1645.0,1410.5 1646.0,1411.0 1647.0,1411.2 1648.0,1411.1 1649.0,1410.9 1650.0,1410.8 1651.0,1410.8 1652.0,1411.1 1653.0,1411.3 1654.0,1411.3 1655.0,1410.9 1656.0,1410.6 1657.0,1410.6 1658.0,1410.7 1659.0,1410.5 1660.0,1409.8 1661.0,1408.8 1662.0,1407.9 1663.0,1407.4 1664.0,1407.1 1665.0,1407.3 1666.0,1408.3 1667.0,1409.7 1668.0,1411.1 1669.0,1412.1 1670.0,1412.5 1671.0,1412.4 1672.0,1411.9 1673.0,1411.6 1674.0,1411.5 1675.0,1411.5 1676.0,1411.4 1677.0,1411.1 1678.0,1410.9 1679.0,1411.1 1680.0,1411.4 1681.0,1411.3 1682.0,1410.7 1683.0,1409.6 1684.0,1408.5 1685.0,1407.6 1686.0,1407.2 1687.0,1407.1 1688.0,1407.0 1689.0,1406.4 1690.0,1405.7 1691.0,1405.2 1692.0,1405.0 1693.0,1405.0 1694.0,1405.4 1695.0,1405.8 1696.0,1406.0 1697.0,1405.9 1698.0,1405.6 1699.0,1405.4 1700.0,1405.7 1701.0,1406.6 1702.0,1408.1 1703.0,1409.9 1704.0,1411.4 1705.0,1412.5 1706.0,1413.2 1707.0,1413.8 1708.0,1415.6 1709.0,1418.0 1710.0,1418.2 1711.0,1417.6 1712.0,1416.7 1713.0,1415.2 1714.0,1413.3 1715.0,1411.5 1716.0,1410.3 1717.0,1409.6 1718.0,1408.8 1719.0,1407.4 1720.0,1405.1 1721.0,1402.0 1722.0,1393.6 1723.0,1381.3 1724.0,1368.5 1725.0,1357.7 1726.0,1346.5 1727.0,1335.8 1728.0,1326.9 1729.0,1319.9 1730.0,1313.1 1731.0,1307.0 1732.0,1302.4 1733.0,1299.3 1734.0,1297.8 1735.0,1298.6 1736.0,1302.5 1737.0,1309.4 1738.0,1318.8 1739.0,1331.1 1740.0,1349.1 1741.0,1369.5 1742.0,1389.5 1743.0,1409.5 1744.0,1430.6 1745.0,1450.8 1746.0,1468.6 1747.0,1485.3 1748.0,1498.9 1749.0,1507.9 1750.0,1515.9 1751.0,1521.6 1752.0,1523.4 1753.0,1520.5 1754.0,1514.3 1755.0,1506.6 1756.0,1498.6 1757.0,1488.6 1758.0,1477.5 1759.0,1466.8 1760.0,1457.6 1761.0,1448.3 1762.0,1439.3 1763.0,1431.4 1764.0,1425.3 1765.0,1421.3 1766.0,1417.6 1767.0,1414.0 1768.0,1410.9 1769.0,1408.8 1770.0,1408.1 1771.0,1407.9 1772.0,1408.1 1773.0,1408.5 1774.0,1408.7 1775.0,1408.8 1776.0,1409.2 1777.0,1410.3 1778.0,1411.8 1779.0,1413.3 1780.0,1414.6 1781.0,1415.8 1782.0,1417.0 1783.0,1418.2 1784.0,1419.5 1785.0,1420.3 1786.0,1420.4 1787.0,1419.8 1788.0,1418.9 1789.0,1418.3 1790.0,1418.1 1791.0,1417.7 1792.0,1417.1 1793.0,1416.4 1794.0,1415.6 1795.0,1415.1 1796.0,1414.6 1797.0,1414.1 1798.0,1413.9 1799.0,1413.9 1800.0,1413.9 1801.0,1413.5 1802.0,1412.8 1803.0,1412.5 1804.0,1412.6 1805.0,1412.9 1806.0,1412.9 1807.0,1412.1 1808.0,1411.1 1809.0,1410.6 1810.0,1410.6 1811.0,1410.5 1812.0,1410.3 1813.0,1410.2 1814.0,1410.4 1815.0,1410.5 1816.0,1410.6 1817.0,1410.7 1818.0,1410.8 1819.0,1410.5 1820.0,1409.4 1821.0,1408.2 1822.0,1407.3 1823.0,1407.5 1824.0,1408.9 1825.0,1411.0 1826.0,1412.9 1827.0,1414.4 1828.0,1415.2 1829.0,1415.6 1830.0,1415.7 1831.0,1415.7 1832.0,1415.5 1833.0,1415.0 1834.0,1414.8 1835.0,1415.1 1836.0,1415.6 1837.0,1415.6 1838.0,1414.8 1839.0,1413.8 1840.0,1412.9 1841.0,1412.3 1842.0,1411.7 1843.0,1411.1 1844.0,1410.5 1845.0,1410.0 1846.0,1409.7 1847.0,1409.2 1848.0,1408.6 1849.0,1407.9 1850.0,1407.5 1851.0,1407.3 1852.0,1406.9 1853.0,1406.3 1854.0,1405.9 1855.0,1406.0 1856.0,1406.6 1857.0,1407.3 1858.0,1407.7 1859.0,1408.1 1860.0,1408.6 1861.0,1409.5 1862.0,1410.8 1863.0,1412.0 1864.0,1412.8 1865.0,1413.6 1866.0,1414.7 1867.0,1416.2 1868.0,1417.7 1869.0,1418.9 1870.0,1419.4 1871.0,1419.2 1872.0,1418.4 1873.0,1417.5 1874.0,1417.2 1875.0,1417.3 1876.0,1417.1 1877.0,1416.6 1878.0,1415.5 1879.0,1413.6 1880.0,1410.5 1881.0,1406.5 1882.0,1401.1 1883.0,1394.9 1884.0,1388.3 1885.0,1380.6 1886.0,1370.7 1887.0,1360.2 1888.0,1350.7 1889.0,1341.7 1890.0,1332.5 1891.0,1324.6 1892.0,1318.2 1893.0,1313.4 1894.0,1310.9 1895.0,1311.2 1896.0,1313.7 1897.0,1317.9 1898.0,1323.4 1899.0,1330.0 1900.0,1339.1 1901.0,1353.4 1902.0,1370.7 1903.0,1388.3 1904.0,1406.9 1905.0,1427.6 1906.0,1448.2 1907.0,1466.7 1908.0,1484.4 1909.0,1499.1 1910.0,1509.5 1911.0,1518.2 1912.0,1522.8 1913.0,1521.5 1914.0,1516.2 1915.0,1508.6 1916.0,1500.5 1917.0,1490.1 1918.0,1477.2 1919.0,1465.3 1920.0,1456.1 1921.0,1447.2 1922.0,1438.8 1923.0,1431.4 1924.0,1425.7 1925.0,1421.7 1926.0,1418.3 1927.0,1415.6 1928.0,1413.5 1929.0,1412.1 1930.0,1411.2 1931.0,1410.6 1932.0,1409.9 1933.0,1409.1 1934.0,1408.7 1935.0,1408.6 1936.0,1408.9 1937.0,1409.6 1938.0,1410.5 1939.0,1411.0 1940.0,1411.1 1941.0,1411.0 1942.0,1411.0 1943.0,1411.3 1944.0,1412.1 1945.0,1413.1 1946.0,1414.3 1947.0,1415.9 1948.0,1417.5 1949.0,1418.8 1950.0,1419.6 1951.0,1420.3 1952.0,1420.7 1953.0,1420.5 1954.0,1419.7 1955.0,1418.5 1956.0,1417.0 1957.0,1415.4 1958.0,1414.1 1959.0,1413.5 1960.0,1413.7 1961.0,1414.4 1962.0,1414.8 1963.0,1414.8 1964.0,1414.5 1965.0,1414.0 1966.0,1413.4 1967.0,1412.7 1968.0,1412.0 1969.0,1411.5 1970.0,1411.7 1971.0,1412.4 1972.0,1413.0 1973.0,1413.1 1974.0,1412.8 1975.0,1412.6 1976.0,1412.7 1977.0,1413.0 1978.0,1413.3 1979.0,1413.6 1980.0,1413.7 1981.0,1413.9 1982.0,1414.1 1983.0,1414.0 1984.0,1414.0 1985.0,1413.9 1986.0,1413.7 1987.0,1413.3 1988.0,1413.3 1989.0,1413.9 1990.0,1414.8 1991.0,1415.9 1992.0,1416.8 1993.0,1417.2 1994.0,1416.8 1995.0,1415.9 1996.0,1415.0 1997.0,1414.3 1998.0,1413.8 1999.0,1413.4 2000.0,1413.3 2001.0,1413.2 2002.0,1412.8 2003.0,1412.1 2004.0,1411.7 2005.0,1411.9 2006.0,1412.6 2007.0,1413.2 2008.0,1413.5 2009.0,1413.8 2010.0,1413.9 2011.0,1413.4 2012.0,1412.5 2013.0,1411.3 2014.0,1410.1 2015.0,1409.1 2016.0,1408.4 2017.0,1408.2 2018.0,1408.4 2019.0,1409.0 2020.0,1410.1 2021.0,1411.0 2022.0,1411.8 2023.0,1412.4 2024.0,1413.3 2025.0,1414.4 2026.0,1415.2 2027.0,1415.4 2028.0,1415.0 2029.0,1414.5 2030.0,1414.2 2031.0,1414.0 2032.0,1413.5 2033.0,1412.9 2034.0,1412.7 2035.0,1412.9 2036.0,1412.7 2037.0,1411.8 2038.0,1410.1 2039.0,1408.1 2040.0,1406.0 2041.0,1403.9 2042.0,1401.4 2043.0,1398.3 2044.0,1392.8 2045.0,1385.3 2046.0,1378.7 2047.0,1374.6 2048.0,1370.8 2049.0,1366.1 2050.0,1361.4 2051.0,1357.5 2052.0,1355.2 2053.0,1354.3 2054.0,1354.9 2055.0,1356.5 2056.0,1359.0 2057.0,1362.1 2058.0,1365.5 2059.0,1371.3 2060.0,1380.7 2061.0,1391.8 2062.0,1402.1 2063.0,1412.3 2064.0,1422.7 2065.0,1432.3 2066.0,1440.4 2067.0,1448.4 2068.0,1455.6 2069.0,1461.2 2070.0,1465.3 2071.0,1467.8 2072.0,1467.8 2073.0,1464.8 2074.0,1459.6 2075.0,1453.5 2076.0,1447.8 2077.0,1441.3 2078.0,1434.5 2079.0,1428.7 2080.0,1424.7 2081.0,1422.7 2082.0,1420.7 2083.0,1418.5 2084.0,1416.4 2085.0,1414.8 2086.0,1413.7 2087.0,1412.5 2088.0,1411.3 2089.0,1410.3 2090.0,1409.8 2091.0,1409.9 2092.0,1410.0 2093.0,1410.1 2094.0,1410.0 2095.0,1409.6 2096.0,1409.0 2097.0,1408.2 2098.0,1407.4 2099.0,1406.4 2100.0,1405.9 2101.0,1406.2 2102.0,1406.9 2103.0,1407.6 2104.0,1408.0 2105.0,1408.3 2106.0,1408.4 2107.0,1408.6 2108.0,1409.0 2109.0,1409.5 2110.0,1410.0 2111.0,1410.9 2112.0,1412.4 2113.0,1414.0 2114.0,1415.3 2115.0,1416.0 2116.0,1416.8 2117.0,1417.9 2118.0,1419.2 2119.0,1420.1 2120.0,1420.3 2121.0,1419.7 2122.0,1418.7 2123.0,1417.5 2124.0,1416.3 2125.0,1414.9 2126.0,1413.5 2127.0,1412.7 2128.0,1412.6 2129.0,1412.7 2130.0,1412.6 2131.0,1412.5 2132.0,1412.7 2133.0,1413.0 2134.0,1413.1 2135.0,1412.7 2136.0,1412.1 2137.0,1412.0 2138.0,1412.4 2139.0,1412.9 2140.0,1413.2 2141.0,1413.2 2142.0,1413.2 2143.0,1413.0 2144.0,1412.7 2145.0,1412.3 2146.0,1412.2 2147.0,1412.7 2148.0,1413.4 2149.0,1413.9 2150.0,1414.0 2151.0,1413.7 2152.0,1413.1 2153.0,1412.8 2154.0,1412.8 2155.0,1413.1 2156.0,1413.2 2157.0,1412.8 2158.0,1411.8 2159.0,1410.7 2160.0,1410.2 2161.0,1410.1 2162.0,1410.2 2163.0,1410.4 2164.0,1410.7 2165.0,1410.9 2166.0,1410.8 2167.0,1410.4 2168.0,1410.4 2169.0,1410.9 2170.0,1412.0 2171.0,1413.0 2172.0,1413.5 2173.0,1413.5 2174.0,1413.1 2175.0,1412.6 2176.0,1412.0 2177.0,1411.3 2178.0,1411.0 2179.0,1411.4 2180.0,1412.5 2181.0,1413.4 2182.0,1413.5 2183.0,1413.0 2184.0,1412.4 2185.0,1411.8 2186.0,1411.5 2187.0,1411.3 2188.0,1411.5 2189.0,1412.0 2190.0,1412.6 2191.0,1412.7 2192.0,1412.3 2193.0,1411.7 2194.0,1411.2 2195.0,1410.9 2196.0,1410.7 2197.0,1410.4 2198.0,1410.1 2199.0,1409.7 2200.0,1409.2 2201.0,1409.0 2202.0,1409.1 2203.0,1409.7 2204.0,1410.5 2205.0,1411.4 2206.0,1412.2 2207.0,1412.5 2208.0,1412.1 2209.0,1411.5 2210.0,1410.9 2211.0,1410.5 2212.0,1410.3 2213.0,1410.2 2214.0,1410.2 2215.0,1410.4 2216.0,1410.9 2217.0,1411.4 2218.0,1411.8 2219.0,1412.2 2220.0,1412.7 2221.0,1413.0 2222.0,1412.7 2223.0,1411.9 2224.0,1410.9 2225.0,1410.4 2226.0,1410.2 2227.0,1410.1 2228.0,1409.7 2229.0,1409.0 2230.0,1408.4 2231.0,1408.2 2232.0,1408.3 2233.0,1408.6 2234.0,1408.6 2235.0,1408.4 2236.0,1408.2 2237.0,1408.3 2238.0,1408.7 2239.0,1409.1 2240.0,1409.5 2241.0,1409.8 2242.0,1410.0 2243.0,1409.7 2244.0,1409.0 2245.0,1408.4 2246.0,1408.4 2247.0,1408.9 2248.0,1409.3 2249.0,1409.3 2250.0,1409.0 2251.0,1408.6 2252.0,1408.3 2253.0,1408.3 2254.0,1408.5 2255.0,1408.8 2256.0,1409.2 2257.0,1409.5 2258.0,1409.6 2259.0,1409.7 2260.0,1409.7 2261.0,1409.6 2262.0,1409.3 2263.0,1408.8 2264.0,1408.3 2265.0,1407.9 2266.0,1408.0 2267.0,1408.3 2268.0,1408.7 2269.0,1409.0 2270.0,1409.2 2271.0,1409.9 2272.0,1411.1 2273.0,1412.2 2274.0,1412.8 2275.0,1412.6 2276.0,1412.0 2277.0,1411.4 2278.0,1411.2 2279.0,1411.3 2280.0,1411.3 2281.0,1411.2 2282.0,1411.2 2283.0,1411.2 2284.0,1411.2 2285.0,1411.4 2286.0,1411.8 2287.0,1412.1 2288.0,1412.4 2289.0,1412.8 2290.0,1413.7 2291.0,1414.6 2292.0,1415.2 2293.0,1415.0 2294.0,1414.1 2295.0,1413.1 2296.0,1412.5 2297.0,1412.6 2298.0,1413.1 2299.0,1413.4 2300.0,1413.0 2301.0,1412.3 2302.0,1411.6 2303.0,1411.1 2304.0,1410.9 2305.0,1410.7 2306.0,1410.6 2307.0,1410.4 2308.0,1409.8 2309.0,1409.0 2310.0,1408.4 2311.0,1408.6 2312.0,1409.4 2313.0,1410.2 2314.0,1410.6 2315.0,1410.7 2316.0,1410.5 2317.0,1409.6 2318.0,1408.5 2319.0,1407.7 2320.0,1407.7 2321.0,1408.1 2322.0,1408.6 2323.0,1408.8 2324.0,1408.8 2325.0,1409.0 2326.0,1409.6 2327.0,1410.5 2328.0,1411.2 2329.0,1411.5 2330.0,1411.3 2331.0,1411.2 2332.0,1411.2 2333.0,1411.5 2334.0,1411.8 2335.0,1411.8 2336.0,1412.0 2337.0,1412.5 2338.0,1413.3 2339.0,1413.9 2340.0,1414.2 2341.0,1414.4 2342.0,1414.7 2343.0,1415.1 2344.0,1415.8 2345.0,1416.5 2346.0,1417.2 2347.0,1418.0 2348.0,1419.1 2349.0,1420.2 2350.0,1420.8 2351.0,1420.3 2352.0,1418.6 2353.0,1416.7 2354.0,1415.6 2355.0,1415.3 2356.0,1415.3 2357.0,1415.2 2358.0,1414.8 2359.0,1414.3 2360.0,1413.9 2361.0,1413.8 2362.0,1413.8 2363.0,1413.7 2364.0,1413.5 2365.0,1413.4 2366.0,1413.4 2367.0,1413.3 2368.0,1413.1 2369.0,1413.2 2370.0,1413.6 2371.0,1414.2 2372.0,1414.4 2373.0,1414.0 2374.0,1413.1 2375.0,1412.4 2376.0,1412.2 2377.0,1412.5 2378.0,1412.7 2379.0,1412.6 2380.0,1412.6 2381.0,1412.9 2382.0,1413.5 2383.0,1413.8 2384.0,1413.7 2385.0,1413.3 2386.0,1413.2 2387.0,1413.6 2388.0,1414.3 2389.0,1414.7 2390.0,1414.3 2391.0,1413.4 2392.0,1413.0 2393.0,1413.4 2394.0,1414.4 2395.0,1415.3 2396.0,1415.4 2397.0,1414.8 2398.0,1413.9 2399.0,1413.1 2400.0,1412.6 2401.0,1412.6 2402.0,1412.9" fill="none" stroke="#0000ff" stroke-width="3.1" stroke-linejoin="round" stroke-linecap="round"/>
<path d="M1334.0,1580.0 1335.0,1580.0 1336.0,1580.0 1337.0,1580.0 1338.0,1580.0 1339.0,1580.0 1340.0,1580.0 1341.0,1580.0 1342.0,1580.0 1343.0,1580.0 1344.0,1580.0 1345.0,1580.0 1346.0,1580.0 1347.0,1580.0 1348.0,1580.0 1349.0,1580.0 1350.0,1580.0 1351.0,1580.0 1352.0,1580.0 1353.0,1580.0 1354.0,1580.0 1355.0,1580.0 1356.0,1580.0 1357.0,1580.0 1358.0,1580.0 1359.0,1580.0 1360.0,1580.0 1361.0,1580.0 1362.0,1580.0 1363.0,1580.0 1364.0,1580.0 1365.0,1580.0 1366.0,1580.0 1367.0,1580.0 1368.0,1580.0 1369.0,1580.0 1370.0,1580.0 1371.0,1580.0 1372.0,1580.0 1373.0,1580.0 1374.0,1580.0 1375.0,1580.0 1376.0,1580.0 1377.0,1580.0 1378.0,1580.0 1379.0,1580.0 1380.0,1580.0 1381.0,1580.0 1382.0,1580.0 1383.0,1580.0 1384.0,1580.0 1385.0,1580.0 1386.0,1580.0 1387.0,1580.0 1388.0,1580.0 1389.0,1580.0 1390.0,1580.0 1391.0,1580.0 1392.0,1580.0 1393.0,1580.0 1394.0,1580.0 1395.0,1580.0 1396.0,1580.0 1397.0,1580.0 1398.0,1580.0 1399.0,1580.0 1400.0,1580.0 1401.0,1580.0 1402.0,1580.0 1403.0,1580.0 1404.0,1580.0 1405.0,1580.0 1406.0,1580.0 1407.0,1580.0 1408.0,1580.0 1409.0,1580.0 1410.0,1580.0 1411.0,1580.0 1412.0,1580.0 1413.0,1580.0 1414.0,1580.0 1415.0,1580.0 1416.0,1580.0 1417.0,1580.0 1418.0,1580.0 1419.0,1580.0 1420.0,1580.0 1421.0,1580.0 1422.0,1580.0 1423.0,1580.0 1424.0,1580.0 1425.0,1580.0 1426.0,1580.0 1427.0,1580.0 1428.0,1580.0 1429.0,1580.0 1430.0,1580.0 1431.0,1580.0 1432.0,1580.0 1433.0,1580.0 1434.0,1580.0 1435.0,1580.0 1436.0,1580.0 1437.0,1580.0 1438.0,1580.0 1439.0,1580.0 1440.0,1580.0 1441.0,1580.0 1442.0,1580.0 1443.0,1580.0 1444.0,1580.0 1445.0,1580.0 1446.0,1580.0 1447.0,1580.0 1448.0,1580.0 1449.0,1580.0 1450.0,1580.0 1451.0,1580.0 1452.0,1580.0 1453.0,1580.0 1454.0,1580.0 1455.0,1580.0 1456.0,1580.0 1457.0,1580.0 1458.0,1580.0 1459.0,1580.0 1460.0,1580.0 1461.0,1580.0 1462.0,1580.0 1463.0,1580.0 1464.0,1580.0 1465.0,1580.0 1466.0,1580.0 1467.0,1580.0 1468.0,1580.0 1469.0,1580.0 1470.0,1580.0 1471.0,1580.0 1472.0,1580.0 1473.0,1580.0 1474.0,1580.0 1475.0,1580.0 1476.0,1580.0 1477.0,1580.0 1478.0,1580.0 1479.0,1580.0 1480.0,1580.0 1481.0,1580.0 1482.0,1580.0 1483.0,1580.0 1484.0,1580.0 1485.0,1580.0 1486.0,1580.0 1487.0,1580.0 1488.0,1580.0 1489.0,1580.0 1490.0,1580.0 1491.0,1580.0 1492.0,1580.0 1493.0,1580.0 1494.0,1580.0 1495.0,1580.0 1496.0,1580.0 1497.0,1580.0 1498.0,1580.0 1499.0,1580.0 1500.0,1580.0 1501.0,1580.0 1502.0,1580.0 1503.0,1580.0 1504.0,1580.0 1505.0,1580.0 1506.0,1580.0 1507.0,1580.0 1508.0,1580.0 1509.0,1580.0 1510.0,1580.0 1511.0,1580.0 1512.0,1580.0 1513.0,1580.0 1514.0,1580.0 1515.0,1580.0 1516.0,1580.0 1517.0,1580.0 1518.0,1580.0 1519.0,1580.0 1520.0,1580.0 1521.0,1580.0 1522.0,1580.0 1523.0,1580.0 1524.0,1580.0 1525.0,1580.0 1526.0,1580.0 1527.0,1580.0 1528.0,1580.0 1529.0,1580.0 1530.0,1580.0 1531.0,1580.0 1532.0,1580.0 1533.0,1580.0 1534.0,1580.0 1535.0,1580.0 1536.0,1580.0 1537.0,1580.0 1538.0,1580.0 1539.0,1580.0 1540.0,1580.0 1541.0,1580.0 1542.0,1580.0 1543.0,1580.0 1544.0,1580.0 1545.0,1580.0 1546.0,1580.0 1547.0,1580.0 1548.0,1580.0 1549.0,1580.0 1550.0,1580.0 1551.0,1580.0 1552.0,1580.0 1553.0,1580.0 1554.0,1580.0 1555.0,1580.0 1556.0,1579.9 1557.0,1579.7 1558.0,1579.5 1559.0,1579.3 1560.0,1578.9 1561.0,1578.6 1562.0,1578.2 1563.0,1577.8 1564.0,1577.0 1565.0,1576.1 1566.0,1575.2 1567.0,1574.3 1568.0,1573.4 1569.0,1572.7 1570.0,1572.3 1571.0,1571.9 1572.0,1571.5 1573.0,1571.1 1574.0,1570.8 1575.0,1570.6 1576.0,1570.5 1577.0,1570.7 1578.0,1571.5 1579.0,1572.6 1580.0,1574.0 1581.0,1575.4 1582.0,1577.2 1583.0,1579.5 1584.0,1581.9 1585.0,1583.9 1586.0,1585.3 1587.0,1586.4 1588.0,1587.5 1589.0,1588.5 1590.0,1589.3 1591.0,1589.8 1592.0,1590.0 1593.0,1589.8 1594.0,1589.4 1595.0,1588.7 1596.0,1588.0 1597.0,1587.2 1598.0,1586.4 1599.0,1585.7 1600.0,1584.9 1601.0,1584.0 1602.0,1583.2 1603.0,1582.3 1604.0,1581.6 1605.0,1581.0 1606.0,1580.7 1607.0,1580.4 1608.0,1580.1 1609.0,1579.9 1610.0,1579.7 1611.0,1579.5 1612.0,1579.5 1613.0,1579.5 1614.0,1579.5 1615.0,1579.5 1616.0,1579.5 1617.0,1579.5 1618.0,1579.5 1619.0,1579.5 1620.0,1579.5 1621.0,1579.5 1622.0,1579.5 1623.0,1579.5 1624.0,1579.5 1625.0,1579.5 1626.0,1579.5 1627.0,1579.5 1628.0,1579.5 1629.0,1579.5 1630.0,1579.5 1631.0,1579.5 1632.0,1579.5 1633.0,1579.5 1634.0,1579.5 1635.0,1579.5 1636.0,1579.5 1637.0,1579.5 1638.0,1579.5 1639.0,1579.5 1640.0,1579.5 1641.0,1579.5 1642.0,1579.5 1643.0,1579.5 1644.0,1579.5 1645.0,1579.5 1646.0,1579.5 1647.0,1579.5 1648.0,1579.5 1649.0,1579.5 1650.0,1579.5 1651.0,1579.5 1652.0,1579.5 1653.0,1579.5 1654.0,1579.5 1655.0,1579.5 1656.0,1579.4 1657.0,1579.2 1658.0,1579.0 1659.0,1578.7 1660.0,1578.3 1661.0,1577.9 1662.0,1577.5 1663.0,1576.8 1664.0,1575.7 1665.0,1574.4 1666.0,1572.9 1667.0,1571.5 1668.0,1570.3 1669.0,1569.2 1670.0,1568.1 1671.0,1567.0 1672.0,1565.9 1673.0,1565.0 1674.0,1564.5 1675.0,1564.2 1676.0,1564.7 1677.0,1566.0 1678.0,1567.9 1679.0,1570.1 1680.0,1572.7 1681.0,1576.8 1682.0,1581.5 1683.0,1585.5 1684.0,1588.2 1685.0,1590.8 1686.0,1593.2 1687.0,1595.2 1688.0,1596.5 1689.0,1597.0 1690.0,1596.6 1691.0,1595.6 1692.0,1594.2 1693.0,1592.8 1694.0,1591.5 1695.0,1590.0 1696.0,1588.3 1697.0,1586.7 1698.0,1585.3 1699.0,1584.2 1700.0,1583.2 1701.0,1582.3 1702.0,1581.4 1703.0,1580.4 1704.0,1579.4 1705.0,1578.1 1706.0,1576.7 1707.0,1575.1 1708.0,1573.3 1709.0,1571.2 1710.0,1568.5 1711.0,1564.3 1712.0,1559.6 1713.0,1555.7 1714.0,1553.1 1715.0,1550.7 1716.0,1548.6 1717.0,1547.0 1718.0,1546.3 1719.0,1546.8 1720.0,1548.7 1721.0,1551.7 1722.0,1555.0 1723.0,1559.9 1724.0,1566.6 1725.0,1573.4 1726.0,1578.6 1727.0,1583.3 1728.0,1587.8 1729.0,1591.8 1730.0,1594.8 1731.0,1596.2 1732.0,1595.8 1733.0,1594.0 1734.0,1591.5 1735.0,1589.0 1736.0,1587.1 1737.0,1585.3 1738.0,1583.4 1739.0,1581.8 1740.0,1580.8 1741.0,1580.5 1742.0,1581.0 1743.0,1581.8 1744.0,1582.9 1745.0,1583.9 1746.0,1584.7 1747.0,1585.0 1748.0,1584.1 1749.0,1582.0 1750.0,1579.3 1751.0,1576.8 1752.0,1575.0 1753.0,1573.9 1754.0,1572.8 1755.0,1571.8 1756.0,1571.1 1757.0,1570.6 1758.0,1570.5 1759.0,1571.4 1760.0,1573.1 1761.0,1575.3 1762.0,1577.5 1763.0,1580.2 1764.0,1583.7 1765.0,1587.5 1766.0,1591.0 1767.0,1593.8 1768.0,1596.0 1769.0,1598.2 1770.0,1600.2 1771.0,1601.9 1772.0,1603.1 1773.0,1603.7 1774.0,1603.5 1775.0,1602.6 1776.0,1601.1 1777.0,1599.1 1778.0,1597.0 1779.0,1594.8 1780.0,1592.7 1781.0,1590.2 1782.0,1587.3 1783.0,1584.3 1784.0,1581.0 1785.0,1577.6 1786.0,1574.1 1787.0,1570.0 1788.0,1565.4 1789.0,1561.0 1790.0,1557.1 1791.0,1554.4 1792.0,1552.1 1793.0,1550.0 1794.0,1548.3 1795.0,1547.3 1796.0,1547.1 1797.0,1548.6 1798.0,1551.6 1799.0,1555.5 1800.0,1560.0 1801.0,1567.0 1802.0,1575.3 1803.0,1583.3 1804.0,1590.2 1805.0,1597.2 1806.0,1603.4 1807.0,1607.5 1808.0,1610.1 1809.0,1612.2 1810.0,1613.2 1811.0,1612.7 1812.0,1610.6 1813.0,1607.5 1814.0,1604.1 1815.0,1600.8 1816.0,1597.0 1817.0,1592.6 1818.0,1588.3 1819.0,1584.3 1820.0,1580.8 1821.0,1577.6 1822.0,1574.5 1823.0,1571.5 1824.0,1568.9 1825.0,1566.5 1826.0,1564.5 1827.0,1562.6 1828.0,1560.7 1829.0,1559.0 1830.0,1557.6 1831.0,1556.6 1832.0,1556.2 1833.0,1556.7 1834.0,1557.9 1835.0,1559.6 1836.0,1561.8 1837.0,1564.3 1838.0,1566.9 1839.0,1569.9 1840.0,1574.3 1841.0,1579.2 1842.0,1583.9 1843.0,1587.5 1844.0,1590.4 1845.0,1593.3 1846.0,1596.0 1847.0,1598.5 1848.0,1600.6 1849.0,1602.1 1850.0,1602.9 1851.0,1602.9 1852.0,1602.1 1853.0,1600.6 1854.0,1598.7 1855.0,1596.4 1856.0,1594.2 1857.0,1592.0 1858.0,1589.5 1859.0,1586.8 1860.0,1583.8 1861.0,1580.7 1862.0,1577.4 1863.0,1574.1 1864.0,1570.8 1865.0,1567.4 1866.0,1563.4 1867.0,1559.4 1868.0,1555.8 1869.0,1553.0 1870.0,1551.1 1871.0,1549.3 1872.0,1547.9 1873.0,1547.1 1874.0,1547.2 1875.0,1549.0 1876.0,1551.9 1877.0,1555.6 1878.0,1560.0 1879.0,1567.4 1880.0,1575.8 1881.0,1582.5 1882.0,1587.5 1883.0,1592.4 1884.0,1596.8 1885.0,1600.3 1886.0,1602.5 1887.0,1602.9 1888.0,1601.2 1889.0,1598.0 1890.0,1594.2 1891.0,1590.7 1892.0,1587.8 1893.0,1584.4 1894.0,1581.0 1895.0,1577.8 1896.0,1575.1 1897.0,1573.2 1898.0,1572.5 1899.0,1573.2 1900.0,1575.1 1901.0,1577.6 1902.0,1580.3 1903.0,1582.5 1904.0,1584.6 1905.0,1586.9 1906.0,1589.0 1907.0,1590.8 1908.0,1591.9 1909.0,1591.7 1910.0,1589.9 1911.0,1587.0 1912.0,1583.8 1913.0,1581.0 1914.0,1579.1 1915.0,1577.4 1916.0,1575.7 1917.0,1574.3 1918.0,1573.5 1919.0,1573.3 1920.0,1574.4 1921.0,1576.5 1922.0,1579.2 1923.0,1582.0 1924.0,1584.5 1925.0,1586.6 1926.0,1588.9 1927.0,1591.3 1928.0,1593.5 1929.0,1595.2 1930.0,1596.1 1931.0,1596.2 1932.0,1595.6 1933.0,1594.7 1934.0,1593.5 1935.0,1592.2 1936.0,1590.9 1937.0,1589.7 1938.0,1588.5 1939.0,1587.1 1940.0,1585.7 1941.0,1584.4 1942.0,1583.3 1943.0,1582.5 1944.0,1581.9 1945.0,1581.4 1946.0,1580.9 1947.0,1580.5 1948.0,1580.2 1949.0,1580.0 1950.0,1579.9 1951.0,1579.8 1952.0,1579.7 1953.0,1579.6 1954.0,1579.6 1955.0,1579.5 1956.0,1579.5 1957.0,1579.5 1958.0,1579.5 1959.0,1579.5 1960.0,1579.5 1961.0,1579.5 1962.0,1579.5 1963.0,1579.5 1964.0,1579.5 1965.0,1579.5 1966.0,1579.5 1967.0,1579.5 1968.0,1579.5 1969.0,1579.5 1970.0,1579.5 1971.0,1579.5 1972.0,1579.5 1973.0,1579.5 1974.0,1579.5 1975.0,1579.5 1976.0,1579.5 1977.0,1579.5 1978.0,1579.5 1979.0,1579.5 1980.0,1579.5 1981.0,1579.5 1982.0,1579.5 1983.0,1579.5 1984.0,1579.5 1985.0,1579.5 1986.0,1579.5 1987.0,1579.5 1988.0,1579.5 1989.0,1579.5 1990.0,1579.5 1991.0,1579.5 1992.0,1579.5 1993.0,1579.5 1994.0,1579.5 1995.0,1579.5 1996.0,1579.5 1997.0,1579.5 1998.0,1579.5 1999.0,1579.5 2000.0,1579.5 2001.0,1579.5 2002.0,1579.5 2003.0,1579.5 2004.0,1579.5 2005.0,1579.5 2006.0,1579.5 2007.0,1579.5 2008.0,1579.5 2009.0,1579.5 2010.0,1579.5 2011.0,1579.5 2012.0,1579.5 2013.0,1579.5 2014.0,1579.5 2015.0,1579.5 2016.0,1579.5 2017.0,1579.5 2018.0,1579.5 2019.0,1579.5 2020.0,1579.5 2021.0,1579.5 2022.0,1579.5 2023.0,1579.5 2024.0,1579.5 2025.0,1579.5 2026.0,1579.5 2027.0,1579.5 2028.0,1579.5 2029.0,1579.5 2030.0,1579.5 2031.0,1579.5 2032.0,1579.5 2033.0,1579.5 2034.0,1579.4 2035.0,1579.3 2036.0,1579.1 2037.0,1578.8 2038.0,1578.5 2039.0,1578.1 2040.0,1577.7 2041.0,1577.3 2042.0,1576.6 2043.0,1575.7 2044.0,1574.7 2045.0,1573.8 2046.0,1573.0 2047.0,1572.4 2048.0,1571.8 2049.0,1571.3 2050.0,1570.8 2051.0,1570.4 2052.0,1570.1 2053.0,1570.0 2054.0,1570.3 2055.0,1571.1 2056.0,1572.3 2057.0,1573.6 2058.0,1575.0 2059.0,1576.7 2060.0,1578.9 2061.0,1581.3 2062.0,1583.4 2063.0,1585.0 2064.0,1586.2 2065.0,1587.3 2066.0,1588.3 2067.0,1589.1 2068.0,1589.7 2069.0,1590.0 2070.0,1589.9 2071.0,1589.5 2072.0,1588.9 2073.0,1588.2 2074.0,1587.4 2075.0,1586.6 2076.0,1585.9 2077.0,1585.1 2078.0,1584.2 2079.0,1583.4 2080.0,1582.5 2081.0,1581.7 2082.0,1581.1 2083.0,1580.8 2084.0,1580.5 2085.0,1580.2 2086.0,1580.0 2087.0,1579.8 2088.0,1579.7 2089.0,1579.6 2090.0,1579.5 2091.0,1579.5 2092.0,1579.5 2093.0,1579.5 2094.0,1579.5 2095.0,1579.5 2096.0,1579.5 2097.0,1579.5 2098.0,1579.5 2099.0,1579.5 2100.0,1579.5 2101.0,1579.5 2102.0,1579.5 2103.0,1579.5 2104.0,1579.5 2105.0,1579.5 2106.0,1579.5 2107.0,1579.5 2108.0,1579.5 2109.0,1579.5 2110.0,1579.5 2111.0,1579.5 2112.0,1579.5 2113.0,1579.5 2114.0,1579.5 2115.0,1579.5 2116.0,1579.5 2117.0,1579.5 2118.0,1579.5 2119.0,1579.5 2120.0,1579.5 2121.0,1579.5 2122.0,1579.5 2123.0,1579.5 2124.0,1579.5 2125.0,1579.5 2126.0,1579.5 2127.0,1579.5 2128.0,1579.5 2129.0,1579.5 2130.0,1579.5 2131.0,1579.5 2132.0,1579.5 2133.0,1579.5 2134.0,1579.5 2135.0,1579.5 2136.0,1579.5 2137.0,1579.5 2138.0,1579.5 2139.0,1579.5 2140.0,1579.5 2141.0,1579.5 2142.0,1579.5 2143.0,1579.5 2144.0,1579.5 2145.0,1579.5 2146.0,1579.5 2147.0,1579.5 2148.0,1579.5 2149.0,1579.5 2150.0,1579.5 2151.0,1579.5 2152.0,1579.5 2153.0,1579.5 2154.0,1579.5 2155.0,1579.5 2156.0,1579.5 2157.0,1579.5 2158.0,1579.5 2159.0,1579.5 2160.0,1579.5 2161.0,1579.5 2162.0,1579.5 2163.0,1579.5 2164.0,1579.5 2165.0,1579.5 2166.0,1579.5 2167.0,1579.5 2168.0,1579.5 2169.0,1579.5 2170.0,1579.5 2171.0,1579.5 2172.0,1579.5 2173.0,1579.5 2174.0,1579.5 2175.0,1579.5 2176.0,1579.5 2177.0,1579.5 2178.0,1579.5 2179.0,1579.5 2180.0,1579.5 2181.0,1579.5 2182.0,1579.5 2183.0,1579.5 2184.0,1579.5 2185.0,1579.5 2186.0,1579.5 2187.0,1579.5 2188.0,1579.5 2189.0,1579.5 2190.0,1579.5 2191.0,1579.5 2192.0,1579.5 2193.0,1579.5 2194.0,1579.5 2195.0,1579.5 2196.0,1579.5 2197.0,1579.5 2198.0,1579.5 2199.0,1579.5 2200.0,1579.5 2201.0,1579.5 2202.0,1579.5 2203.0,1579.5 2204.0,1579.5 2205.0,1579.5 2206.0,1579.5 2207.0,1579.5 2208.0,1579.5 2209.0,1579.5 2210.0,1579.5 2211.0,1579.5 2212.0,1579.5 2213.0,1579.5 2214.0,1579.5 2215.0,1579.5 2216.0,1579.5 2217.0,1579.5 2218.0,1579.5 2219.0,1579.5 2220.0,1579.5 2221.0,1579.5 2222.0,1579.5 2223.0,1579.5 2224.0,1579.5 2225.0,1579.5 2226.0,1579.5 2227.0,1579.5 2228.0,1579.5 2229.0,1579.5 2230.0,1579.5 2231.0,1579.5 2232.0,1579.5 2233.0,1579.5 2234.0,1579.5 2235.0,1579.5 2236.0,1579.5 2237.0,1579.5 2238.0,1579.5 2239.0,1579.5 2240.0,1579.5 2241.0,1579.5 2242.0,1579.5 2243.0,1579.5 2244.0,1579.5 2245.0,1579.5 2246.0,1579.5 2247.0,1579.5 2248.0,1579.5 2249.0,1579.5 2250.0,1579.5 2251.0,1579.5 2252.0,1579.5 2253.0,1579.5 2254.0,1579.5 2255.0,1579.5 2256.0,1579.5 2257.0,1579.5 2258.0,1579.5 2259.0,1579.5 2260.0,1579.5 2261.0,1579.5 2262.0,1579.5 2263.0,1579.5 2264.0,1579.5 2265.0,1579.5 2266.0,1579.5 2267.0,1579.5 2268.0,1579.5 2269.0,1579.5 2270.0,1579.5 2271.0,1579.5 2272.0,1579.5 2273.0,1579.5 2274.0,1579.5 2275.0,1579.5 2276.0,1579.5 2277.0,1579.5 2278.0,1579.5 2279.0,1579.5 2280.0,1579.5 2281.0,1579.5 2282.0,1579.5 2283.0,1579.5 2284.0,1579.5 2285.0,1579.5 2286.0,1579.5 2287.0,1579.5 2288.0,1579.5 2289.0,1579.5 2290.0,1579.5 2291.0,1579.5 2292.0,1579.5 2293.0,1579.5 2294.0,1579.5 2295.0,1579.5 2296.0,1579.5 2297.0,1579.5 2298.0,1579.5 2299.0,1579.5 2300.0,1579.5 2301.0,1579.5 2302.0,1579.5 2303.0,1579.5 2304.0,1579.5 2305.0,1579.5 2306.0,1579.5 2307.0,1579.5 2308.0,1579.5 2309.0,1579.5 2310.0,1579.5 2311.0,1579.5 2312.0,1579.5 2313.0,1579.5 2314.0,1579.5 2315.0,1579.5 2316.0,1579.5 2317.0,1579.5 2318.0,1579.5 2319.0,1579.5 2320.0,1579.5 2321.0,1579.5 2322.0,1579.5 2323.0,1579.5 2324.0,1579.5 2325.0,1579.5 2326.0,1579.5 2327.0,1579.5 2328.0,1579.5 2329.0,1579.5 2330.0,1579.5 2331.0,1579.5 2332.0,1579.5 2333.0,1579.5 2334.0,1579.5 2335.0,1579.5 2336.0,1579.5 2337.0,1579.5 2338.0,1579.5 2339.0,1579.5 2340.0,1579.5 2341.0,1579.5 2342.0,1579.5 2343.0,1579.5 2344.0,1579.5 2345.0,1579.5 2346.0,1579.5 2347.0,1579.5 2348.0,1579.5 2349.0,1579.5 2350.0,1579.5 2351.0,1579.5 2352.0,1579.5 2353.0,1579.5 2354.0,1579.5 2355.0,1579.5 2356.0,1579.5 2357.0,1579.5 2358.0,1579.5 2359.0,1579.5 2360.0,1579.5 2361.0,1579.5 2362.0,1579.5 2363.0,1579.5 2364.0,1579.5 2365.0,1579.5 2366.0,1579.5 2367.0,1579.5 2368.0,1579.5 2369.0,1579.5 2370.0,1579.5 2371.0,1579.5 2372.0,1579.5 2373.0,1579.5 2374.0,1579.5 2375.0,1579.5 2376.0,1579.5 2377.0,1579.5 2378.0,1579.5 2379.0,1579.5 2380.0,1579.5 2381.0,1579.5 2382.0,1579.5 2383.0,1579.5 2384.0,1579.5 2385.0,1579.5 2386.0,1579.5 2387.0,1579.5 2388.0,1579.5 2389.0,1579.5 2390.0,1579.5 2391.0,1579.5 2392.0,1579.5 2393.0,1579.5 2394.0,1579.5 2395.0,1579.5 2396.0,1579.5 2397.0,1579.5 2398.0,1579.5 2399.0,1579.5 2400.0,1579.5 2401.0,1579.5 2402.0,1579.5" fill="none" stroke="#ff0000" stroke-width="3.2" stroke-linejoin="round" stroke-linecap="round"/>
<path d="M1334.0,1788.1 1335.0,1787.6 1336.0,1787.3 1337.0,1787.2 1338.0,1787.3 1339.0,1787.3 1340.0,1787.3 1341.0,1787.6 1342.0,1787.8 1343.0,1788.0 1344.0,1788.3 1345.0,1788.7 1346.0,1789.1 1347.0,1789.6 1348.0,1790.3 1349.0,1791.0 1350.0,1791.3 1351.0,1791.1 1352.0,1791.1 1353.0,1791.3 1354.0,1791.7 1355.0,1792.2 1356.0,1792.8 1357.0,1793.6 1358.0,1794.5 1359.0,1795.6 1360.0,1796.7 1361.0,1797.6 1362.0,1798.2 1363.0,1798.7 1364.0,1798.5 1365.0,1797.0 1366.0,1794.7 1367.0,1792.5 1368.0,1791.2 1369.0,1791.4 1370.0,1792.5 1371.0,1794.0 1372.0,1795.4 1373.0,1796.3 1374.0,1796.8 1375.0,1797.2 1376.0,1797.4 1377.0,1797.0 1378.0,1796.2 1379.0,1795.1 1380.0,1794.1 1381.0,1793.1 1382.0,1792.5 1383.0,1792.4 1384.0,1792.9 1385.0,1793.9 1386.0,1794.9 1387.0,1795.5 1388.0,1795.9 1389.0,1796.0 1390.0,1796.0 1391.0,1795.8 1392.0,1794.9 1393.0,1793.3 1394.0,1791.8 1395.0,1791.1 1396.0,1791.4 1397.0,1792.0 1398.0,1792.6 1399.0,1793.3 1400.0,1794.0 1401.0,1794.1 1402.0,1793.9 1403.0,1793.7 1404.0,1793.5 1405.0,1793.3 1406.0,1793.3 1407.0,1793.4 1408.0,1793.5 1409.0,1793.8 1410.0,1794.2 1411.0,1794.5 1412.0,1794.3 1413.0,1793.7 1414.0,1792.8 1415.0,1792.2 1416.0,1791.8 1417.0,1791.8 1418.0,1792.2 1419.0,1792.8 1420.0,1793.4 1421.0,1794.1 1422.0,1794.6 1423.0,1795.0 1424.0,1795.1 1425.0,1795.3 1426.0,1795.6 1427.0,1795.9 1428.0,1795.6 1429.0,1794.6 1430.0,1793.4 1431.0,1792.5 1432.0,1792.0 1433.0,1791.5 1434.0,1790.8 1435.0,1790.1 1436.0,1789.5 1437.0,1788.8 1438.0,1788.1 1439.0,1787.8 1440.0,1788.1 1441.0,1789.1 1442.0,1790.2 1443.0,1791.3 1444.0,1792.6 1445.0,1793.9 1446.0,1794.5 1447.0,1794.1 1448.0,1793.4 1449.0,1793.1 1450.0,1793.3 1451.0,1793.4 1452.0,1793.4 1453.0,1793.1 1454.0,1792.5 1455.0,1791.5 1456.0,1790.5 1457.0,1789.8 1458.0,1789.8 1459.0,1790.6 1460.0,1791.9 1461.0,1793.1 1462.0,1793.8 1463.0,1793.9 1464.0,1793.7 1465.0,1793.4 1466.0,1793.4 1467.0,1793.6 1468.0,1793.7 1469.0,1793.4 1470.0,1792.9 1471.0,1792.5 1472.0,1792.5 1473.0,1792.5 1474.0,1792.1 1475.0,1791.0 1476.0,1789.7 1477.0,1788.7 1478.0,1788.3 1479.0,1788.1 1480.0,1788.2 1481.0,1788.7 1482.0,1789.4 1483.0,1789.8 1484.0,1790.0 1485.0,1790.4 1486.0,1790.9 1487.0,1791.4 1488.0,1792.0 1489.0,1792.6 1490.0,1793.2 1491.0,1793.5 1492.0,1793.3 1493.0,1792.9 1494.0,1792.8 1495.0,1793.1 1496.0,1793.8 1497.0,1794.5 1498.0,1794.7 1499.0,1794.4 1500.0,1793.9 1501.0,1793.5 1502.0,1793.5 1503.0,1793.8 1504.0,1794.4 1505.0,1795.0 1506.0,1795.7 1507.0,1796.5 1508.0,1797.0 1509.0,1796.8 1510.0,1795.7 1511.0,1793.9 1512.0,1791.7 1513.0,1790.0 1514.0,1789.0 1515.0,1788.8 1516.0,1789.1 1517.0,1789.7 1518.0,1790.3 1519.0,1790.8 1520.0,1791.5 1521.0,1792.3 1522.0,1792.7 1523.0,1792.5 1524.0,1792.1 1525.0,1791.7 1526.0,1791.2 1527.0,1790.6 1528.0,1789.9 1529.0,1789.2 1530.0,1788.7 1531.0,1788.6 1532.0,1788.8 1533.0,1789.4 1534.0,1790.4 1535.0,1791.8 1536.0,1793.3 1537.0,1794.4 1538.0,1794.7 1539.0,1794.3 1540.0,1793.3 1541.0,1792.2 1542.0,1791.3 1543.0,1790.9 1544.0,1791.2 1545.0,1791.6 1546.0,1791.7 1547.0,1791.3 1548.0,1790.7 1549.0,1790.0 1550.0,1789.6 1551.0,1789.5 1552.0,1789.6 1553.0,1789.5 1554.0,1789.2 1555.0,1788.9 1556.0,1788.7 1557.0,1788.2 1558.0,1787.5 1559.0,1786.2 1560.0,1784.1 1561.0,1781.6 1562.0,1779.0 1563.0,1776.1 1564.0,1772.4 1565.0,1768.0 1566.0,1762.8 1567.0,1755.6 1568.0,1747.3 1569.0,1739.9 1570.0,1734.9 1571.0,1730.3 1572.0,1725.9 1573.0,1721.7 1574.0,1718.2 1575.0,1716.3 1576.0,1717.3 1577.0,1721.1 1578.0,1726.8 1579.0,1733.2 1580.0,1743.0 1581.0,1756.8 1582.0,1770.7 1583.0,1783.7 1584.0,1797.2 1585.0,1810.4 1586.0,1823.0 1587.0,1836.7 1588.0,1848.2 1589.0,1854.9 1590.0,1860.5 1591.0,1864.5 1592.0,1866.1 1593.0,1864.6 1594.0,1860.5 1595.0,1854.7 1596.0,1848.2 1597.0,1839.7 1598.0,1830.2 1599.0,1821.8 1600.0,1815.9 1601.0,1810.4 1602.0,1805.0 1603.0,1800.3 1604.0,1797.2 1605.0,1795.8 1606.0,1795.1 1607.0,1794.6 1608.0,1794.3 1609.0,1793.7 1610.0,1792.9 1611.0,1792.0 1612.0,1791.3 1613.0,1790.8 1614.0,1790.3 1615.0,1790.0 1616.0,1789.8 1617.0,1789.8 1618.0,1789.9 1619.0,1790.2 1620.0,1790.8 1621.0,1792.0 1622.0,1793.5 1623.0,1794.6 1624.0,1795.1 1625.0,1794.9 1626.0,1794.5 1627.0,1794.0 1628.0,1793.3 1629.0,1792.3 1630.0,1791.1 1631.0,1790.1 1632.0,1789.7 1633.0,1789.7 1634.0,1789.6 1635.0,1789.3 1636.0,1789.2 1637.0,1789.5 1638.0,1789.7 1639.0,1789.6 1640.0,1788.9 1641.0,1788.0 1642.0,1787.5 1643.0,1787.7 1644.0,1788.4 1645.0,1789.0 1646.0,1789.0 1647.0,1788.7 1648.0,1788.2 1649.0,1787.7 1650.0,1787.5 1651.0,1787.6 1652.0,1788.0 1653.0,1788.4 1654.0,1788.7 1655.0,1788.8 1656.0,1789.1 1657.0,1789.5 1658.0,1789.8 1659.0,1789.9 1660.0,1790.2 1661.0,1790.7 1662.0,1791.4 1663.0,1791.8 1664.0,1792.0 1665.0,1792.1 1666.0,1792.2 1667.0,1792.2 1668.0,1791.9 1669.0,1791.7 1670.0,1791.8 1671.0,1792.1 1672.0,1792.3 1673.0,1792.5 1674.0,1792.8 1675.0,1793.3 1676.0,1794.0 1677.0,1794.7 1678.0,1795.0 1679.0,1794.5 1680.0,1793.3 1681.0,1791.8 1682.0,1790.4 1683.0,1789.2 1684.0,1788.4 1685.0,1788.2 1686.0,1789.1 1687.0,1790.5 1688.0,1792.1 1689.0,1793.0 1690.0,1793.0 1691.0,1792.9 1692.0,1792.8 1693.0,1792.8 1694.0,1792.4 1695.0,1791.6 1696.0,1790.7 1697.0,1790.0 1698.0,1789.6 1699.0,1789.2 1700.0,1788.9 1701.0,1788.8 1702.0,1788.9 1703.0,1788.9 1704.0,1788.6 1705.0,1788.4 1706.0,1788.3 1707.0,1787.9 1708.0,1787.1 1709.0,1786.5 1710.0,1786.4 1711.0,1787.1 1712.0,1787.9 1713.0,1788.4 1714.0,1788.6 1715.0,1788.7 1716.0,1788.9 1717.0,1788.7 1718.0,1787.8 1719.0,1786.5 1720.0,1783.5 1721.0,1777.8 1722.0,1770.4 1723.0,1759.0 1724.0,1743.4 1725.0,1727.4 1726.0,1711.2 1727.0,1694.3 1728.0,1680.0 1729.0,1669.5 1730.0,1659.5 1731.0,1650.8 1732.0,1644.6 1733.0,1641.8 1734.0,1642.9 1735.0,1646.6 1736.0,1652.4 1737.0,1659.9 1738.0,1670.8 1739.0,1692.8 1740.0,1720.6 1741.0,1747.1 1742.0,1774.0 1743.0,1801.3 1744.0,1826.3 1745.0,1849.8 1746.0,1872.1 1747.0,1890.1 1748.0,1905.1 1749.0,1919.3 1750.0,1930.8 1751.0,1937.9 1752.0,1938.1 1753.0,1931.2 1754.0,1920.0 1755.0,1907.1 1756.0,1892.4 1757.0,1873.4 1758.0,1855.8 1759.0,1843.0 1760.0,1832.1 1761.0,1823.1 1762.0,1815.9 1763.0,1810.0 1764.0,1804.9 1765.0,1801.3 1766.0,1799.2 1767.0,1797.3 1768.0,1795.3 1769.0,1793.5 1770.0,1792.6 1771.0,1792.6 1772.0,1795.1 1773.0,1797.4 1774.0,1797.2 1775.0,1797.0 1776.0,1797.0 1777.0,1797.4 1778.0,1797.7 1779.0,1797.6 1780.0,1797.1 1781.0,1796.4 1782.0,1795.6 1783.0,1795.0 1784.0,1794.6 1785.0,1794.2 1786.0,1793.8 1787.0,1793.3 1788.0,1792.7 1789.0,1792.3 1790.0,1792.0 1791.0,1792.0 1792.0,1792.1 1793.0,1792.5 1794.0,1792.9 1795.0,1792.9 1796.0,1792.3 1797.0,1791.4 1798.0,1790.6 1799.0,1790.3 1800.0,1790.3 1801.0,1790.5 1802.0,1790.5 1803.0,1790.3 1804.0,1789.7 1805.0,1788.9 1806.0,1788.2 1807.0,1788.0 1808.0,1788.4 1809.0,1789.1 1810.0,1789.8 1811.0,1790.2 1812.0,1790.7 1813.0,1791.5 1814.0,1792.4 1815.0,1793.0 1816.0,1793.2 1817.0,1793.1 1818.0,1792.9 1819.0,1792.8 1820.0,1792.9 1821.0,1793.8 1822.0,1795.3 1823.0,1797.0 1824.0,1798.0 1825.0,1798.0 1826.0,1797.3 1827.0,1795.9 1828.0,1794.4 1829.0,1793.3 1830.0,1792.8 1831.0,1792.7 1832.0,1792.7 1833.0,1792.5 1834.0,1792.3 1835.0,1792.3 1836.0,1792.1 1837.0,1791.6 1838.0,1791.2 1839.0,1791.1 1840.0,1791.3 1841.0,1791.6 1842.0,1791.9 1843.0,1792.1 1844.0,1792.1 1845.0,1791.9 1846.0,1791.7 1847.0,1791.7 1848.0,1791.7 1849.0,1791.6 1850.0,1791.2 1851.0,1790.7 1852.0,1790.1 1853.0,1789.4 1854.0,1788.6 1855.0,1787.8 1856.0,1787.2 1857.0,1786.9 1858.0,1787.0 1859.0,1787.0 1860.0,1786.9 1861.0,1786.6 1862.0,1786.5 1863.0,1786.9 1864.0,1787.4 1865.0,1787.7 1866.0,1787.7 1867.0,1787.6 1868.0,1787.7 1869.0,1788.2 1870.0,1789.4 1871.0,1791.1 1872.0,1792.5 1873.0,1793.2 1874.0,1793.1 1875.0,1792.4 1876.0,1791.3 1877.0,1790.2 1878.0,1789.3 1879.0,1788.2 1880.0,1785.4 1881.0,1778.6 1882.0,1769.5 1883.0,1759.3 1884.0,1745.7 1885.0,1730.2 1886.0,1715.0 1887.0,1699.6 1888.0,1684.1 1889.0,1672.5 1890.0,1665.4 1891.0,1658.3 1892.0,1651.6 1893.0,1646.7 1894.0,1644.7 1895.0,1646.3 1896.0,1651.0 1897.0,1657.7 1898.0,1666.1 1899.0,1677.1 1900.0,1697.3 1901.0,1722.5 1902.0,1747.4 1903.0,1773.6 1904.0,1801.0 1905.0,1827.4 1906.0,1854.0 1907.0,1878.9 1908.0,1896.2 1909.0,1911.9 1910.0,1924.5 1911.0,1931.1 1912.0,1930.2 1913.0,1924.7 1914.0,1916.4 1915.0,1906.7 1916.0,1896.4 1917.0,1883.1 1918.0,1868.4 1919.0,1854.7 1920.0,1842.4 1921.0,1829.7 1922.0,1819.1 1923.0,1812.5 1924.0,1807.3 1925.0,1803.1 1926.0,1800.1 1927.0,1798.3 1928.0,1797.2 1929.0,1796.7 1930.0,1796.3 1931.0,1796.0 1932.0,1795.8 1933.0,1795.5 1934.0,1795.4 1935.0,1795.7 1936.0,1796.3 1937.0,1797.1 1938.0,1797.9 1939.0,1798.5 1940.0,1798.7 1941.0,1798.3 1942.0,1797.6 1943.0,1797.5 1944.0,1798.2 1945.0,1799.4 1946.0,1800.1 1947.0,1799.6 1948.0,1797.9 1949.0,1795.6 1950.0,1793.1 1951.0,1791.5 1952.0,1791.1 1953.0,1791.2 1954.0,1791.3 1955.0,1791.6 1956.0,1792.5 1957.0,1793.6 1958.0,1794.2 1959.0,1794.2 1960.0,1793.9 1961.0,1794.0 1962.0,1794.5 1963.0,1794.8 1964.0,1794.6 1965.0,1793.7 1966.0,1792.5 1967.0,1791.5 1968.0,1790.8 1969.0,1790.3 1970.0,1790.2 1971.0,1790.3 1972.0,1790.6 1973.0,1791.1 1974.0,1792.1 1975.0,1793.1 1976.0,1794.1 1977.0,1795.0 1978.0,1795.7 1979.0,1795.8 1980.0,1795.6 1981.0,1795.5 1982.0,1795.7 1983.0,1796.0 1984.0,1796.1 1985.0,1795.5 1986.0,1794.6 1987.0,1793.4 1988.0,1792.1 1989.0,1791.2 1990.0,1790.9 1991.0,1790.9 1992.0,1790.9 1993.0,1790.6 1994.0,1790.1 1995.0,1789.6 1996.0,1789.1 1997.0,1788.6 1998.0,1788.3 1999.0,1788.4 2000.0,1789.0 2001.0,1789.8 2002.0,1790.5 2003.0,1790.9 2004.0,1791.3 2005.0,1791.5 2006.0,1791.7 2007.0,1792.1 2008.0,1792.5 2009.0,1792.9 2010.0,1793.3 2011.0,1794.1 2012.0,1794.9 2013.0,1795.4 2014.0,1795.7 2015.0,1795.9 2016.0,1795.6 2017.0,1792.9 2018.0,1789.6 2019.0,1787.6 2020.0,1787.7 2021.0,1788.3 2022.0,1789.0 2023.0,1790.0 2024.0,1791.5 2025.0,1793.1 2026.0,1794.6 2027.0,1795.5 2028.0,1796.0 2029.0,1795.8 2030.0,1795.1 2031.0,1794.0 2032.0,1793.2 2033.0,1792.9 2034.0,1792.6 2035.0,1791.9 2036.0,1790.8 2037.0,1789.6 2038.0,1788.2 2039.0,1786.6 2040.0,1784.8 2041.0,1782.8 2042.0,1780.8 2043.0,1777.3 2044.0,1771.9 2045.0,1765.3 2046.0,1758.0 2047.0,1748.6 2048.0,1738.8 2049.0,1730.8 2050.0,1725.8 2051.0,1721.5 2052.0,1718.3 2053.0,1716.3 2054.0,1716.5 2055.0,1719.2 2056.0,1724.0 2057.0,1729.9 2058.0,1737.0 2059.0,1748.8 2060.0,1763.4 2061.0,1778.1 2062.0,1793.1 2063.0,1809.1 2064.0,1824.2 2065.0,1838.3 2066.0,1851.5 2067.0,1859.3 2068.0,1864.1 2069.0,1867.4 2070.0,1868.4 2071.0,1866.9 2072.0,1863.5 2073.0,1859.1 2074.0,1854.1 2075.0,1847.0 2076.0,1838.9 2077.0,1831.0 2078.0,1824.5 2079.0,1818.2 2080.0,1812.5 2081.0,1808.0 2082.0,1804.6 2083.0,1801.5 2084.0,1798.5 2085.0,1796.2 2086.0,1795.0 2087.0,1794.6 2088.0,1794.2 2089.0,1793.6 2090.0,1793.1 2091.0,1792.7 2092.0,1792.5 2093.0,1792.1 2094.0,1791.8 2095.0,1791.3 2096.0,1790.7 2097.0,1790.4 2098.0,1790.5 2099.0,1790.8 2100.0,1790.9 2101.0,1791.1 2102.0,1791.7 2103.0,1792.4 2104.0,1793.0 2105.0,1793.1 2106.0,1792.8 2107.0,1792.2 2108.0,1791.6 2109.0,1791.3 2110.0,1791.4 2111.0,1791.5 2112.0,1791.5 2113.0,1791.6 2114.0,1791.9 2115.0,1792.0 2116.0,1791.8 2117.0,1791.7 2118.0,1791.6 2119.0,1791.6 2120.0,1791.6 2121.0,1791.5 2122.0,1791.5 2123.0,1791.8 2124.0,1792.3 2125.0,1793.0 2126.0,1793.6 2127.0,1793.8 2128.0,1793.9 2129.0,1794.0 2130.0,1794.4 2131.0,1794.9 2132.0,1795.3 2133.0,1795.7 2134.0,1795.7 2135.0,1795.5 2136.0,1795.2 2137.0,1795.0 2138.0,1794.8 2139.0,1794.6 2140.0,1794.7 2141.0,1795.0 2142.0,1795.2 2143.0,1795.1 2144.0,1794.5 2145.0,1793.8 2146.0,1793.0 2147.0,1791.9 2148.0,1790.7 2149.0,1790.0 2150.0,1789.9 2151.0,1790.5 2152.0,1791.0 2153.0,1791.1 2154.0,1790.9 2155.0,1790.9 2156.0,1791.1 2157.0,1791.6 2158.0,1792.4 2159.0,1793.2 2160.0,1794.0 2161.0,1794.4 2162.0,1794.3 2163.0,1794.0 2164.0,1793.8 2165.0,1794.0 2166.0,1794.2 2167.0,1794.1 2168.0,1793.8 2169.0,1793.3 2170.0,1792.9 2171.0,1792.6 2172.0,1792.5 2173.0,1792.4 2174.0,1792.5 2175.0,1792.8 2176.0,1793.2 2177.0,1793.5 2178.0,1793.4 2179.0,1792.7 2180.0,1791.6 2181.0,1790.6 2182.0,1790.1 2183.0,1790.2 2184.0,1790.2 2185.0,1789.9 2186.0,1789.3 2187.0,1788.9 2188.0,1788.6 2189.0,1788.5 2190.0,1788.6 2191.0,1789.2 2192.0,1789.8 2193.0,1790.4 2194.0,1790.9 2195.0,1791.4 2196.0,1792.0 2197.0,1792.5 2198.0,1792.7 2199.0,1792.6 2200.0,1792.5 2201.0,1792.8 2202.0,1793.5 2203.0,1793.9 2204.0,1794.1 2205.0,1794.1 2206.0,1793.9 2207.0,1793.5 2208.0,1792.9 2209.0,1792.7 2210.0,1792.8 2211.0,1792.9 2212.0,1793.0 2213.0,1793.2 2214.0,1793.2 2215.0,1792.7 2216.0,1792.2 2217.0,1791.9 2218.0,1791.8 2219.0,1791.6 2220.0,1791.2 2221.0,1790.8 2222.0,1790.5 2223.0,1790.7 2224.0,1791.3 2225.0,1791.9 2226.0,1792.3 2227.0,1792.4 2228.0,1792.2 2229.0,1792.1 2230.0,1792.4 2231.0,1793.0 2232.0,1793.6 2233.0,1793.8 2234.0,1794.0 2235.0,1794.7 2236.0,1796.1 2237.0,1797.5 2238.0,1798.2 2239.0,1798.0 2240.0,1797.2 2241.0,1796.0 2242.0,1794.8 2243.0,1793.4 2244.0,1792.1 2245.0,1791.4 2246.0,1791.2 2247.0,1791.2 2248.0,1791.2 2249.0,1791.4 2250.0,1791.5 2251.0,1791.2 2252.0,1790.4 2253.0,1789.5 2254.0,1789.0 2255.0,1789.1 2256.0,1789.5 2257.0,1790.0 2258.0,1790.6 2259.0,1791.2 2260.0,1791.4 2261.0,1791.1 2262.0,1790.6 2263.0,1790.3 2264.0,1790.2 2265.0,1790.4 2266.0,1790.5 2267.0,1790.4 2268.0,1790.3 2269.0,1790.4 2270.0,1790.6 2271.0,1790.6 2272.0,1790.4 2273.0,1790.1 2274.0,1789.8 2275.0,1789.5 2276.0,1789.0 2277.0,1788.5 2278.0,1788.0 2279.0,1787.8 2280.0,1787.6 2281.0,1787.4 2282.0,1787.1 2283.0,1786.9 2284.0,1786.7 2285.0,1786.4 2286.0,1786.3 2287.0,1786.1 2288.0,1785.7 2289.0,1785.2 2290.0,1785.0 2291.0,1785.4 2292.0,1786.3 2293.0,1787.4 2294.0,1788.6 2295.0,1789.8 2296.0,1790.5 2297.0,1790.6 2298.0,1790.2 2299.0,1789.6 2300.0,1789.1 2301.0,1788.8 2302.0,1788.5 2303.0,1788.2 2304.0,1787.8 2305.0,1787.3 2306.0,1786.7 2307.0,1786.2 2308.0,1785.9 2309.0,1785.9 2310.0,1786.6 2311.0,1788.0 2312.0,1789.6 2313.0,1790.3 2314.0,1789.9 2315.0,1789.0 2316.0,1788.2 2317.0,1788.2 2318.0,1788.8 2319.0,1789.4 2320.0,1789.6 2321.0,1789.7 2322.0,1789.8 2323.0,1790.0 2324.0,1790.4 2325.0,1790.6 2326.0,1790.7 2327.0,1790.4 2328.0,1790.0 2329.0,1789.6 2330.0,1789.4 2331.0,1789.5 2332.0,1789.8 2333.0,1790.5 2334.0,1791.8 2335.0,1793.4 2336.0,1794.9 2337.0,1795.8 2338.0,1796.6 2339.0,1797.2 2340.0,1797.5 2341.0,1797.6 2342.0,1797.6 2343.0,1797.7 2344.0,1797.7 2345.0,1797.7 2346.0,1797.6 2347.0,1797.3 2348.0,1797.0 2349.0,1796.7 2350.0,1796.3 2351.0,1795.9 2352.0,1795.8 2353.0,1795.9 2354.0,1796.2 2355.0,1796.6 2356.0,1796.6 2357.0,1796.3 2358.0,1795.8 2359.0,1795.5 2360.0,1795.2 2361.0,1795.0 2362.0,1794.8 2363.0,1794.6 2364.0,1794.6 2365.0,1794.7 2366.0,1794.6 2367.0,1794.2 2368.0,1793.8 2369.0,1793.5 2370.0,1793.3 2371.0,1793.5 2372.0,1793.9 2373.0,1794.0 2374.0,1793.7 2375.0,1793.2 2376.0,1792.9 2377.0,1792.8 2378.0,1793.1 2379.0,1793.5 2380.0,1793.9 2381.0,1794.2 2382.0,1794.7 2383.0,1795.3 2384.0,1795.8 2385.0,1796.2 2386.0,1796.5 2387.0,1796.8 2388.0,1797.6 2389.0,1798.7 2390.0,1799.7 2391.0,1800.3 2392.0,1800.6 2393.0,1800.6 2394.0,1800.5 2395.0,1800.1 2396.0,1799.5 2397.0,1798.8 2398.0,1798.2 2399.0,1798.1 2400.0,1798.7 2401.0,1799.2 2402.0,1799.1" fill="none" stroke="#000000" stroke-width="2.9" stroke-linejoin="round" stroke-linecap="round"/>
<path d="M1333.20,1978.90V1963.40M1440.13,1978.90V1970.40M1547.06,1978.90V1963.40M1653.99,1978.90V1970.40M1760.92,1978.90V1963.40M1867.85,1978.90V1970.40M1974.78,1978.90V1963.40M2081.71,1978.90V1970.40M2188.64,1978.90V1963.40M2295.57,1978.90V1970.40M2402.50,1978.90V1963.40" fill="none" stroke="#000" stroke-width="2.7" stroke-linecap="butt"/>
<rect x="1333.20" y="1140.20" width="1069.30" height="838.70" fill="none" stroke="#000" stroke-width="2.8"/></g>
<g><text transform="translate(120.70,885.50) scale(0.975,1)" font-size="47.5" text-anchor="middle">3000</text>
<text transform="translate(330.12,885.50) scale(0.975,1)" font-size="47.5" text-anchor="middle">3200</text>
<text transform="translate(539.54,885.50) scale(0.975,1)" font-size="47.5" text-anchor="middle">3400</text>
<text transform="translate(748.96,885.50) scale(0.975,1)" font-size="47.5" text-anchor="middle">3600</text>
<text transform="translate(958.38,885.50) scale(0.975,1)" font-size="47.5" text-anchor="middle">3800</text>
<text transform="translate(1167.80,885.50) scale(0.975,1)" font-size="47.5" text-anchor="middle">4000</text>
<text transform="translate(643.60,964.60) scale(0.975,1)" font-size="64.6" text-anchor="middle">Magnetic field (G)</text>
<text transform="translate(71.40,472.60) scale(0.975,1) rotate(-90)" font-size="65.2" text-anchor="middle">Intensity (a.u.)</text>
<text transform="translate(49.11,81.50) scale(0.975,1)" font-size="56.0" text-anchor="start">(a)</text>
<text transform="translate(921.35,211.00) scale(0.975,1)" font-size="54.0" text-anchor="start">Ce-Mn-NC</text>
<text transform="translate(951.65,423.00) scale(0.975,1)" font-size="54.0" text-anchor="start"><tspan>CeO</tspan><tspan font-size="36.02" dy="19.44">2</tspan><tspan font-size="54.0" dy="-19.44">-NC</tspan></text>
<text transform="translate(920.75,574.60) scale(0.975,1)" font-size="54.0" text-anchor="start">Ce-Mn-NF</text>
<text transform="translate(951.65,736.90) scale(0.975,1)" font-size="54.0" text-anchor="start"><tspan>CeO</tspan><tspan font-size="36.02" dy="19.44">2</tspan><tspan font-size="54.0" dy="-19.44">-NF</tspan></text>
<text transform="translate(1360.70,858.20) scale(1.0041,1)" font-size="46.12" text-anchor="middle">3460</text>
<text transform="translate(1570.12,858.20) scale(1.0041,1)" font-size="46.12" text-anchor="middle">3480</text>
<text transform="translate(1779.54,858.20) scale(1.0041,1)" font-size="46.12" text-anchor="middle">3500</text>
<text transform="translate(1988.96,858.20) scale(1.0041,1)" font-size="46.12" text-anchor="middle">3520</text>
<text transform="translate(2198.38,858.20) scale(1.0041,1)" font-size="46.12" text-anchor="middle">3540</text>
<text transform="translate(2407.80,858.20) scale(1.0041,1)" font-size="46.12" text-anchor="middle">3560</text>
<text transform="translate(1883.60,942.90) scale(1.0041,1)" font-size="62.73" text-anchor="middle">Magnetic field (G)</text>
<text transform="translate(1303.80,457.80) scale(1.0041,1) rotate(-90)" font-size="63.31" text-anchor="middle">Intensity (a.u.)</text>
<text transform="translate(1279.91,73.40) scale(1.0041,1)" font-size="54.38" text-anchor="start">(b)</text>
<text transform="translate(1378.11,91.59) scale(1.0,1)" font-size="51.3" text-anchor="start">·</text>
<text transform="translate(1395.33,90.80) scale(0.9666,1)" font-size="55.4" text-anchor="start">O</text>
<text transform="translate(1433.27,109.00) scale(1.0221,1)" font-size="31.5" text-anchor="start">2</text>
<text transform="translate(1434.28,64.60) scale(0.9359,1)" font-size="30.0" text-anchor="start">-</text>
<text transform="translate(2156.85,120.20) scale(1.0041,1)" font-size="52.43" text-anchor="start">Ce-Mn-NC</text>
<text transform="translate(2192.65,246.70) scale(1.0041,1)" font-size="52.43" text-anchor="start"><tspan>CeO</tspan><tspan font-size="34.97" dy="18.87">2</tspan><tspan font-size="52.43" dy="-18.87">-NC</tspan></text>
<text transform="translate(2163.25,442.50) scale(1.0041,1)" font-size="52.43" text-anchor="start">Ce-Mn-NF</text>
<text transform="translate(2182.05,683.90) scale(1.0041,1)" font-size="52.43" text-anchor="start"><tspan>CeO</tspan><tspan font-size="34.97" dy="18.87">2</tspan><tspan font-size="52.43" dy="-18.87">-NF</tspan></text>
<text transform="translate(136.70,2045.00) scale(0.9368,1)" font-size="49.21" text-anchor="middle">3460</text>
<text transform="translate(345.14,2045.00) scale(0.9368,1)" font-size="49.21" text-anchor="middle">3480</text>
<text transform="translate(553.58,2045.00) scale(0.9368,1)" font-size="49.21" text-anchor="middle">3500</text>
<text transform="translate(762.02,2045.00) scale(0.9368,1)" font-size="49.21" text-anchor="middle">3520</text>
<text transform="translate(970.46,2045.00) scale(0.9368,1)" font-size="49.21" text-anchor="middle">3540</text>
<text transform="translate(1178.90,2045.00) scale(0.9368,1)" font-size="49.21" text-anchor="middle">3560</text>
<text transform="translate(657.60,2123.70) scale(0.9368,1)" font-size="66.92" text-anchor="middle">Magnetic field (G)</text>
<text transform="translate(80.00,1608.30) scale(0.9368,1) rotate(-90)" font-size="67.54" text-anchor="middle">Intensity (a.u.)</text>
<text transform="translate(64.82,1209.20) scale(0.9368,1)" font-size="58.01" text-anchor="start">(c)</text>
<text transform="translate(154.19,1191.10) scale(0.6904,1)" font-size="34.2" text-anchor="start">1</text>
<text transform="translate(168.05,1219.30) scale(0.9022,1)" font-size="58.5" text-anchor="start">O</text>
<text transform="translate(205.83,1238.50) scale(0.9975,1)" font-size="33.5" text-anchor="start">2</text>
<text transform="translate(923.76,1226.20) scale(0.9368,1)" font-size="55.94" text-anchor="start">Ce-Mn-NC</text>
<text transform="translate(911.96,1409.50) scale(0.9368,1)" font-size="55.94" text-anchor="start"><tspan>CeO</tspan><tspan font-size="37.31" dy="20.14">2</tspan><tspan font-size="55.94" dy="-20.14">-NC</tspan></text>
<text transform="translate(937.66,1598.00) scale(0.9368,1)" font-size="55.94" text-anchor="start">Ce-Mn-NF</text>
<text transform="translate(907.86,1834.60) scale(0.9368,1)" font-size="55.94" text-anchor="start"><tspan>CeO</tspan><tspan font-size="37.31" dy="20.14">2</tspan><tspan font-size="55.94" dy="-20.14">-NF</tspan></text>
<text transform="translate(1332.40,2034.30) scale(0.9497,1)" font-size="49.8" text-anchor="middle">3460</text>
<text transform="translate(1546.26,2034.30) scale(0.9497,1)" font-size="49.8" text-anchor="middle">3480</text>
<text transform="translate(1760.12,2034.30) scale(0.9497,1)" font-size="49.8" text-anchor="middle">3500</text>
<text transform="translate(1973.98,2034.30) scale(0.9497,1)" font-size="49.8" text-anchor="middle">3520</text>
<text transform="translate(2187.84,2034.30) scale(0.9497,1)" font-size="49.8" text-anchor="middle">3540</text>
<text transform="translate(2401.70,2034.30) scale(0.9497,1)" font-size="49.8" text-anchor="middle">3560</text>
<text transform="translate(1867.10,2121.00) scale(0.9497,1)" font-size="67.73" text-anchor="middle">Magnetic field (G)</text>
<text transform="translate(1296.60,1601.60) scale(0.9497,1) rotate(-90)" font-size="68.36" text-anchor="middle">Intensity (a.u.)</text>
<text transform="translate(1258.46,1194.20) scale(0.9497,1)" font-size="58.71" text-anchor="start">(d)</text>
<text transform="translate(1353.31,1197.94) scale(1.0,1)" font-size="46.09" text-anchor="start">·</text>
<text transform="translate(1370.41,1201.60) scale(0.9303,1)" font-size="58.0" text-anchor="start">OH</text>
<text transform="translate(2147.41,1232.20) scale(0.9497,1)" font-size="56.61" text-anchor="start">Ce-Mn-NC</text>
<text transform="translate(2184.51,1379.40) scale(0.9497,1)" font-size="56.61" text-anchor="start"><tspan>CeO</tspan><tspan font-size="37.76" dy="20.38">2</tspan><tspan font-size="56.61" dy="-20.38">-NC</tspan></text>
<text transform="translate(2151.51,1555.00) scale(0.9497,1)" font-size="56.61" text-anchor="start">Ce-Mn-NF</text>
<text transform="translate(2174.21,1751.30) scale(0.9497,1)" font-size="56.61" text-anchor="start"><tspan>CeO</tspan><tspan font-size="37.76" dy="20.38">2</tspan><tspan font-size="56.61" dy="-20.38">-NF</tspan></text>
<text transform="translate(1574.85,1248.53) scale(0.8,1)" font-size="45.5" text-anchor="middle">*</text>
<text transform="translate(1731.80,1249.73) scale(0.8,1)" font-size="45.5" text-anchor="middle">*</text>
<text transform="translate(1893.00,1246.73) scale(0.8,1)" font-size="45.5" text-anchor="middle">*</text>
<text transform="translate(2053.00,1250.13) scale(0.8,1)" font-size="45.5" text-anchor="middle">*</text>
<text transform="translate(1580.75,1576.13) scale(0.8,1)" font-size="45.5" text-anchor="middle">*</text>
<text transform="translate(1719.50,1554.93) scale(0.8,1)" font-size="45.5" text-anchor="middle">*</text>
<text transform="translate(1875.00,1557.63) scale(0.8,1)" font-size="45.5" text-anchor="middle">*</text>
<text transform="translate(2054.25,1577.63) scale(0.8,1)" font-size="45.5" text-anchor="middle">*</text></g>
</svg>
</body></html>
